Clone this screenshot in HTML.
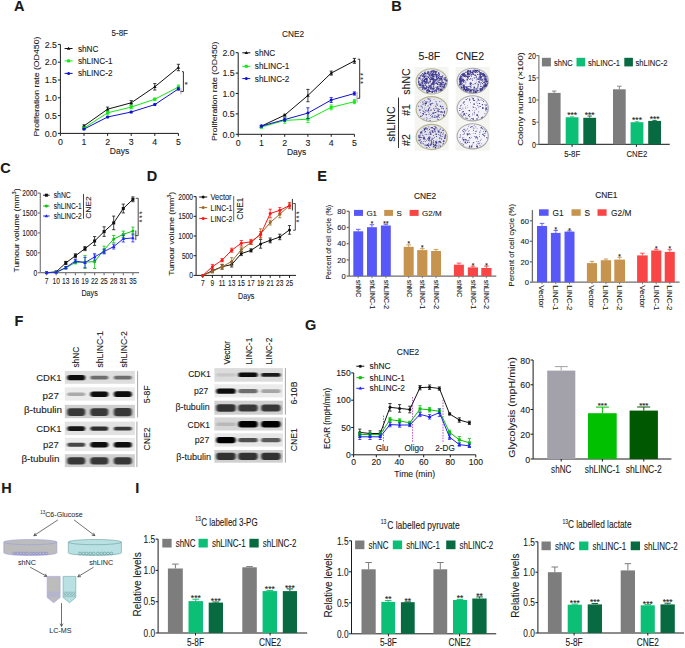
<!DOCTYPE html>
<html><head><meta charset="utf-8"><style>
html,body{margin:0;padding:0;background:#fff;}
svg{display:block;font-family:"Liberation Sans", sans-serif;}
text{fill:#1a1a1a;stroke:#1a1a1a;stroke-width:0.1px;}
text.lt{stroke-width:0;fill:#222;}
</style></head><body>
<svg width="685" height="648" viewBox="0 0 685 648">
<rect width="685" height="648" fill="#fff"/>
<text x="14.0" y="10.5" font-size="14.5" fill="#000" font-weight="bold">A</text>
<text x="0" y="0" font-size="9.5" transform="translate(119.8 36.0) scale(0.84 1)" text-anchor="middle">5-8F</text>
<line x1="60.4" y1="133.4" x2="60.4" y2="44.4" stroke="#1a1a1a" stroke-width="1"/>
<line x1="57.9" y1="133.4" x2="60.4" y2="133.4" stroke="#1a1a1a" stroke-width="1"/>
<text x="56.9" y="136.6" font-size="8.8" text-anchor="end">0.0</text>
<line x1="57.9" y1="115.6" x2="60.4" y2="115.6" stroke="#1a1a1a" stroke-width="1"/>
<text x="56.9" y="118.8" font-size="8.8" text-anchor="end">0.5</text>
<line x1="57.9" y1="97.8" x2="60.4" y2="97.8" stroke="#1a1a1a" stroke-width="1"/>
<text x="56.9" y="101.0" font-size="8.8" text-anchor="end">1.0</text>
<line x1="57.9" y1="80.0" x2="60.4" y2="80.0" stroke="#1a1a1a" stroke-width="1"/>
<text x="56.9" y="83.2" font-size="8.8" text-anchor="end">1.5</text>
<line x1="57.9" y1="62.2" x2="60.4" y2="62.2" stroke="#1a1a1a" stroke-width="1"/>
<text x="56.9" y="65.4" font-size="8.8" text-anchor="end">2.0</text>
<line x1="57.9" y1="44.4" x2="60.4" y2="44.4" stroke="#1a1a1a" stroke-width="1"/>
<text x="56.9" y="47.6" font-size="8.8" text-anchor="end">2.5</text>
<line x1="60.4" y1="133.4" x2="178.4" y2="133.4" stroke="#1a1a1a" stroke-width="1"/>
<line x1="60.4" y1="133.4" x2="60.4" y2="135.9" stroke="#1a1a1a" stroke-width="1"/>
<text x="60.4" y="144.6" font-size="8.8" text-anchor="middle">0</text>
<line x1="84.0" y1="133.4" x2="84.0" y2="135.9" stroke="#1a1a1a" stroke-width="1"/>
<text x="84.0" y="144.6" font-size="8.8" text-anchor="middle">1</text>
<line x1="107.6" y1="133.4" x2="107.6" y2="135.9" stroke="#1a1a1a" stroke-width="1"/>
<text x="107.6" y="144.6" font-size="8.8" text-anchor="middle">2</text>
<line x1="131.2" y1="133.4" x2="131.2" y2="135.9" stroke="#1a1a1a" stroke-width="1"/>
<text x="131.2" y="144.6" font-size="8.8" text-anchor="middle">3</text>
<line x1="154.8" y1="133.4" x2="154.8" y2="135.9" stroke="#1a1a1a" stroke-width="1"/>
<text x="154.8" y="144.6" font-size="8.8" text-anchor="middle">4</text>
<line x1="178.4" y1="133.4" x2="178.4" y2="135.9" stroke="#1a1a1a" stroke-width="1"/>
<text x="178.4" y="144.6" font-size="8.8" text-anchor="middle">5</text>
<text x="119.5" y="153.5" font-size="8.5" text-anchor="middle">Days</text>
<text x="39.1" y="86.6" font-size="8.0" transform="rotate(-90 39.1 86.6)" text-anchor="middle" textLength="100.0" lengthAdjust="spacingAndGlyphs">Proliferation rate (OD450)</text>
<polyline points="84.0,125.9 107.6,109.2 131.2,102.8 154.8,86.8 178.4,67.5" fill="none" stroke="#111" stroke-width="1"/>
<line x1="84.0" y1="124.9" x2="84.0" y2="127.0" stroke="#111" stroke-width="0.8"/>
<line x1="82.4" y1="124.9" x2="85.6" y2="124.9" stroke="#111" stroke-width="0.8"/>
<line x1="82.4" y1="127.0" x2="85.6" y2="127.0" stroke="#111" stroke-width="0.8"/>
<path d="M82.2,127.2 L85.8,127.2 L84.0,124.1Z" fill="#111"/>
<line x1="107.6" y1="107.1" x2="107.6" y2="111.3" stroke="#111" stroke-width="0.8"/>
<line x1="106.0" y1="107.1" x2="109.2" y2="107.1" stroke="#111" stroke-width="0.8"/>
<line x1="106.0" y1="111.3" x2="109.2" y2="111.3" stroke="#111" stroke-width="0.8"/>
<path d="M105.8,110.5 L109.4,110.5 L107.6,107.4Z" fill="#111"/>
<line x1="131.2" y1="100.6" x2="131.2" y2="104.9" stroke="#111" stroke-width="0.8"/>
<line x1="129.6" y1="100.6" x2="132.8" y2="100.6" stroke="#111" stroke-width="0.8"/>
<line x1="129.6" y1="104.9" x2="132.8" y2="104.9" stroke="#111" stroke-width="0.8"/>
<path d="M129.4,104.1 L133.0,104.1 L131.2,101.0Z" fill="#111"/>
<line x1="154.8" y1="83.6" x2="154.8" y2="90.0" stroke="#111" stroke-width="0.8"/>
<line x1="153.2" y1="83.6" x2="156.4" y2="83.6" stroke="#111" stroke-width="0.8"/>
<line x1="153.2" y1="90.0" x2="156.4" y2="90.0" stroke="#111" stroke-width="0.8"/>
<path d="M153.0,88.1 L156.6,88.1 L154.8,85.0Z" fill="#111"/>
<line x1="178.4" y1="64.3" x2="178.4" y2="70.7" stroke="#111" stroke-width="0.8"/>
<line x1="176.8" y1="64.3" x2="180.0" y2="64.3" stroke="#111" stroke-width="0.8"/>
<line x1="176.8" y1="70.7" x2="180.0" y2="70.7" stroke="#111" stroke-width="0.8"/>
<path d="M176.6,68.8 L180.2,68.8 L178.4,65.7Z" fill="#111"/>
<polyline points="84.0,128.1 107.6,112.8 131.2,107.1 154.8,99.2 178.4,87.1" fill="none" stroke="#10ec10" stroke-width="1"/>
<line x1="84.0" y1="127.3" x2="84.0" y2="128.8" stroke="#10ec10" stroke-width="0.8"/>
<line x1="82.4" y1="127.3" x2="85.6" y2="127.3" stroke="#10ec10" stroke-width="0.8"/>
<line x1="82.4" y1="128.8" x2="85.6" y2="128.8" stroke="#10ec10" stroke-width="0.8"/>
<rect x="82.5" y="126.6" width="3.0" height="3.0" fill="#10ec10"/>
<line x1="107.6" y1="111.3" x2="107.6" y2="114.2" stroke="#10ec10" stroke-width="0.8"/>
<line x1="106.0" y1="111.3" x2="109.2" y2="111.3" stroke="#10ec10" stroke-width="0.8"/>
<line x1="106.0" y1="114.2" x2="109.2" y2="114.2" stroke="#10ec10" stroke-width="0.8"/>
<rect x="106.1" y="111.3" width="3.0" height="3.0" fill="#10ec10"/>
<line x1="131.2" y1="105.3" x2="131.2" y2="108.8" stroke="#10ec10" stroke-width="0.8"/>
<line x1="129.6" y1="105.3" x2="132.8" y2="105.3" stroke="#10ec10" stroke-width="0.8"/>
<line x1="129.6" y1="108.8" x2="132.8" y2="108.8" stroke="#10ec10" stroke-width="0.8"/>
<rect x="129.7" y="105.6" width="3.0" height="3.0" fill="#10ec10"/>
<line x1="154.8" y1="98.2" x2="154.8" y2="100.3" stroke="#10ec10" stroke-width="0.8"/>
<line x1="153.2" y1="98.2" x2="156.4" y2="98.2" stroke="#10ec10" stroke-width="0.8"/>
<line x1="153.2" y1="100.3" x2="156.4" y2="100.3" stroke="#10ec10" stroke-width="0.8"/>
<rect x="153.3" y="97.7" width="3.0" height="3.0" fill="#10ec10"/>
<line x1="178.4" y1="85.0" x2="178.4" y2="89.3" stroke="#10ec10" stroke-width="0.8"/>
<line x1="176.8" y1="85.0" x2="180.0" y2="85.0" stroke="#10ec10" stroke-width="0.8"/>
<line x1="176.8" y1="89.3" x2="180.0" y2="89.3" stroke="#10ec10" stroke-width="0.8"/>
<rect x="176.9" y="85.6" width="3.0" height="3.0" fill="#10ec10"/>
<polyline points="84.0,129.1 107.6,117.0 131.2,112.0 154.8,104.6 178.4,88.9" fill="none" stroke="#1010d0" stroke-width="1"/>
<line x1="84.0" y1="128.4" x2="84.0" y2="129.8" stroke="#1010d0" stroke-width="0.8"/>
<line x1="82.4" y1="128.4" x2="85.6" y2="128.4" stroke="#1010d0" stroke-width="0.8"/>
<line x1="82.4" y1="129.8" x2="85.6" y2="129.8" stroke="#1010d0" stroke-width="0.8"/>
<circle cx="84.0" cy="129.1" r="1.5" fill="#1010d0"/>
<line x1="107.6" y1="116.3" x2="107.6" y2="117.7" stroke="#1010d0" stroke-width="0.8"/>
<line x1="106.0" y1="116.3" x2="109.2" y2="116.3" stroke="#1010d0" stroke-width="0.8"/>
<line x1="106.0" y1="117.7" x2="109.2" y2="117.7" stroke="#1010d0" stroke-width="0.8"/>
<circle cx="107.6" cy="117.0" r="1.5" fill="#1010d0"/>
<line x1="131.2" y1="111.3" x2="131.2" y2="112.8" stroke="#1010d0" stroke-width="0.8"/>
<line x1="129.6" y1="111.3" x2="132.8" y2="111.3" stroke="#1010d0" stroke-width="0.8"/>
<line x1="129.6" y1="112.8" x2="132.8" y2="112.8" stroke="#1010d0" stroke-width="0.8"/>
<circle cx="131.2" cy="112.0" r="1.5" fill="#1010d0"/>
<line x1="154.8" y1="103.9" x2="154.8" y2="105.3" stroke="#1010d0" stroke-width="0.8"/>
<line x1="153.2" y1="103.9" x2="156.4" y2="103.9" stroke="#1010d0" stroke-width="0.8"/>
<line x1="153.2" y1="105.3" x2="156.4" y2="105.3" stroke="#1010d0" stroke-width="0.8"/>
<circle cx="154.8" cy="104.6" r="1.5" fill="#1010d0"/>
<line x1="178.4" y1="87.8" x2="178.4" y2="90.0" stroke="#1010d0" stroke-width="0.8"/>
<line x1="176.8" y1="87.8" x2="180.0" y2="87.8" stroke="#1010d0" stroke-width="0.8"/>
<line x1="176.8" y1="90.0" x2="180.0" y2="90.0" stroke="#1010d0" stroke-width="0.8"/>
<circle cx="178.4" cy="88.9" r="1.5" fill="#1010d0"/>
<line x1="64.6" y1="48.5" x2="72.6" y2="48.5" stroke="#111" stroke-width="1"/>
<path d="M66.8,49.8 L70.4,49.8 L68.6,46.7Z" fill="#111"/>
<text x="77.9" y="51.5" font-size="8.2">shNC</text>
<line x1="64.6" y1="60.9" x2="72.6" y2="60.9" stroke="#10ec10" stroke-width="1"/>
<rect x="67.1" y="59.4" width="3.0" height="3.0" fill="#10ec10"/>
<text x="77.9" y="63.9" font-size="8.2">shLINC-1</text>
<line x1="64.6" y1="73.4" x2="72.6" y2="73.4" stroke="#1010d0" stroke-width="1"/>
<circle cx="68.6" cy="73.4" r="1.5" fill="#1010d0"/>
<text x="77.9" y="76.4" font-size="8.2">shLINC-2</text>
<line x1="183.4" y1="71.7" x2="183.4" y2="91.5" stroke="#1a1a1a" stroke-width="0.9"/>
<line x1="182.0" y1="71.7" x2="183.4" y2="71.7" stroke="#1a1a1a" stroke-width="0.9"/>
<line x1="180.4" y1="91.5" x2="183.4" y2="91.5" stroke="#1a1a1a" stroke-width="0.9"/>
<line x1="180.9" y1="88.4" x2="180.9" y2="94.3" stroke="#999" stroke-width="0.9"/>
<text x="186.0" y="87.2" font-size="7" text-anchor="middle">*</text>
<text x="0" y="0" font-size="9.5" transform="translate(293.0 37.0) scale(0.87 1)" text-anchor="middle">CNE2</text>
<line x1="238.2" y1="134.3" x2="238.2" y2="52.7" stroke="#1a1a1a" stroke-width="1"/>
<line x1="235.7" y1="134.3" x2="238.2" y2="134.3" stroke="#1a1a1a" stroke-width="1"/>
<text x="234.7" y="137.5" font-size="8.8" text-anchor="end">0.0</text>
<line x1="235.7" y1="113.9" x2="238.2" y2="113.9" stroke="#1a1a1a" stroke-width="1"/>
<text x="234.7" y="117.1" font-size="8.8" text-anchor="end">0.5</text>
<line x1="235.7" y1="93.5" x2="238.2" y2="93.5" stroke="#1a1a1a" stroke-width="1"/>
<text x="234.7" y="96.7" font-size="8.8" text-anchor="end">1.0</text>
<line x1="235.7" y1="73.1" x2="238.2" y2="73.1" stroke="#1a1a1a" stroke-width="1"/>
<text x="234.7" y="76.3" font-size="8.8" text-anchor="end">1.5</text>
<line x1="235.7" y1="52.7" x2="238.2" y2="52.7" stroke="#1a1a1a" stroke-width="1"/>
<text x="234.7" y="55.9" font-size="8.8" text-anchor="end">2.0</text>
<line x1="238.2" y1="134.3" x2="354.4" y2="134.3" stroke="#1a1a1a" stroke-width="1"/>
<line x1="238.2" y1="134.3" x2="238.2" y2="136.8" stroke="#1a1a1a" stroke-width="1"/>
<text x="238.2" y="145.5" font-size="8.8" text-anchor="middle">0</text>
<line x1="261.4" y1="134.3" x2="261.4" y2="136.8" stroke="#1a1a1a" stroke-width="1"/>
<text x="261.4" y="145.5" font-size="8.8" text-anchor="middle">1</text>
<line x1="284.7" y1="134.3" x2="284.7" y2="136.8" stroke="#1a1a1a" stroke-width="1"/>
<text x="284.7" y="145.5" font-size="8.8" text-anchor="middle">2</text>
<line x1="307.9" y1="134.3" x2="307.9" y2="136.8" stroke="#1a1a1a" stroke-width="1"/>
<text x="307.9" y="145.5" font-size="8.8" text-anchor="middle">3</text>
<line x1="331.2" y1="134.3" x2="331.2" y2="136.8" stroke="#1a1a1a" stroke-width="1"/>
<text x="331.2" y="145.5" font-size="8.8" text-anchor="middle">4</text>
<line x1="354.4" y1="134.3" x2="354.4" y2="136.8" stroke="#1a1a1a" stroke-width="1"/>
<text x="354.4" y="145.5" font-size="8.8" text-anchor="middle">5</text>
<text x="296.6" y="155.0" font-size="8.5" text-anchor="middle">Days</text>
<text x="217.0" y="91.3" font-size="8.0" transform="rotate(-90 217.0 91.3)" text-anchor="middle" textLength="99.5" lengthAdjust="spacingAndGlyphs">Proliferation rate (OD450)</text>
<polyline points="261.4,126.1 284.7,115.1 307.9,95.5 331.2,73.1 354.4,60.9" fill="none" stroke="#111" stroke-width="1"/>
<line x1="261.4" y1="125.3" x2="261.4" y2="127.0" stroke="#111" stroke-width="0.8"/>
<line x1="259.8" y1="125.3" x2="263.0" y2="125.3" stroke="#111" stroke-width="0.8"/>
<line x1="259.8" y1="127.0" x2="263.0" y2="127.0" stroke="#111" stroke-width="0.8"/>
<path d="M259.6,127.4 L263.2,127.4 L261.4,124.3Z" fill="#111"/>
<line x1="284.7" y1="114.3" x2="284.7" y2="115.9" stroke="#111" stroke-width="0.8"/>
<line x1="283.1" y1="114.3" x2="286.3" y2="114.3" stroke="#111" stroke-width="0.8"/>
<line x1="283.1" y1="115.9" x2="286.3" y2="115.9" stroke="#111" stroke-width="0.8"/>
<path d="M282.9,116.4 L286.5,116.4 L284.7,113.3Z" fill="#111"/>
<line x1="307.9" y1="89.4" x2="307.9" y2="101.7" stroke="#111" stroke-width="0.8"/>
<line x1="306.3" y1="89.4" x2="309.5" y2="89.4" stroke="#111" stroke-width="0.8"/>
<line x1="306.3" y1="101.7" x2="309.5" y2="101.7" stroke="#111" stroke-width="0.8"/>
<path d="M306.1,96.8 L309.7,96.8 L307.9,93.7Z" fill="#111"/>
<line x1="331.2" y1="71.1" x2="331.2" y2="75.1" stroke="#111" stroke-width="0.8"/>
<line x1="329.6" y1="71.1" x2="332.8" y2="71.1" stroke="#111" stroke-width="0.8"/>
<line x1="329.6" y1="75.1" x2="332.8" y2="75.1" stroke="#111" stroke-width="0.8"/>
<path d="M329.4,74.4 L333.0,74.4 L331.2,71.3Z" fill="#111"/>
<line x1="354.4" y1="58.4" x2="354.4" y2="63.3" stroke="#111" stroke-width="0.8"/>
<line x1="352.8" y1="58.4" x2="356.0" y2="58.4" stroke="#111" stroke-width="0.8"/>
<line x1="352.8" y1="63.3" x2="356.0" y2="63.3" stroke="#111" stroke-width="0.8"/>
<path d="M352.6,62.2 L356.2,62.2 L354.4,59.1Z" fill="#111"/>
<polyline points="261.4,127.0 284.7,120.4 307.9,119.2 331.2,107.4 354.4,101.7" fill="none" stroke="#10ec10" stroke-width="1"/>
<line x1="261.4" y1="125.7" x2="261.4" y2="128.2" stroke="#10ec10" stroke-width="0.8"/>
<line x1="259.8" y1="125.7" x2="263.0" y2="125.7" stroke="#10ec10" stroke-width="0.8"/>
<line x1="259.8" y1="128.2" x2="263.0" y2="128.2" stroke="#10ec10" stroke-width="0.8"/>
<rect x="259.9" y="125.5" width="3.0" height="3.0" fill="#10ec10"/>
<line x1="284.7" y1="117.6" x2="284.7" y2="123.3" stroke="#10ec10" stroke-width="0.8"/>
<line x1="283.1" y1="117.6" x2="286.3" y2="117.6" stroke="#10ec10" stroke-width="0.8"/>
<line x1="283.1" y1="123.3" x2="286.3" y2="123.3" stroke="#10ec10" stroke-width="0.8"/>
<rect x="283.2" y="118.9" width="3.0" height="3.0" fill="#10ec10"/>
<line x1="307.9" y1="115.9" x2="307.9" y2="122.5" stroke="#10ec10" stroke-width="0.8"/>
<line x1="306.3" y1="115.9" x2="309.5" y2="115.9" stroke="#10ec10" stroke-width="0.8"/>
<line x1="306.3" y1="122.5" x2="309.5" y2="122.5" stroke="#10ec10" stroke-width="0.8"/>
<rect x="306.4" y="117.7" width="3.0" height="3.0" fill="#10ec10"/>
<line x1="331.2" y1="104.9" x2="331.2" y2="109.8" stroke="#10ec10" stroke-width="0.8"/>
<line x1="329.6" y1="104.9" x2="332.8" y2="104.9" stroke="#10ec10" stroke-width="0.8"/>
<line x1="329.6" y1="109.8" x2="332.8" y2="109.8" stroke="#10ec10" stroke-width="0.8"/>
<rect x="329.7" y="105.9" width="3.0" height="3.0" fill="#10ec10"/>
<line x1="354.4" y1="99.6" x2="354.4" y2="103.7" stroke="#10ec10" stroke-width="0.8"/>
<line x1="352.8" y1="99.6" x2="356.0" y2="99.6" stroke="#10ec10" stroke-width="0.8"/>
<line x1="352.8" y1="103.7" x2="356.0" y2="103.7" stroke="#10ec10" stroke-width="0.8"/>
<rect x="352.9" y="100.2" width="3.0" height="3.0" fill="#10ec10"/>
<polyline points="261.4,126.1 284.7,119.6 307.9,113.1 331.2,100.0 354.4,93.5" fill="none" stroke="#1010d0" stroke-width="1"/>
<line x1="261.4" y1="125.3" x2="261.4" y2="127.0" stroke="#1010d0" stroke-width="0.8"/>
<line x1="259.8" y1="125.3" x2="263.0" y2="125.3" stroke="#1010d0" stroke-width="0.8"/>
<line x1="259.8" y1="127.0" x2="263.0" y2="127.0" stroke="#1010d0" stroke-width="0.8"/>
<circle cx="261.4" cy="126.1" r="1.5" fill="#1010d0"/>
<line x1="284.7" y1="118.0" x2="284.7" y2="121.2" stroke="#1010d0" stroke-width="0.8"/>
<line x1="283.1" y1="118.0" x2="286.3" y2="118.0" stroke="#1010d0" stroke-width="0.8"/>
<line x1="283.1" y1="121.2" x2="286.3" y2="121.2" stroke="#1010d0" stroke-width="0.8"/>
<circle cx="284.7" cy="119.6" r="1.5" fill="#1010d0"/>
<line x1="307.9" y1="107.8" x2="307.9" y2="118.4" stroke="#1010d0" stroke-width="0.8"/>
<line x1="306.3" y1="107.8" x2="309.5" y2="107.8" stroke="#1010d0" stroke-width="0.8"/>
<line x1="306.3" y1="118.4" x2="309.5" y2="118.4" stroke="#1010d0" stroke-width="0.8"/>
<circle cx="307.9" cy="113.1" r="1.5" fill="#1010d0"/>
<line x1="331.2" y1="97.6" x2="331.2" y2="102.5" stroke="#1010d0" stroke-width="0.8"/>
<line x1="329.6" y1="97.6" x2="332.8" y2="97.6" stroke="#1010d0" stroke-width="0.8"/>
<line x1="329.6" y1="102.5" x2="332.8" y2="102.5" stroke="#1010d0" stroke-width="0.8"/>
<circle cx="331.2" cy="100.0" r="1.5" fill="#1010d0"/>
<line x1="354.4" y1="91.9" x2="354.4" y2="95.1" stroke="#1010d0" stroke-width="0.8"/>
<line x1="352.8" y1="91.9" x2="356.0" y2="91.9" stroke="#1010d0" stroke-width="0.8"/>
<line x1="352.8" y1="95.1" x2="356.0" y2="95.1" stroke="#1010d0" stroke-width="0.8"/>
<circle cx="354.4" cy="93.5" r="1.5" fill="#1010d0"/>
<line x1="242.3" y1="52.8" x2="250.3" y2="52.8" stroke="#111" stroke-width="1"/>
<path d="M244.5,54.1 L248.1,54.1 L246.3,51.0Z" fill="#111"/>
<text x="254.8" y="55.8" font-size="8.2">shNC</text>
<line x1="242.3" y1="66.3" x2="250.3" y2="66.3" stroke="#10ec10" stroke-width="1"/>
<rect x="244.8" y="64.8" width="3.0" height="3.0" fill="#10ec10"/>
<text x="254.8" y="69.3" font-size="8.2">shLINC-1</text>
<line x1="242.3" y1="78.6" x2="250.3" y2="78.6" stroke="#1010d0" stroke-width="1"/>
<circle cx="246.3" cy="78.6" r="1.5" fill="#1010d0"/>
<text x="254.8" y="81.6" font-size="8.2">shLINC-2</text>
<line x1="359.7" y1="59.2" x2="359.7" y2="98.3" stroke="#1a1a1a" stroke-width="0.9"/>
<line x1="357.8" y1="59.2" x2="359.7" y2="59.2" stroke="#1a1a1a" stroke-width="0.9"/>
<line x1="357.4" y1="98.3" x2="359.7" y2="98.3" stroke="#1a1a1a" stroke-width="0.9"/>
<line x1="357.0" y1="92.0" x2="357.0" y2="102.7" stroke="#999" stroke-width="0.9"/>
<text x="358.2" y="79.3" font-size="6.5" transform="rotate(90 358.2 79.3)" text-anchor="middle" letter-spacing="1.6">***</text>
<text x="391.3" y="11.3" font-size="14.5" fill="#000" font-weight="bold">B</text>
<text x="429.4" y="60.2" font-size="10.6" text-anchor="middle">5-8F</text>
<text x="469.9" y="60.2" font-size="10.6" text-anchor="middle">CNE2</text>
<text x="409.6" y="81.5" font-size="10.6" transform="rotate(-90 409.6 81.5)" text-anchor="middle">shNC</text>
<text x="409.6" y="109.9" font-size="10.6" transform="rotate(-90 409.6 109.9)" text-anchor="middle">#1</text>
<text x="409.6" y="140.1" font-size="10.6" transform="rotate(-90 409.6 140.1)" text-anchor="middle">#2</text>
<text x="394.9" y="124.1" font-size="10.6" transform="rotate(-90 394.9 124.1)" text-anchor="middle">shLINC</text>
<line x1="398.5" y1="97.5" x2="398.5" y2="148.1" stroke="#1a1a1a" stroke-width="0.9"/>
<rect x="414.6" y="67.0" width="34.0" height="28.5" fill="#f4f4f0"/>
<rect x="414.6" y="95.5" width="34.0" height="27.7" fill="#f4f4f0"/>
<rect x="414.6" y="123.2" width="34.0" height="27.4" fill="#f4f4f0"/>
<rect x="455.6" y="67.0" width="34.0" height="28.5" fill="#f4f4f0"/>
<rect x="455.6" y="95.5" width="34.0" height="27.7" fill="#f4f4f0"/>
<rect x="455.6" y="123.2" width="34.0" height="27.4" fill="#f4f4f0"/>
<ellipse cx="431.7" cy="81.4" rx="15.6" ry="12.6" fill="#e8e6f0" stroke="#b4b48e" stroke-width="1.1"/>
<path d="M439.2 75.9h0.9v0.9h-0.9zM425.0 88.2h0.6v0.6h-0.6zM418.1 82.3h0.9v0.9h-0.9zM438.2 82.0h0.9v0.9h-0.9zM433.2 77.9h0.9v0.9h-0.9zM429.3 90.8h0.6v0.6h-0.6zM426.9 86.4h0.9v0.9h-0.9zM434.2 90.0h0.9v0.9h-0.9zM429.2 74.0h0.8v0.8h-0.8zM432.3 79.0h0.6v0.6h-0.6zM430.8 77.1h0.9v0.9h-0.9zM439.4 82.3h0.7v0.7h-0.7zM429.0 77.9h0.8v0.8h-0.8zM430.5 76.2h0.6v0.6h-0.6zM428.4 89.5h0.7v0.7h-0.7zM432.2 82.8h0.6v0.6h-0.6zM431.2 78.3h0.9v0.9h-0.9zM422.5 83.3h0.8v0.8h-0.8zM422.2 75.9h0.8v0.8h-0.8zM435.9 76.8h0.9v0.9h-0.9zM430.9 70.6h0.9v0.9h-0.9zM432.0 74.8h0.6v0.6h-0.6zM430.1 81.5h0.7v0.7h-0.7zM445.3 84.4h0.9v0.9h-0.9zM423.8 84.8h0.8v0.8h-0.8zM436.3 79.7h0.7v0.7h-0.7zM433.4 89.3h0.7v0.7h-0.7zM423.3 85.3h0.7v0.7h-0.7zM431.5 91.3h0.9v0.9h-0.9zM417.9 83.9h0.8v0.8h-0.8zM420.2 78.7h0.9v0.9h-0.9zM439.1 83.7h0.8v0.8h-0.8zM439.7 86.3h0.6v0.6h-0.6zM426.6 79.3h0.7v0.7h-0.7zM441.1 77.8h0.9v0.9h-0.9zM419.6 82.5h0.8v0.8h-0.8zM427.8 76.8h0.6v0.6h-0.6zM430.5 76.4h0.8v0.8h-0.8zM421.9 89.2h0.9v0.9h-0.9zM440.5 82.4h0.8v0.8h-0.8zM419.2 77.3h0.9v0.9h-0.9zM420.6 75.0h0.9v0.9h-0.9zM436.3 76.0h0.8v0.8h-0.8zM423.1 78.2h0.6v0.6h-0.6zM445.5 80.2h0.8v0.8h-0.8zM422.7 88.0h0.8v0.8h-0.8zM424.4 72.4h0.6v0.6h-0.6zM424.4 71.7h0.6v0.6h-0.6zM427.7 80.7h0.6v0.6h-0.6zM422.4 87.6h0.8v0.8h-0.8zM426.1 86.1h0.8v0.8h-0.8zM421.0 74.8h0.6v0.6h-0.6zM439.7 88.7h0.7v0.7h-0.7zM442.1 75.7h0.9v0.9h-0.9zM440.5 82.5h0.9v0.9h-0.9zM422.3 81.1h0.9v0.9h-0.9zM437.2 83.2h0.7v0.7h-0.7zM424.8 88.8h0.9v0.9h-0.9zM431.1 75.2h0.8v0.8h-0.8zM443.8 87.3h0.8v0.8h-0.8zM422.0 87.4h0.8v0.8h-0.8zM425.9 76.9h0.7v0.7h-0.7zM437.5 86.7h0.6v0.6h-0.6zM444.3 86.4h0.9v0.9h-0.9zM441.6 82.4h0.6v0.6h-0.6zM439.6 89.1h0.6v0.6h-0.6zM430.1 91.0h0.9v0.9h-0.9zM428.8 90.7h0.9v0.9h-0.9zM425.3 78.7h0.7v0.7h-0.7zM432.9 76.3h0.8v0.8h-0.8zM441.2 80.2h0.7v0.7h-0.7zM433.0 81.2h0.7v0.7h-0.7zM421.3 81.4h0.8v0.8h-0.8zM429.9 85.4h0.8v0.8h-0.8zM430.3 77.0h0.9v0.9h-0.9zM428.3 82.7h0.7v0.7h-0.7zM445.6 80.5h0.9v0.9h-0.9zM444.2 86.2h0.7v0.7h-0.7zM429.6 79.3h0.6v0.6h-0.6zM431.5 87.0h0.8v0.8h-0.8zM435.4 79.3h0.9v0.9h-0.9zM439.8 89.2h0.6v0.6h-0.6zM427.4 76.1h0.8v0.8h-0.8zM421.7 88.9h0.9v0.9h-0.9zM429.5 78.1h0.6v0.6h-0.6zM428.9 85.7h0.7v0.7h-0.7zM432.4 78.4h0.6v0.6h-0.6zM422.2 84.9h0.8v0.8h-0.8zM427.6 86.8h0.9v0.9h-0.9zM422.3 87.9h0.8v0.8h-0.8zM437.9 75.9h0.7v0.7h-0.7zM425.1 71.7h0.9v0.9h-0.9zM430.5 73.8h0.9v0.9h-0.9zM436.9 81.3h0.9v0.9h-0.9zM436.4 71.4h0.7v0.7h-0.7zM436.4 78.9h0.8v0.8h-0.8zM422.4 79.8h0.6v0.6h-0.6zM443.3 82.5h0.9v0.9h-0.9zM425.0 83.9h0.6v0.6h-0.6zM443.5 81.7h0.6v0.6h-0.6zM439.2 90.4h0.8v0.8h-0.8zM432.0 78.9h0.9v0.9h-0.9zM420.4 84.8h0.6v0.6h-0.6zM425.7 73.6h0.8v0.8h-0.8zM420.2 77.9h0.6v0.6h-0.6zM426.0 88.2h0.9v0.9h-0.9zM430.3 76.4h0.8v0.8h-0.8zM421.2 81.9h0.8v0.8h-0.8zM439.8 86.0h0.8v0.8h-0.8zM428.0 77.0h0.8v0.8h-0.8zM444.3 84.1h0.8v0.8h-0.8zM435.8 74.0h0.6v0.6h-0.6zM434.3 90.4h0.8v0.8h-0.8zM423.7 74.6h0.7v0.7h-0.7zM429.6 85.4h0.7v0.7h-0.7zM440.2 86.5h0.8v0.8h-0.8zM432.6 78.7h0.6v0.6h-0.6zM428.9 90.0h0.9v0.9h-0.9zM435.8 82.3h0.8v0.8h-0.8zM445.2 82.4h0.8v0.8h-0.8zM432.4 82.4h0.9v0.9h-0.9zM434.6 83.2h0.7v0.7h-0.7zM431.9 83.3h0.7v0.7h-0.7zM428.9 91.3h0.6v0.6h-0.6zM441.6 78.8h0.8v0.8h-0.8zM435.6 89.4h0.9v0.9h-0.9zM430.4 72.7h0.9v0.9h-0.9zM444.6 79.4h0.8v0.8h-0.8zM438.6 85.7h0.9v0.9h-0.9zM423.6 88.8h0.9v0.9h-0.9zM424.6 80.9h0.9v0.9h-0.9zM433.2 79.6h0.6v0.6h-0.6zM422.5 88.3h0.6v0.6h-0.6zM420.9 80.2h0.9v0.9h-0.9zM424.8 86.9h0.8v0.8h-0.8zM442.3 84.4h0.7v0.7h-0.7zM440.0 84.2h0.6v0.6h-0.6zM436.2 91.0h0.8v0.8h-0.8zM423.9 76.3h0.9v0.9h-0.9zM421.6 75.9h0.6v0.6h-0.6zM423.5 78.4h0.8v0.8h-0.8zM422.4 87.3h0.9v0.9h-0.9zM421.3 87.3h0.7v0.7h-0.7zM432.8 86.0h0.6v0.6h-0.6zM423.9 74.6h0.8v0.8h-0.8zM428.0 86.4h0.6v0.6h-0.6zM436.8 76.3h0.8v0.8h-0.8zM438.1 72.9h0.8v0.8h-0.8zM429.0 85.4h0.9v0.9h-0.9zM433.5 82.2h0.7v0.7h-0.7zM420.5 75.5h0.8v0.8h-0.8zM424.9 72.9h0.8v0.8h-0.8zM427.8 82.7h0.6v0.6h-0.6zM442.5 75.0h0.8v0.8h-0.8zM441.2 79.3h0.7v0.7h-0.7zM425.1 85.2h0.6v0.6h-0.6zM432.8 70.3h0.7v0.7h-0.7zM428.3 82.8h0.9v0.9h-0.9zM418.3 79.9h0.8v0.8h-0.8zM444.1 79.3h0.6v0.6h-0.6zM420.2 87.7h0.6v0.6h-0.6zM440.6 88.9h0.8v0.8h-0.8zM433.2 87.8h0.8v0.8h-0.8zM424.3 82.8h0.7v0.7h-0.7zM437.5 79.6h0.8v0.8h-0.8zM430.0 85.9h0.7v0.7h-0.7zM419.0 85.3h0.7v0.7h-0.7zM432.9 84.2h0.6v0.6h-0.6zM443.1 78.8h0.7v0.7h-0.7zM436.2 87.8h0.9v0.9h-0.9zM428.0 84.8h0.7v0.7h-0.7zM436.1 91.4h0.9v0.9h-0.9zM417.9 79.1h0.7v0.7h-0.7zM422.4 83.3h0.9v0.9h-0.9zM432.1 74.4h0.6v0.6h-0.6zM418.7 81.8h0.6v0.6h-0.6zM422.2 73.1h0.8v0.8h-0.8zM439.4 84.5h0.9v0.9h-0.9zM433.2 85.9h0.7v0.7h-0.7zM431.6 76.4h0.8v0.8h-0.8zM433.6 89.2h0.6v0.6h-0.6zM424.6 78.8h0.6v0.6h-0.6zM424.6 74.5h0.7v0.7h-0.7zM436.5 70.8h0.9v0.9h-0.9zM433.0 91.1h0.7v0.7h-0.7zM425.6 85.1h0.8v0.8h-0.8zM434.3 84.0h0.8v0.8h-0.8zM435.1 71.3h0.7v0.7h-0.7zM435.4 72.4h0.7v0.7h-0.7zM438.7 81.5h0.7v0.7h-0.7zM440.8 78.8h0.7v0.7h-0.7zM440.7 83.2h0.6v0.6h-0.6zM433.5 85.1h0.7v0.7h-0.7zM425.1 84.5h0.7v0.7h-0.7zM432.8 91.0h0.6v0.6h-0.6zM419.6 87.0h0.9v0.9h-0.9zM422.8 74.0h0.9v0.9h-0.9zM432.3 74.6h0.6v0.6h-0.6zM422.5 73.4h0.8v0.8h-0.8zM440.2 89.1h0.9v0.9h-0.9zM425.1 78.1h0.6v0.6h-0.6zM433.2 90.7h0.9v0.9h-0.9zM426.1 87.0h0.8v0.8h-0.8zM419.3 83.8h0.8v0.8h-0.8zM428.0 71.8h0.6v0.6h-0.6zM441.6 80.2h0.6v0.6h-0.6zM427.7 73.4h0.6v0.6h-0.6zM429.0 89.7h0.8v0.8h-0.8zM424.5 88.0h0.9v0.9h-0.9zM433.1 83.1h0.6v0.6h-0.6zM437.7 90.5h0.9v0.9h-0.9zM419.8 76.5h0.8v0.8h-0.8zM424.1 72.3h0.6v0.6h-0.6zM438.5 76.9h0.7v0.7h-0.7zM426.4 91.0h0.7v0.7h-0.7zM418.6 83.4h0.9v0.9h-0.9zM424.1 83.4h0.6v0.6h-0.6zM438.0 80.5h0.8v0.8h-0.8zM444.9 77.7h0.8v0.8h-0.8zM433.2 70.3h0.6v0.6h-0.6zM432.4 74.0h0.7v0.7h-0.7zM423.4 76.6h0.8v0.8h-0.8zM444.0 85.0h0.9v0.9h-0.9zM429.4 86.0h0.9v0.9h-0.9zM434.6 86.8h0.9v0.9h-0.9zM426.0 87.4h0.8v0.8h-0.8zM439.1 87.8h0.8v0.8h-0.8zM424.0 80.1h0.8v0.8h-0.8zM437.3 84.2h0.9v0.9h-0.9zM434.3 87.9h0.7v0.7h-0.7zM437.9 77.5h0.6v0.6h-0.6zM421.1 85.7h0.8v0.8h-0.8zM437.4 74.2h0.8v0.8h-0.8zM426.1 78.6h0.9v0.9h-0.9zM440.6 89.5h0.9v0.9h-0.9zM444.2 83.8h0.7v0.7h-0.7zM438.0 76.9h0.8v0.8h-0.8zM426.2 81.4h0.6v0.6h-0.6zM441.5 87.1h0.6v0.6h-0.6zM431.7 89.8h0.8v0.8h-0.8zM418.4 77.8h0.6v0.6h-0.6zM428.6 71.5h0.9v0.9h-0.9zM422.7 84.6h0.7v0.7h-0.7zM423.8 77.0h0.6v0.6h-0.6zM425.6 77.9h0.9v0.9h-0.9zM442.3 86.4h0.7v0.7h-0.7zM426.7 78.2h0.9v0.9h-0.9zM442.1 78.8h0.7v0.7h-0.7zM442.7 82.1h0.8v0.8h-0.8zM439.0 78.5h0.8v0.8h-0.8zM426.4 91.8h0.8v0.8h-0.8zM421.0 73.9h0.7v0.7h-0.7zM426.4 76.4h0.6v0.6h-0.6zM429.7 82.5h0.6v0.6h-0.6zM436.0 86.7h0.8v0.8h-0.8zM441.9 87.8h0.8v0.8h-0.8zM427.2 72.8h0.6v0.6h-0.6zM426.8 79.2h0.6v0.6h-0.6zM424.0 76.7h0.7v0.7h-0.7zM419.6 83.1h0.9v0.9h-0.9zM442.1 80.0h0.7v0.7h-0.7zM432.1 78.1h0.6v0.6h-0.6zM419.8 75.5h0.7v0.7h-0.7zM422.1 85.7h0.6v0.6h-0.6zM423.6 90.2h0.6v0.6h-0.6zM419.4 77.3h0.8v0.8h-0.8zM434.7 90.2h0.9v0.9h-0.9zM435.9 77.4h0.8v0.8h-0.8z" fill="#28237e" opacity="0.9"/>
<path d="M430.9 78.7h1.4v1.4h-1.4zM429.8 87.3h1.4v1.4h-1.4zM431.9 90.7h1.4v1.4h-1.4zM434.2 70.9h1.4v1.4h-1.4zM419.9 85.1h1.2v1.2h-1.2zM435.9 73.9h1.2v1.2h-1.2zM431.3 78.2h1.6v1.6h-1.6zM432.8 87.9h1.6v1.6h-1.6zM430.4 87.1h1.4v1.4h-1.4zM420.5 84.2h1.2v1.2h-1.2zM440.2 75.9h1.6v1.6h-1.6zM423.8 79.1h1.2v1.2h-1.2zM426.2 89.5h1.4v1.4h-1.4zM438.7 79.5h1.2v1.2h-1.2zM444.9 83.0h1.6v1.6h-1.6zM435.2 70.9h1.2v1.2h-1.2zM439.8 77.8h1.6v1.6h-1.6zM439.4 82.1h1.2v1.2h-1.2zM427.1 72.7h1.6v1.6h-1.6zM429.4 72.7h1.2v1.2h-1.2zM437.8 77.2h1.4v1.4h-1.4zM434.5 80.3h1.2v1.2h-1.2zM444.3 78.9h1.4v1.4h-1.4zM431.7 88.1h1.6v1.6h-1.6zM422.5 79.9h1.6v1.6h-1.6zM431.3 74.1h1.6v1.6h-1.6zM435.7 75.2h1.6v1.6h-1.6zM433.7 74.1h1.2v1.2h-1.2zM436.9 86.3h1.6v1.6h-1.6zM440.5 84.3h1.2v1.2h-1.2zM434.6 79.3h1.4v1.4h-1.4zM432.5 83.2h1.6v1.6h-1.6zM424.3 76.0h1.2v1.2h-1.2zM433.7 78.8h1.2v1.2h-1.2zM433.7 70.4h1.6v1.6h-1.6zM430.3 85.2h1.6v1.6h-1.6zM432.0 76.2h1.6v1.6h-1.6zM422.1 86.2h1.2v1.2h-1.2zM432.5 75.5h1.2v1.2h-1.2zM443.1 84.2h1.4v1.4h-1.4zM434.0 91.2h1.4v1.4h-1.4zM427.7 87.1h1.6v1.6h-1.6zM423.3 85.5h1.2v1.2h-1.2zM428.8 81.2h1.2v1.2h-1.2zM427.2 89.0h1.6v1.6h-1.6zM422.3 75.1h1.4v1.4h-1.4zM428.2 73.9h1.4v1.4h-1.4zM430.6 83.2h1.6v1.6h-1.6zM424.8 81.3h1.2v1.2h-1.2zM440.2 89.5h1.4v1.4h-1.4zM441.7 76.6h1.2v1.2h-1.2zM442.6 87.2h1.2v1.2h-1.2zM419.7 84.8h1.2v1.2h-1.2zM425.2 72.8h1.2v1.2h-1.2zM431.7 73.0h1.2v1.2h-1.2zM435.7 75.6h1.6v1.6h-1.6zM441.8 89.4h1.2v1.2h-1.2zM432.6 80.1h1.4v1.4h-1.4zM428.4 86.7h1.2v1.2h-1.2zM424.8 78.7h1.6v1.6h-1.6zM426.1 79.7h1.6v1.6h-1.6zM425.9 78.1h1.6v1.6h-1.6zM432.3 70.3h1.4v1.4h-1.4zM443.6 77.5h1.2v1.2h-1.2zM432.6 73.9h1.6v1.6h-1.6zM423.7 73.1h1.4v1.4h-1.4zM437.8 74.7h1.6v1.6h-1.6zM432.5 71.9h1.2v1.2h-1.2zM430.5 74.4h1.6v1.6h-1.6zM429.5 85.1h1.4v1.4h-1.4zM440.7 78.4h1.4v1.4h-1.4zM437.9 72.2h1.2v1.2h-1.2zM436.0 74.3h1.4v1.4h-1.4zM433.1 82.2h1.6v1.6h-1.6zM439.9 85.4h1.4v1.4h-1.4zM428.5 90.6h1.6v1.6h-1.6zM419.0 84.2h1.2v1.2h-1.2zM432.6 83.9h1.4v1.4h-1.4zM425.1 81.0h1.4v1.4h-1.4zM432.7 71.4h1.6v1.6h-1.6zM426.4 81.3h1.2v1.2h-1.2zM442.8 85.9h1.6v1.6h-1.6zM435.0 72.0h1.6v1.6h-1.6zM435.3 89.6h1.6v1.6h-1.6zM432.2 70.6h1.2v1.2h-1.2zM421.5 83.1h1.2v1.2h-1.2zM438.1 72.4h1.4v1.4h-1.4zM432.5 78.3h1.4v1.4h-1.4zM435.5 82.5h1.6v1.6h-1.6zM433.0 75.8h1.6v1.6h-1.6zM435.1 80.2h1.2v1.2h-1.2zM427.8 76.7h1.4v1.4h-1.4zM440.3 88.6h1.6v1.6h-1.6zM429.8 78.6h1.4v1.4h-1.4zM428.8 75.2h1.4v1.4h-1.4zM429.8 79.1h1.4v1.4h-1.4zM421.7 78.6h1.2v1.2h-1.2zM436.5 88.1h1.2v1.2h-1.2zM421.8 82.0h1.4v1.4h-1.4zM432.8 78.9h1.2v1.2h-1.2zM436.3 77.8h1.6v1.6h-1.6zM424.5 87.7h1.6v1.6h-1.6zM444.7 77.2h1.4v1.4h-1.4zM438.3 77.7h1.4v1.4h-1.4zM432.9 86.3h1.2v1.2h-1.2zM433.2 78.9h1.6v1.6h-1.6zM436.9 83.5h1.6v1.6h-1.6zM438.8 74.1h1.2v1.2h-1.2zM427.3 82.2h1.4v1.4h-1.4zM423.4 80.6h1.6v1.6h-1.6zM439.4 79.6h1.2v1.2h-1.2zM436.5 88.9h1.2v1.2h-1.2zM430.4 71.1h1.6v1.6h-1.6zM427.2 71.3h1.6v1.6h-1.6zM430.8 83.3h1.6v1.6h-1.6zM440.0 83.1h1.6v1.6h-1.6zM432.5 72.4h1.4v1.4h-1.4zM434.8 70.9h1.6v1.6h-1.6zM445.7 79.5h1.6v1.6h-1.6zM426.7 91.4h1.6v1.6h-1.6zM422.6 85.6h1.6v1.6h-1.6zM429.6 80.8h1.2v1.2h-1.2zM441.1 83.3h1.6v1.6h-1.6zM434.7 73.8h1.6v1.6h-1.6zM424.7 82.3h1.4v1.4h-1.4zM424.4 79.0h1.2v1.2h-1.2zM445.8 80.0h1.6v1.6h-1.6zM431.4 91.3h1.6v1.6h-1.6zM425.8 82.5h1.2v1.2h-1.2zM429.9 87.8h1.6v1.6h-1.6zM432.1 81.7h1.2v1.2h-1.2zM438.3 89.4h1.2v1.2h-1.2zM433.4 80.7h1.6v1.6h-1.6zM433.1 75.8h1.2v1.2h-1.2zM418.4 77.5h1.6v1.6h-1.6zM440.1 89.9h1.4v1.4h-1.4zM423.1 75.2h1.2v1.2h-1.2zM423.2 87.0h1.6v1.6h-1.6zM423.7 76.6h1.4v1.4h-1.4zM441.2 81.2h1.2v1.2h-1.2zM434.7 72.7h1.4v1.4h-1.4zM422.2 84.7h1.2v1.2h-1.2zM419.7 83.9h1.6v1.6h-1.6zM441.6 85.6h1.2v1.2h-1.2zM431.1 70.9h1.2v1.2h-1.2zM437.8 88.1h1.4v1.4h-1.4zM428.0 90.2h1.2v1.2h-1.2zM425.3 75.3h1.2v1.2h-1.2zM418.0 81.1h1.4v1.4h-1.4zM419.9 84.7h1.4v1.4h-1.4zM441.8 81.4h1.4v1.4h-1.4zM427.1 89.3h1.6v1.6h-1.6z" fill="#28237e" opacity="0.8"/>
<ellipse cx="431.7" cy="109.2" rx="15.6" ry="12.6" fill="#e6e5ee" stroke="#b4b48e" stroke-width="1.1"/>
<path d="M441.3 114.5h0.8v0.8h-0.8zM421.9 107.6h0.8v0.8h-0.8zM433.0 108.0h0.6v0.6h-0.6zM442.3 106.1h0.9v0.9h-0.9zM429.5 117.9h0.7v0.7h-0.7zM426.7 101.0h0.7v0.7h-0.7zM445.9 108.0h0.8v0.8h-0.8zM440.0 105.9h0.9v0.9h-0.9zM422.0 114.9h0.9v0.9h-0.9zM436.1 103.5h0.9v0.9h-0.9zM431.7 116.7h0.9v0.9h-0.9zM443.1 108.3h0.9v0.9h-0.9zM431.3 102.9h0.7v0.7h-0.7zM442.5 111.8h0.9v0.9h-0.9zM426.3 119.5h0.9v0.9h-0.9zM426.3 102.6h0.6v0.6h-0.6zM433.8 99.0h0.6v0.6h-0.6zM439.0 101.0h0.7v0.7h-0.7zM440.7 101.5h0.6v0.6h-0.6zM428.4 98.9h0.7v0.7h-0.7zM444.2 112.1h0.8v0.8h-0.8zM427.0 98.6h0.6v0.6h-0.6zM443.2 115.0h0.7v0.7h-0.7zM430.9 103.0h0.8v0.8h-0.8zM432.2 115.6h0.8v0.8h-0.8zM424.8 111.6h0.6v0.6h-0.6zM436.6 103.6h0.7v0.7h-0.7zM420.1 112.3h0.6v0.6h-0.6zM430.1 103.6h0.8v0.8h-0.8zM424.7 107.5h0.6v0.6h-0.6zM421.7 106.6h0.6v0.6h-0.6zM424.3 100.2h0.7v0.7h-0.7zM436.5 108.2h0.9v0.9h-0.9zM423.5 118.4h0.9v0.9h-0.9zM429.6 98.4h0.9v0.9h-0.9zM444.0 111.0h0.9v0.9h-0.9zM427.9 109.6h0.8v0.8h-0.8zM428.0 98.3h0.6v0.6h-0.6zM420.4 102.4h0.6v0.6h-0.6zM435.6 108.4h0.6v0.6h-0.6zM426.1 114.3h0.9v0.9h-0.9zM422.9 110.8h0.9v0.9h-0.9zM421.4 105.7h0.8v0.8h-0.8zM441.7 112.4h0.6v0.6h-0.6zM439.6 114.3h0.8v0.8h-0.8zM428.1 108.8h0.9v0.9h-0.9zM425.9 103.1h0.8v0.8h-0.8zM433.1 113.6h0.6v0.6h-0.6zM422.4 110.2h0.6v0.6h-0.6zM428.6 113.9h0.8v0.8h-0.8zM430.0 109.7h0.9v0.9h-0.9zM420.2 109.6h0.8v0.8h-0.8zM422.2 101.5h0.7v0.7h-0.7zM439.8 110.9h0.9v0.9h-0.9zM438.0 116.2h0.7v0.7h-0.7zM428.6 99.1h0.8v0.8h-0.8zM437.7 119.1h0.9v0.9h-0.9zM427.7 110.3h0.6v0.6h-0.6zM439.2 117.2h0.7v0.7h-0.7zM428.9 113.0h0.6v0.6h-0.6zM426.3 109.7h0.9v0.9h-0.9zM438.3 111.6h0.6v0.6h-0.6zM428.6 110.5h0.8v0.8h-0.8zM438.7 111.1h0.7v0.7h-0.7zM431.2 109.5h0.7v0.7h-0.7zM427.4 118.4h0.6v0.6h-0.6zM439.0 108.9h0.8v0.8h-0.8zM430.5 117.7h0.6v0.6h-0.6zM434.9 105.8h0.9v0.9h-0.9zM424.7 112.0h0.7v0.7h-0.7zM418.9 109.2h0.8v0.8h-0.8zM421.9 104.3h0.6v0.6h-0.6zM427.9 110.1h0.9v0.9h-0.9zM423.2 113.2h0.7v0.7h-0.7zM431.2 110.1h0.6v0.6h-0.6zM424.8 105.0h0.8v0.8h-0.8zM436.1 106.8h0.6v0.6h-0.6zM431.9 102.7h0.7v0.7h-0.7zM440.2 112.1h0.7v0.7h-0.7zM444.6 110.6h0.6v0.6h-0.6zM440.8 106.5h0.8v0.8h-0.8zM427.6 105.5h0.9v0.9h-0.9zM430.0 104.5h0.9v0.9h-0.9zM425.2 101.5h0.9v0.9h-0.9zM422.8 113.2h0.8v0.8h-0.8zM425.1 110.3h0.8v0.8h-0.8zM425.4 114.2h0.8v0.8h-0.8zM438.6 114.9h0.8v0.8h-0.8zM428.7 101.8h0.8v0.8h-0.8zM430.0 99.9h0.8v0.8h-0.8zM418.2 105.8h0.9v0.9h-0.9zM441.0 111.3h0.9v0.9h-0.9zM435.6 101.3h0.9v0.9h-0.9zM423.2 103.6h0.8v0.8h-0.8zM435.9 111.7h0.7v0.7h-0.7zM441.7 107.6h0.7v0.7h-0.7zM426.6 110.9h0.9v0.9h-0.9zM439.3 109.0h0.6v0.6h-0.6zM434.2 110.1h0.9v0.9h-0.9zM441.4 108.2h0.9v0.9h-0.9zM444.2 113.3h0.6v0.6h-0.6zM428.6 108.2h0.8v0.8h-0.8zM420.4 105.8h0.7v0.7h-0.7zM429.6 120.1h0.9v0.9h-0.9zM424.3 108.8h0.7v0.7h-0.7zM432.4 113.3h0.7v0.7h-0.7zM432.8 103.5h0.6v0.6h-0.6zM435.0 112.1h0.9v0.9h-0.9zM443.3 114.1h0.7v0.7h-0.7zM432.0 116.7h0.7v0.7h-0.7zM422.4 102.5h0.7v0.7h-0.7zM429.6 106.9h0.6v0.6h-0.6zM433.5 108.6h0.9v0.9h-0.9zM437.5 113.7h0.6v0.6h-0.6zM434.6 114.9h0.9v0.9h-0.9zM434.0 112.5h0.8v0.8h-0.8zM437.2 118.6h0.6v0.6h-0.6zM430.7 104.5h0.8v0.8h-0.8zM437.4 104.2h0.6v0.6h-0.6zM429.2 107.3h0.9v0.9h-0.9zM425.9 117.4h0.8v0.8h-0.8zM429.4 103.8h0.7v0.7h-0.7zM429.7 100.8h0.9v0.9h-0.9zM428.3 111.7h0.9v0.9h-0.9zM430.1 115.0h0.8v0.8h-0.8zM426.3 101.8h0.9v0.9h-0.9zM423.8 111.8h0.7v0.7h-0.7zM436.9 104.9h0.8v0.8h-0.8zM419.1 110.0h0.8v0.8h-0.8zM430.9 114.0h0.7v0.7h-0.7zM423.5 101.6h0.6v0.6h-0.6zM435.5 108.0h0.6v0.6h-0.6zM431.6 116.0h0.7v0.7h-0.7zM433.6 117.1h0.7v0.7h-0.7zM423.2 113.8h0.9v0.9h-0.9zM432.4 103.2h0.6v0.6h-0.6zM424.9 103.5h0.9v0.9h-0.9z" fill="#28237e" opacity="0.9"/>
<path d="M424.6 102.7h1.6v1.6h-1.6zM439.8 105.6h1.2v1.2h-1.2zM443.1 115.1h1.4v1.4h-1.4zM422.3 113.1h1.2v1.2h-1.2zM434.2 116.4h1.4v1.4h-1.4zM436.9 116.2h1.4v1.4h-1.4zM436.0 116.3h1.2v1.2h-1.2zM432.6 112.3h1.4v1.4h-1.4zM437.6 114.4h1.4v1.4h-1.4zM437.3 110.2h1.6v1.6h-1.6zM437.5 108.6h1.2v1.2h-1.2zM441.3 111.4h1.2v1.2h-1.2zM420.2 115.7h1.4v1.4h-1.4z" fill="#28237e" opacity="0.8"/>
<ellipse cx="431.7" cy="137.0" rx="15.6" ry="12.6" fill="#e4e3ec" stroke="#b4b48e" stroke-width="1.1"/>
<path d="M424.2 138.0h0.9v0.9h-0.9zM424.8 131.0h0.9v0.9h-0.9zM432.9 138.1h0.7v0.7h-0.7zM424.0 129.1h0.9v0.9h-0.9zM441.0 131.8h0.9v0.9h-0.9zM437.8 146.5h0.9v0.9h-0.9zM427.9 126.5h0.8v0.8h-0.8zM445.0 135.6h0.8v0.8h-0.8zM429.4 144.5h0.9v0.9h-0.9zM434.1 146.1h0.6v0.6h-0.6zM436.6 129.4h0.6v0.6h-0.6zM437.8 130.5h0.8v0.8h-0.8zM425.5 127.1h0.9v0.9h-0.9zM429.1 129.1h0.9v0.9h-0.9zM435.0 126.7h0.8v0.8h-0.8zM433.2 146.5h0.7v0.7h-0.7zM424.9 141.3h0.8v0.8h-0.8zM426.4 147.4h0.9v0.9h-0.9zM428.2 145.4h0.6v0.6h-0.6zM435.1 147.0h0.9v0.9h-0.9zM435.5 141.9h0.9v0.9h-0.9zM445.4 137.5h0.6v0.6h-0.6zM426.4 134.2h0.7v0.7h-0.7zM419.1 139.9h0.8v0.8h-0.8zM434.8 132.0h0.6v0.6h-0.6zM428.0 139.9h0.8v0.8h-0.8zM422.5 129.9h0.8v0.8h-0.8zM426.0 134.2h0.6v0.6h-0.6zM421.2 137.0h0.8v0.8h-0.8zM424.2 129.9h0.6v0.6h-0.6zM420.3 133.0h0.7v0.7h-0.7zM429.9 145.0h0.8v0.8h-0.8zM438.6 130.6h0.8v0.8h-0.8zM423.8 128.4h0.7v0.7h-0.7zM426.4 144.6h0.8v0.8h-0.8zM427.3 128.6h0.8v0.8h-0.8zM430.7 140.0h0.9v0.9h-0.9zM418.4 135.0h0.9v0.9h-0.9zM445.6 135.5h0.7v0.7h-0.7zM418.3 136.0h0.8v0.8h-0.8zM433.0 145.8h0.8v0.8h-0.8zM432.1 130.2h0.9v0.9h-0.9zM433.9 126.0h0.7v0.7h-0.7zM429.2 146.9h0.8v0.8h-0.8zM423.0 137.8h0.7v0.7h-0.7zM424.2 131.9h0.7v0.7h-0.7zM424.5 139.7h0.6v0.6h-0.6zM419.9 137.0h0.8v0.8h-0.8zM419.5 134.4h0.8v0.8h-0.8zM427.7 130.0h0.6v0.6h-0.6zM438.1 143.7h0.6v0.6h-0.6zM428.1 139.4h0.9v0.9h-0.9zM435.6 126.7h0.6v0.6h-0.6zM428.1 136.9h0.9v0.9h-0.9zM428.1 146.0h0.8v0.8h-0.8zM420.9 141.3h0.9v0.9h-0.9zM436.5 142.3h0.6v0.6h-0.6zM440.6 141.9h0.7v0.7h-0.7zM431.2 141.4h0.8v0.8h-0.8zM439.3 137.3h0.6v0.6h-0.6zM433.3 128.0h0.8v0.8h-0.8zM435.9 136.0h0.9v0.9h-0.9zM424.6 139.2h0.9v0.9h-0.9zM445.0 134.2h0.9v0.9h-0.9zM429.3 138.5h0.9v0.9h-0.9zM421.9 134.8h0.7v0.7h-0.7zM420.1 142.6h0.9v0.9h-0.9zM421.6 137.4h0.8v0.8h-0.8zM436.6 145.0h0.8v0.8h-0.8zM442.8 132.6h0.9v0.9h-0.9zM423.1 138.6h0.9v0.9h-0.9zM439.5 128.9h0.9v0.9h-0.9zM437.5 130.4h0.6v0.6h-0.6zM431.2 142.0h0.9v0.9h-0.9zM442.9 140.4h0.6v0.6h-0.6zM424.3 130.0h0.7v0.7h-0.7zM440.2 128.4h0.8v0.8h-0.8zM418.4 135.9h0.8v0.8h-0.8zM429.9 136.7h0.9v0.9h-0.9zM419.6 135.5h0.8v0.8h-0.8zM428.1 143.2h0.8v0.8h-0.8zM436.4 140.8h0.8v0.8h-0.8zM427.1 138.5h0.9v0.9h-0.9zM431.9 127.0h0.7v0.7h-0.7zM421.4 133.2h0.9v0.9h-0.9zM433.3 140.3h0.8v0.8h-0.8zM439.0 138.0h0.8v0.8h-0.8zM418.6 137.1h0.8v0.8h-0.8zM420.6 141.5h0.9v0.9h-0.9zM440.7 142.6h0.7v0.7h-0.7zM442.0 143.7h0.7v0.7h-0.7zM433.7 130.3h0.8v0.8h-0.8zM428.4 138.2h0.9v0.9h-0.9zM426.0 145.1h0.7v0.7h-0.7zM439.4 140.7h0.9v0.9h-0.9zM423.1 143.4h0.9v0.9h-0.9zM420.6 132.1h0.7v0.7h-0.7zM421.3 143.6h0.6v0.6h-0.6zM418.1 139.7h0.9v0.9h-0.9zM432.8 146.7h0.8v0.8h-0.8zM437.3 128.7h0.6v0.6h-0.6zM437.9 142.4h0.7v0.7h-0.7zM429.9 142.8h0.6v0.6h-0.6zM439.9 134.9h0.7v0.7h-0.7zM439.1 134.8h0.6v0.6h-0.6zM438.0 134.0h0.8v0.8h-0.8zM424.8 134.1h0.7v0.7h-0.7zM434.1 137.1h0.7v0.7h-0.7zM423.7 127.8h0.7v0.7h-0.7zM426.9 128.3h0.6v0.6h-0.6zM440.5 132.3h0.9v0.9h-0.9zM429.9 127.7h0.6v0.6h-0.6zM418.9 140.5h0.7v0.7h-0.7zM443.1 142.8h0.9v0.9h-0.9zM422.7 135.0h0.8v0.8h-0.8zM432.7 143.3h0.9v0.9h-0.9zM441.3 138.2h0.8v0.8h-0.8zM440.3 135.6h0.9v0.9h-0.9zM427.3 144.3h0.9v0.9h-0.9zM422.3 142.7h0.6v0.6h-0.6zM442.3 135.9h0.8v0.8h-0.8zM423.0 143.5h0.8v0.8h-0.8zM423.4 141.3h0.7v0.7h-0.7zM434.1 126.0h0.7v0.7h-0.7zM423.7 138.4h0.8v0.8h-0.8zM440.0 137.8h0.7v0.7h-0.7zM435.2 126.6h0.6v0.6h-0.6zM420.5 134.7h0.6v0.6h-0.6zM435.8 142.9h0.8v0.8h-0.8zM428.9 140.6h0.8v0.8h-0.8zM441.3 139.1h0.7v0.7h-0.7zM426.0 140.2h0.7v0.7h-0.7zM431.3 127.3h0.8v0.8h-0.8zM429.5 140.4h0.7v0.7h-0.7zM429.7 127.6h0.7v0.7h-0.7zM438.8 130.4h0.9v0.9h-0.9zM444.0 137.8h0.7v0.7h-0.7zM431.2 143.2h0.6v0.6h-0.6zM425.8 146.8h0.6v0.6h-0.6zM431.8 127.1h0.7v0.7h-0.7zM438.7 131.9h0.8v0.8h-0.8zM430.8 130.1h0.7v0.7h-0.7zM420.4 132.5h0.6v0.6h-0.6zM423.3 136.7h0.8v0.8h-0.8zM442.5 134.1h0.8v0.8h-0.8zM444.3 136.4h0.7v0.7h-0.7zM427.7 145.0h0.9v0.9h-0.9zM428.1 133.8h0.7v0.7h-0.7zM432.6 137.8h0.6v0.6h-0.6zM440.1 133.7h0.8v0.8h-0.8zM440.6 135.9h0.9v0.9h-0.9zM422.1 142.9h0.7v0.7h-0.7zM438.7 144.7h0.8v0.8h-0.8zM433.2 132.0h0.6v0.6h-0.6zM431.3 127.1h0.9v0.9h-0.9zM430.8 140.7h0.9v0.9h-0.9zM428.0 140.0h0.6v0.6h-0.6zM433.0 134.9h0.9v0.9h-0.9zM425.4 131.5h0.7v0.7h-0.7z" fill="#28237e" opacity="0.9"/>
<path d="M435.3 127.2h1.4v1.4h-1.4zM438.6 140.9h1.6v1.6h-1.6zM419.6 139.3h1.2v1.2h-1.2zM427.1 144.4h1.6v1.6h-1.6zM420.8 131.2h1.6v1.6h-1.6zM431.8 131.1h1.6v1.6h-1.6zM432.9 144.0h1.2v1.2h-1.2zM435.4 145.2h1.4v1.4h-1.4zM430.9 143.2h1.2v1.2h-1.2zM418.8 136.6h1.6v1.6h-1.6zM444.6 135.2h1.2v1.2h-1.2zM432.7 141.4h1.4v1.4h-1.4zM423.8 128.6h1.4v1.4h-1.4zM442.6 129.7h1.2v1.2h-1.2zM442.3 129.8h1.2v1.2h-1.2zM434.2 145.1h1.2v1.2h-1.2zM439.8 145.6h1.2v1.2h-1.2zM435.2 141.0h1.4v1.4h-1.4zM428.6 138.0h1.4v1.4h-1.4zM435.9 142.2h1.4v1.4h-1.4zM442.9 140.5h1.6v1.6h-1.6zM439.8 141.6h1.2v1.2h-1.2zM420.3 131.8h1.2v1.2h-1.2zM430.2 144.0h1.4v1.4h-1.4zM425.1 128.0h1.6v1.6h-1.6zM428.6 136.4h1.4v1.4h-1.4zM423.4 136.8h1.4v1.4h-1.4zM434.5 130.8h1.2v1.2h-1.2zM431.4 127.0h1.4v1.4h-1.4zM437.8 131.1h1.4v1.4h-1.4zM431.4 138.4h1.4v1.4h-1.4zM435.4 133.5h1.6v1.6h-1.6zM434.8 147.1h1.4v1.4h-1.4zM439.1 141.0h1.2v1.2h-1.2zM434.6 143.8h1.6v1.6h-1.6zM433.7 128.2h1.6v1.6h-1.6zM424.5 144.6h1.2v1.2h-1.2zM444.0 137.4h1.6v1.6h-1.6zM429.8 133.3h1.6v1.6h-1.6zM429.4 131.6h1.4v1.4h-1.4zM433.9 128.9h1.4v1.4h-1.4z" fill="#28237e" opacity="0.8"/>
<ellipse cx="472.7" cy="80.8" rx="15.6" ry="12.6" fill="#f0eef8" stroke="#a8a8a8" stroke-width="1.1"/>
<path d="M459.0 81.9h0.6v0.6h-0.6zM483.2 81.9h0.8v0.8h-0.8zM486.9 81.2h0.7v0.7h-0.7zM465.2 77.0h0.6v0.6h-0.6zM467.6 76.8h0.6v0.6h-0.6zM475.4 91.4h0.7v0.7h-0.7zM477.0 74.0h0.9v0.9h-0.9zM459.5 79.0h0.7v0.7h-0.7zM461.1 74.3h0.7v0.7h-0.7zM485.9 84.6h0.7v0.7h-0.7zM483.3 85.0h0.9v0.9h-0.9zM461.7 87.8h0.6v0.6h-0.6zM475.8 72.6h0.6v0.6h-0.6zM466.9 77.3h0.9v0.9h-0.9zM470.5 87.5h0.7v0.7h-0.7zM476.9 72.2h0.9v0.9h-0.9zM466.8 74.7h0.6v0.6h-0.6zM475.9 79.5h0.8v0.8h-0.8zM476.1 88.3h0.9v0.9h-0.9zM470.0 78.3h0.9v0.9h-0.9zM459.7 78.5h0.8v0.8h-0.8zM469.9 73.3h0.8v0.8h-0.8zM473.6 89.5h0.9v0.9h-0.9zM465.5 74.0h0.7v0.7h-0.7zM482.0 81.0h0.8v0.8h-0.8zM478.4 74.3h0.8v0.8h-0.8zM481.7 76.2h0.6v0.6h-0.6zM463.3 80.7h0.8v0.8h-0.8zM478.5 76.8h0.9v0.9h-0.9zM485.1 75.7h0.9v0.9h-0.9zM462.2 86.6h0.7v0.7h-0.7zM480.3 84.1h0.7v0.7h-0.7zM461.4 74.0h0.9v0.9h-0.9zM485.3 84.8h0.6v0.6h-0.6zM476.1 77.4h0.9v0.9h-0.9zM463.0 84.8h0.7v0.7h-0.7zM462.2 83.2h0.8v0.8h-0.8zM464.0 80.1h0.7v0.7h-0.7zM478.7 83.0h0.6v0.6h-0.6zM472.0 89.1h0.8v0.8h-0.8zM459.7 77.3h0.8v0.8h-0.8zM460.5 79.3h0.6v0.6h-0.6zM486.0 81.2h0.7v0.7h-0.7zM462.9 86.8h0.8v0.8h-0.8zM465.5 83.6h0.6v0.6h-0.6zM485.8 85.0h0.9v0.9h-0.9zM479.3 76.1h0.6v0.6h-0.6zM462.0 79.4h0.9v0.9h-0.9zM469.7 90.1h0.9v0.9h-0.9zM484.8 79.4h0.9v0.9h-0.9zM485.0 86.3h0.6v0.6h-0.6zM467.1 70.5h0.7v0.7h-0.7zM476.0 75.5h0.6v0.6h-0.6zM462.5 73.3h0.9v0.9h-0.9zM474.5 89.4h0.6v0.6h-0.6zM473.8 90.8h0.8v0.8h-0.8zM484.7 80.9h0.6v0.6h-0.6zM465.3 81.5h0.9v0.9h-0.9zM463.9 88.1h0.8v0.8h-0.8zM460.0 78.0h0.8v0.8h-0.8zM484.9 79.5h0.6v0.6h-0.6zM481.1 73.6h0.7v0.7h-0.7zM459.5 84.9h0.6v0.6h-0.6zM470.7 75.6h0.6v0.6h-0.6zM461.3 82.5h0.8v0.8h-0.8zM474.9 90.8h0.7v0.7h-0.7zM484.4 78.2h0.8v0.8h-0.8zM485.4 79.0h0.7v0.7h-0.7zM483.9 87.4h0.8v0.8h-0.8zM476.9 82.9h0.6v0.6h-0.6zM462.6 78.5h0.6v0.6h-0.6zM475.4 70.9h0.8v0.8h-0.8zM460.9 81.0h0.9v0.9h-0.9zM482.1 73.3h0.9v0.9h-0.9zM474.3 87.3h0.9v0.9h-0.9zM466.2 88.0h0.9v0.9h-0.9zM460.0 83.7h0.6v0.6h-0.6zM481.2 76.1h0.7v0.7h-0.7zM466.2 87.4h0.9v0.9h-0.9zM469.6 91.6h0.9v0.9h-0.9zM477.4 87.1h0.8v0.8h-0.8zM465.4 75.5h0.9v0.9h-0.9zM470.8 85.1h0.7v0.7h-0.7zM485.9 81.6h0.9v0.9h-0.9zM484.2 84.8h0.9v0.9h-0.9zM470.6 86.8h0.9v0.9h-0.9zM475.2 77.0h0.6v0.6h-0.6zM464.9 89.3h0.8v0.8h-0.8zM467.9 75.9h0.8v0.8h-0.8zM473.0 88.7h0.7v0.7h-0.7zM481.6 85.9h0.8v0.8h-0.8zM463.8 73.9h0.6v0.6h-0.6zM484.7 80.7h0.9v0.9h-0.9zM477.7 88.6h0.7v0.7h-0.7zM469.0 90.8h0.8v0.8h-0.8zM475.1 70.0h0.7v0.7h-0.7zM462.8 87.2h0.9v0.9h-0.9zM459.4 79.1h0.7v0.7h-0.7zM474.6 90.6h0.6v0.6h-0.6zM485.4 85.5h0.7v0.7h-0.7zM485.5 81.7h0.7v0.7h-0.7zM463.6 86.3h0.9v0.9h-0.9zM482.3 75.6h0.8v0.8h-0.8zM460.5 86.3h0.9v0.9h-0.9zM461.3 76.2h0.9v0.9h-0.9zM486.3 80.6h0.9v0.9h-0.9zM463.5 81.9h0.9v0.9h-0.9zM469.8 86.4h0.6v0.6h-0.6zM475.8 76.7h0.7v0.7h-0.7zM476.5 88.7h0.7v0.7h-0.7zM459.6 83.5h0.8v0.8h-0.8zM476.7 70.1h0.7v0.7h-0.7zM467.1 90.6h0.9v0.9h-0.9zM473.8 92.0h0.7v0.7h-0.7zM476.3 76.3h0.6v0.6h-0.6zM461.6 81.8h0.6v0.6h-0.6zM480.9 89.5h0.9v0.9h-0.9zM461.9 77.4h0.7v0.7h-0.7zM474.2 74.8h0.6v0.6h-0.6zM474.9 72.1h0.9v0.9h-0.9zM461.8 84.6h0.6v0.6h-0.6zM469.0 79.3h0.8v0.8h-0.8zM484.6 83.8h0.7v0.7h-0.7zM476.7 70.4h0.8v0.8h-0.8zM480.4 89.1h0.7v0.7h-0.7zM478.3 81.3h0.7v0.7h-0.7zM462.3 80.9h0.8v0.8h-0.8zM470.2 70.5h0.9v0.9h-0.9zM476.7 89.5h0.7v0.7h-0.7zM461.2 86.0h0.6v0.6h-0.6zM483.4 84.5h0.9v0.9h-0.9zM462.5 74.7h0.7v0.7h-0.7zM461.5 84.9h0.6v0.6h-0.6zM475.4 69.9h0.9v0.9h-0.9zM468.1 78.0h0.8v0.8h-0.8zM483.7 74.1h0.6v0.6h-0.6zM483.5 73.8h0.6v0.6h-0.6zM464.5 89.7h0.8v0.8h-0.8zM467.4 90.0h0.6v0.6h-0.6zM475.4 70.1h0.8v0.8h-0.8zM480.7 74.1h0.7v0.7h-0.7zM479.7 87.8h0.6v0.6h-0.6zM484.0 75.8h0.6v0.6h-0.6zM485.9 81.1h0.7v0.7h-0.7zM459.7 81.7h0.7v0.7h-0.7zM468.9 76.0h0.9v0.9h-0.9zM470.7 91.8h0.9v0.9h-0.9zM472.4 80.0h0.7v0.7h-0.7zM473.6 88.1h0.7v0.7h-0.7zM461.2 84.1h0.7v0.7h-0.7zM471.9 72.4h0.6v0.6h-0.6zM466.1 89.0h0.9v0.9h-0.9zM475.6 91.8h0.9v0.9h-0.9zM483.7 85.8h0.9v0.9h-0.9zM471.9 69.9h0.7v0.7h-0.7zM474.8 88.6h0.9v0.9h-0.9zM478.3 82.4h0.7v0.7h-0.7zM469.2 70.9h0.6v0.6h-0.6zM485.0 75.5h0.7v0.7h-0.7zM480.9 82.2h0.8v0.8h-0.8zM468.2 73.4h0.7v0.7h-0.7zM466.0 76.1h0.9v0.9h-0.9zM465.2 89.2h0.9v0.9h-0.9zM477.2 88.4h0.6v0.6h-0.6zM470.3 70.1h0.8v0.8h-0.8zM468.1 70.4h0.8v0.8h-0.8zM459.0 81.6h0.6v0.6h-0.6zM459.6 85.3h0.6v0.6h-0.6zM460.0 78.0h0.9v0.9h-0.9zM471.2 83.2h0.9v0.9h-0.9zM480.3 82.7h0.7v0.7h-0.7zM471.6 78.5h0.9v0.9h-0.9zM471.3 76.2h0.7v0.7h-0.7zM464.5 88.5h0.9v0.9h-0.9zM462.9 73.5h0.6v0.6h-0.6zM469.9 71.9h0.8v0.8h-0.8zM465.6 75.3h0.8v0.8h-0.8zM479.1 70.7h0.6v0.6h-0.6zM459.2 80.7h0.6v0.6h-0.6zM481.2 76.7h0.6v0.6h-0.6zM475.9 81.7h0.7v0.7h-0.7zM477.6 78.0h0.8v0.8h-0.8zM470.6 88.7h0.8v0.8h-0.8zM460.5 75.1h0.8v0.8h-0.8zM481.8 88.5h0.6v0.6h-0.6zM482.9 73.1h0.9v0.9h-0.9zM481.9 83.1h0.7v0.7h-0.7zM481.2 82.2h0.6v0.6h-0.6zM471.0 90.8h0.7v0.7h-0.7zM460.2 83.4h0.6v0.6h-0.6zM472.2 80.1h0.6v0.6h-0.6zM463.3 88.8h0.8v0.8h-0.8zM462.4 75.4h0.8v0.8h-0.8zM461.8 87.8h0.8v0.8h-0.8zM473.4 91.5h0.6v0.6h-0.6zM459.4 84.0h0.6v0.6h-0.6zM484.7 75.2h0.7v0.7h-0.7zM470.7 89.7h0.7v0.7h-0.7zM481.8 83.0h0.9v0.9h-0.9zM472.3 71.0h0.7v0.7h-0.7zM467.1 90.9h0.7v0.7h-0.7zM466.6 74.8h0.8v0.8h-0.8zM463.9 75.8h0.9v0.9h-0.9zM471.8 78.7h0.9v0.9h-0.9zM482.6 83.5h0.7v0.7h-0.7zM481.5 71.9h0.6v0.6h-0.6zM482.0 88.9h0.7v0.7h-0.7zM463.7 72.6h0.6v0.6h-0.6zM482.4 74.5h0.8v0.8h-0.8zM477.6 90.3h0.9v0.9h-0.9zM462.3 75.1h0.9v0.9h-0.9zM479.6 74.0h0.8v0.8h-0.8zM467.6 86.3h0.9v0.9h-0.9zM468.8 89.4h0.6v0.6h-0.6zM479.8 88.6h0.6v0.6h-0.6zM464.9 89.3h0.9v0.9h-0.9zM478.6 90.5h0.6v0.6h-0.6zM464.0 73.4h0.8v0.8h-0.8zM464.6 79.8h0.7v0.7h-0.7zM461.2 81.3h0.7v0.7h-0.7zM462.8 86.9h0.9v0.9h-0.9zM466.8 71.0h0.8v0.8h-0.8zM485.0 77.8h0.8v0.8h-0.8zM479.5 82.3h0.7v0.7h-0.7zM472.7 92.1h0.9v0.9h-0.9zM459.8 77.3h0.9v0.9h-0.9zM467.5 75.6h0.8v0.8h-0.8zM468.6 86.0h0.7v0.7h-0.7zM467.3 73.6h0.9v0.9h-0.9zM460.8 82.8h0.6v0.6h-0.6zM461.3 87.2h0.8v0.8h-0.8zM480.7 76.3h0.9v0.9h-0.9zM467.4 72.7h0.9v0.9h-0.9zM464.1 84.6h0.8v0.8h-0.8zM469.0 91.7h0.8v0.8h-0.8zM461.6 74.5h0.7v0.7h-0.7zM485.8 76.8h0.6v0.6h-0.6zM472.3 72.1h0.8v0.8h-0.8zM484.3 74.6h0.6v0.6h-0.6zM459.7 80.4h0.9v0.9h-0.9zM483.3 80.0h0.6v0.6h-0.6zM459.2 83.9h0.7v0.7h-0.7zM483.8 76.9h0.9v0.9h-0.9zM486.8 78.8h0.7v0.7h-0.7zM476.3 88.9h0.6v0.6h-0.6zM460.7 80.3h0.7v0.7h-0.7zM465.0 90.1h0.7v0.7h-0.7zM460.8 79.6h0.7v0.7h-0.7zM460.6 76.8h0.6v0.6h-0.6zM467.6 77.3h0.6v0.6h-0.6zM479.7 77.6h0.9v0.9h-0.9zM470.2 90.8h0.7v0.7h-0.7zM472.7 70.8h0.9v0.9h-0.9zM469.6 70.7h0.9v0.9h-0.9zM472.7 84.3h0.8v0.8h-0.8zM463.6 74.3h0.8v0.8h-0.8zM469.9 72.9h0.6v0.6h-0.6zM477.4 70.1h0.9v0.9h-0.9z" fill="#28237e" opacity="0.9"/>
<path d="M465.2 71.8h1.2v1.2h-1.2zM467.1 87.9h1.6v1.6h-1.6zM470.5 74.2h1.2v1.2h-1.2zM467.6 70.3h1.4v1.4h-1.4zM472.7 70.2h1.2v1.2h-1.2zM467.7 89.6h1.6v1.6h-1.6zM483.5 74.1h1.6v1.6h-1.6zM476.9 89.9h1.2v1.2h-1.2zM483.6 74.9h1.4v1.4h-1.4zM466.5 78.8h1.6v1.6h-1.6zM484.7 83.1h1.4v1.4h-1.4zM463.3 72.9h1.6v1.6h-1.6zM462.8 88.6h1.2v1.2h-1.2zM462.9 88.7h1.6v1.6h-1.6zM482.2 87.7h1.4v1.4h-1.4zM476.2 69.9h1.4v1.4h-1.4zM473.0 70.2h1.6v1.6h-1.6zM482.6 73.6h1.2v1.2h-1.2zM463.0 86.6h1.2v1.2h-1.2zM482.4 86.6h1.2v1.2h-1.2zM485.2 80.7h1.6v1.6h-1.6zM479.3 79.0h1.6v1.6h-1.6zM459.1 79.4h1.2v1.2h-1.2zM478.7 70.6h1.2v1.2h-1.2zM473.5 86.5h1.4v1.4h-1.4zM478.1 71.0h1.2v1.2h-1.2zM475.4 91.3h1.4v1.4h-1.4zM465.1 89.8h1.4v1.4h-1.4zM463.1 85.0h1.4v1.4h-1.4zM469.6 71.5h1.2v1.2h-1.2zM484.8 75.9h1.6v1.6h-1.6zM479.6 75.8h1.4v1.4h-1.4zM486.3 80.4h1.4v1.4h-1.4zM464.0 88.8h1.2v1.2h-1.2zM483.5 78.2h1.4v1.4h-1.4zM480.1 85.7h1.4v1.4h-1.4zM473.9 71.1h1.4v1.4h-1.4zM477.7 84.1h1.2v1.2h-1.2zM480.3 77.0h1.6v1.6h-1.6zM460.6 79.9h1.6v1.6h-1.6zM466.1 86.4h1.2v1.2h-1.2zM462.9 81.0h1.2v1.2h-1.2zM462.4 78.7h1.6v1.6h-1.6zM483.4 75.2h1.6v1.6h-1.6zM462.5 74.8h1.4v1.4h-1.4zM479.5 88.4h1.4v1.4h-1.4zM479.6 72.0h1.4v1.4h-1.4zM485.8 84.3h1.4v1.4h-1.4zM483.5 86.0h1.6v1.6h-1.6zM474.6 91.9h1.2v1.2h-1.2zM466.0 86.6h1.6v1.6h-1.6zM467.6 72.7h1.4v1.4h-1.4zM465.1 89.7h1.6v1.6h-1.6zM460.2 79.1h1.4v1.4h-1.4zM467.0 89.1h1.4v1.4h-1.4zM469.6 85.8h1.2v1.2h-1.2zM464.4 74.7h1.6v1.6h-1.6zM463.8 88.0h1.2v1.2h-1.2zM472.4 73.4h1.6v1.6h-1.6zM483.5 81.5h1.6v1.6h-1.6zM462.2 73.7h1.6v1.6h-1.6zM460.0 79.4h1.4v1.4h-1.4zM481.0 73.4h1.4v1.4h-1.4zM463.0 73.4h1.6v1.6h-1.6zM481.1 89.1h1.2v1.2h-1.2zM467.1 76.1h1.6v1.6h-1.6zM474.5 74.5h1.4v1.4h-1.4zM481.8 87.0h1.2v1.2h-1.2zM460.0 76.0h1.6v1.6h-1.6zM462.5 73.5h1.2v1.2h-1.2zM459.8 82.6h1.2v1.2h-1.2zM471.0 73.7h1.2v1.2h-1.2zM474.6 90.5h1.6v1.6h-1.6zM461.3 79.7h1.4v1.4h-1.4zM486.0 84.4h1.4v1.4h-1.4zM483.5 81.6h1.4v1.4h-1.4zM485.5 76.4h1.2v1.2h-1.2zM476.4 89.9h1.6v1.6h-1.6zM479.7 72.4h1.6v1.6h-1.6zM475.0 69.8h1.4v1.4h-1.4zM468.5 88.4h1.4v1.4h-1.4zM467.1 70.9h1.2v1.2h-1.2zM459.4 80.8h1.6v1.6h-1.6zM484.6 83.6h1.4v1.4h-1.4zM470.8 71.7h1.2v1.2h-1.2zM467.1 72.4h1.4v1.4h-1.4zM459.7 76.2h1.4v1.4h-1.4zM485.1 78.4h1.6v1.6h-1.6zM476.0 71.0h1.2v1.2h-1.2zM480.0 72.3h1.6v1.6h-1.6zM484.2 78.9h1.6v1.6h-1.6zM468.1 88.5h1.4v1.4h-1.4zM479.5 74.3h1.6v1.6h-1.6zM463.7 86.3h1.6v1.6h-1.6zM467.5 76.0h1.2v1.2h-1.2zM460.1 82.4h1.4v1.4h-1.4zM458.8 78.8h1.4v1.4h-1.4zM469.9 89.3h1.6v1.6h-1.6zM479.4 72.5h1.2v1.2h-1.2zM486.4 80.8h1.4v1.4h-1.4zM463.2 80.2h1.2v1.2h-1.2zM467.3 71.9h1.2v1.2h-1.2zM465.5 90.4h1.4v1.4h-1.4zM463.5 75.3h1.6v1.6h-1.6zM459.0 83.8h1.2v1.2h-1.2zM468.4 74.2h1.4v1.4h-1.4zM477.4 78.4h1.6v1.6h-1.6zM479.3 78.1h1.2v1.2h-1.2zM472.0 72.1h1.4v1.4h-1.4zM466.8 71.5h1.6v1.6h-1.6zM483.2 74.0h1.2v1.2h-1.2zM460.9 87.1h1.4v1.4h-1.4zM464.4 88.8h1.2v1.2h-1.2zM479.3 71.9h1.2v1.2h-1.2zM468.3 70.1h1.2v1.2h-1.2zM481.0 79.4h1.4v1.4h-1.4zM465.4 86.3h1.2v1.2h-1.2zM465.5 89.8h1.6v1.6h-1.6zM459.2 77.7h1.2v1.2h-1.2zM473.7 69.5h1.2v1.2h-1.2zM460.0 82.2h1.2v1.2h-1.2zM486.8 82.7h1.4v1.4h-1.4zM462.6 84.6h1.2v1.2h-1.2zM465.7 86.3h1.2v1.2h-1.2zM485.9 80.6h1.4v1.4h-1.4zM485.4 78.7h1.4v1.4h-1.4zM474.6 83.0h1.2v1.2h-1.2zM479.6 76.4h1.6v1.6h-1.6zM480.3 88.0h1.4v1.4h-1.4zM482.4 73.3h1.2v1.2h-1.2zM467.0 72.4h1.6v1.6h-1.6zM470.0 82.2h1.4v1.4h-1.4zM459.8 83.6h1.6v1.6h-1.6zM468.5 73.3h1.6v1.6h-1.6zM479.6 75.4h1.2v1.2h-1.2zM482.7 74.8h1.6v1.6h-1.6zM485.2 84.0h1.4v1.4h-1.4zM467.0 70.8h1.2v1.2h-1.2zM481.4 88.4h1.6v1.6h-1.6zM470.5 89.8h1.4v1.4h-1.4zM479.3 73.2h1.4v1.4h-1.4zM480.1 72.4h1.2v1.2h-1.2zM468.0 74.0h1.2v1.2h-1.2zM479.6 89.8h1.6v1.6h-1.6zM461.0 77.8h1.2v1.2h-1.2zM473.7 77.4h1.2v1.2h-1.2zM468.8 73.8h1.2v1.2h-1.2zM472.6 90.1h1.4v1.4h-1.4zM478.6 81.2h1.4v1.4h-1.4zM480.1 90.0h1.2v1.2h-1.2zM469.7 83.3h1.6v1.6h-1.6zM461.9 79.4h1.6v1.6h-1.6zM485.4 78.1h1.2v1.2h-1.2zM477.4 85.6h1.2v1.2h-1.2zM484.9 85.5h1.6v1.6h-1.6zM469.5 71.1h1.6v1.6h-1.6zM467.0 73.9h1.2v1.2h-1.2zM469.6 82.6h1.2v1.2h-1.2zM464.1 75.3h1.6v1.6h-1.6zM481.4 78.8h1.6v1.6h-1.6zM485.3 80.3h1.6v1.6h-1.6zM460.1 82.2h1.2v1.2h-1.2z" fill="#28237e" opacity="0.8"/>
<ellipse cx="472.7" cy="108.3" rx="15.6" ry="12.6" fill="#f3f2f8" stroke="#a8a8a8" stroke-width="1.1"/>
<path d="M471.7 118.3h0.6v0.6h-0.6zM469.0 116.6h0.7v0.7h-0.7zM466.4 117.7h0.6v0.6h-0.6zM473.8 112.3h0.7v0.7h-0.7zM466.9 105.2h0.6v0.6h-0.6zM467.9 115.5h0.8v0.8h-0.8zM460.3 105.0h0.7v0.7h-0.7zM472.2 112.9h0.6v0.6h-0.6zM485.5 105.1h0.9v0.9h-0.9zM476.2 118.6h0.9v0.9h-0.9zM480.6 99.4h0.8v0.8h-0.8zM461.0 104.7h0.8v0.8h-0.8zM466.3 112.9h0.8v0.8h-0.8zM486.6 109.1h0.8v0.8h-0.8zM459.3 108.2h0.7v0.7h-0.7zM476.4 114.8h0.7v0.7h-0.7zM460.1 106.5h0.7v0.7h-0.7zM486.3 107.3h0.9v0.9h-0.9zM483.2 101.1h0.8v0.8h-0.8zM468.6 110.3h0.8v0.8h-0.8zM472.0 114.5h0.8v0.8h-0.8zM485.8 108.7h0.8v0.8h-0.8zM485.2 107.8h0.9v0.9h-0.9zM463.3 114.6h0.9v0.9h-0.9zM463.6 114.2h0.9v0.9h-0.9zM486.1 107.9h0.8v0.8h-0.8zM465.2 117.4h0.8v0.8h-0.8zM474.1 103.8h0.8v0.8h-0.8zM469.0 100.2h0.7v0.7h-0.7zM486.1 110.8h0.6v0.6h-0.6zM469.4 116.3h0.8v0.8h-0.8zM472.6 106.4h0.9v0.9h-0.9zM465.4 107.7h0.7v0.7h-0.7zM479.0 103.5h0.6v0.6h-0.6zM474.2 112.5h0.7v0.7h-0.7zM478.3 106.8h0.8v0.8h-0.8zM462.5 107.8h0.8v0.8h-0.8zM466.0 98.9h0.8v0.8h-0.8zM478.8 100.0h0.7v0.7h-0.7zM469.2 98.6h0.9v0.9h-0.9zM466.7 118.3h0.6v0.6h-0.6zM473.2 100.0h0.9v0.9h-0.9zM472.9 107.2h0.8v0.8h-0.8zM461.5 109.0h0.7v0.7h-0.7zM485.4 106.7h0.6v0.6h-0.6zM481.9 100.2h0.7v0.7h-0.7zM466.7 118.0h0.9v0.9h-0.9zM462.3 115.8h0.9v0.9h-0.9zM485.9 105.2h0.7v0.7h-0.7zM477.3 104.9h0.9v0.9h-0.9zM467.6 107.4h0.6v0.6h-0.6zM462.8 102.7h0.8v0.8h-0.8zM477.6 97.7h0.8v0.8h-0.8zM467.4 98.3h0.7v0.7h-0.7zM461.8 112.1h0.7v0.7h-0.7zM484.5 113.0h0.8v0.8h-0.8zM463.1 102.4h0.9v0.9h-0.9zM479.2 103.1h0.9v0.9h-0.9zM482.3 115.9h0.6v0.6h-0.6zM465.2 115.2h0.7v0.7h-0.7zM478.3 111.5h0.8v0.8h-0.8zM460.6 113.5h0.8v0.8h-0.8zM472.3 109.9h0.6v0.6h-0.6zM484.5 104.0h0.7v0.7h-0.7zM474.3 100.1h0.8v0.8h-0.8zM477.5 103.2h0.7v0.7h-0.7zM469.3 114.4h0.7v0.7h-0.7zM477.1 118.6h0.8v0.8h-0.8zM461.4 115.2h0.8v0.8h-0.8zM463.2 102.9h0.6v0.6h-0.6zM473.9 113.7h0.7v0.7h-0.7zM482.0 106.9h0.6v0.6h-0.6zM465.0 106.7h0.6v0.6h-0.6zM463.1 111.0h0.8v0.8h-0.8zM471.2 118.2h0.8v0.8h-0.8zM477.5 100.6h0.6v0.6h-0.6zM459.3 110.0h0.9v0.9h-0.9zM460.2 108.2h0.7v0.7h-0.7zM466.4 117.8h0.9v0.9h-0.9zM477.9 116.5h0.9v0.9h-0.9zM478.1 99.3h0.9v0.9h-0.9zM475.9 108.6h0.9v0.9h-0.9zM485.1 109.6h0.9v0.9h-0.9zM470.2 118.9h0.7v0.7h-0.7zM460.5 114.0h0.8v0.8h-0.8zM475.9 101.7h0.7v0.7h-0.7zM468.2 114.8h0.9v0.9h-0.9zM469.2 114.0h0.8v0.8h-0.8zM469.5 99.5h0.8v0.8h-0.8zM465.5 99.3h0.6v0.6h-0.6zM470.0 102.2h0.7v0.7h-0.7zM474.5 110.6h0.6v0.6h-0.6zM485.8 104.2h0.7v0.7h-0.7zM477.6 99.5h0.6v0.6h-0.6zM474.8 107.0h0.7v0.7h-0.7zM476.3 118.8h0.6v0.6h-0.6zM464.0 104.3h0.6v0.6h-0.6zM471.7 97.1h0.7v0.7h-0.7z" fill="#28237e" opacity="0.9"/>
<path d="M462.4 111.0h1.2v1.2h-1.2zM468.9 110.1h1.2v1.2h-1.2zM482.0 107.3h1.6v1.6h-1.6zM463.6 101.2h1.2v1.2h-1.2zM472.4 118.2h1.6v1.6h-1.6zM463.5 113.1h1.6v1.6h-1.6zM479.6 105.9h1.2v1.2h-1.2zM481.8 104.1h1.2v1.2h-1.2zM481.2 116.9h1.4v1.4h-1.4zM472.4 97.9h1.6v1.6h-1.6zM473.3 103.4h1.4v1.4h-1.4zM476.5 114.3h1.6v1.6h-1.6z" fill="#28237e" opacity="0.8"/>
<ellipse cx="472.7" cy="136.3" rx="15.6" ry="12.6" fill="#f3f2f8" stroke="#a8a8a8" stroke-width="1.1"/>
<path d="M481.1 143.6h0.6v0.6h-0.6zM479.4 132.2h0.7v0.7h-0.7zM479.3 134.4h0.7v0.7h-0.7zM477.4 138.8h0.6v0.6h-0.6zM468.8 134.3h0.7v0.7h-0.7zM472.3 143.8h0.6v0.6h-0.6zM476.5 130.5h0.6v0.6h-0.6zM473.4 127.6h0.7v0.7h-0.7zM469.3 130.0h0.6v0.6h-0.6zM463.8 128.8h0.8v0.8h-0.8zM469.1 136.9h0.9v0.9h-0.9zM459.9 134.6h0.9v0.9h-0.9zM470.1 126.9h0.9v0.9h-0.9zM458.9 137.2h0.7v0.7h-0.7zM475.9 131.1h0.7v0.7h-0.7zM479.0 136.2h0.8v0.8h-0.8zM477.3 146.9h0.8v0.8h-0.8zM467.6 134.0h0.8v0.8h-0.8zM463.6 138.8h0.8v0.8h-0.8zM462.8 131.1h0.9v0.9h-0.9zM469.0 146.7h0.8v0.8h-0.8zM462.5 139.2h0.9v0.9h-0.9zM471.6 145.3h0.7v0.7h-0.7zM476.0 145.9h0.8v0.8h-0.8zM484.4 135.0h0.8v0.8h-0.8zM476.7 137.1h0.8v0.8h-0.8zM479.6 142.0h0.6v0.6h-0.6zM462.9 140.3h0.9v0.9h-0.9zM476.7 127.9h0.7v0.7h-0.7zM473.4 128.4h0.9v0.9h-0.9zM478.3 141.2h0.8v0.8h-0.8zM486.8 137.7h0.9v0.9h-0.9zM463.8 132.4h0.9v0.9h-0.9zM462.3 130.3h0.8v0.8h-0.8zM471.9 126.3h0.8v0.8h-0.8zM475.4 126.4h0.8v0.8h-0.8zM470.9 146.7h0.6v0.6h-0.6zM479.9 140.3h0.8v0.8h-0.8zM477.1 137.1h0.6v0.6h-0.6zM465.7 142.9h0.8v0.8h-0.8zM468.7 140.6h0.6v0.6h-0.6zM468.2 125.7h0.9v0.9h-0.9zM475.3 131.2h0.7v0.7h-0.7zM462.7 133.9h0.9v0.9h-0.9zM464.6 139.6h0.9v0.9h-0.9zM468.1 130.7h0.8v0.8h-0.8zM464.8 142.6h0.7v0.7h-0.7zM473.3 142.5h0.8v0.8h-0.8zM477.0 143.0h0.6v0.6h-0.6zM480.0 129.9h0.7v0.7h-0.7zM463.4 129.2h0.9v0.9h-0.9zM476.2 141.4h0.7v0.7h-0.7zM471.4 126.4h0.9v0.9h-0.9zM485.1 132.6h0.7v0.7h-0.7zM482.2 128.3h0.9v0.9h-0.9zM462.0 137.5h0.9v0.9h-0.9zM483.0 134.9h0.8v0.8h-0.8zM466.8 140.6h0.6v0.6h-0.6zM486.2 136.9h0.8v0.8h-0.8zM467.1 128.5h0.8v0.8h-0.8zM474.9 132.9h0.9v0.9h-0.9zM469.4 137.4h0.6v0.6h-0.6zM483.9 129.6h0.6v0.6h-0.6zM467.0 134.6h0.9v0.9h-0.9zM466.3 139.7h0.6v0.6h-0.6zM470.9 137.1h0.6v0.6h-0.6zM460.2 141.2h0.6v0.6h-0.6zM479.6 131.4h0.8v0.8h-0.8zM459.9 136.6h0.8v0.8h-0.8zM461.5 142.9h0.9v0.9h-0.9zM465.8 129.8h0.7v0.7h-0.7zM462.8 144.3h0.9v0.9h-0.9zM484.1 135.7h0.9v0.9h-0.9zM463.9 129.0h0.7v0.7h-0.7zM469.6 138.3h0.8v0.8h-0.8zM475.3 138.5h0.6v0.6h-0.6zM470.0 134.0h0.6v0.6h-0.6zM484.2 133.2h0.9v0.9h-0.9zM469.1 145.5h0.8v0.8h-0.8zM466.7 140.0h0.7v0.7h-0.7zM470.8 126.3h0.8v0.8h-0.8zM463.5 137.0h0.6v0.6h-0.6zM468.3 139.7h0.8v0.8h-0.8zM476.8 137.7h0.9v0.9h-0.9zM464.2 133.5h0.7v0.7h-0.7zM483.2 131.1h0.7v0.7h-0.7zM469.0 142.1h0.7v0.7h-0.7zM479.6 145.4h0.9v0.9h-0.9zM486.3 136.9h0.6v0.6h-0.6zM476.7 141.5h0.7v0.7h-0.7zM472.9 142.1h0.8v0.8h-0.8zM483.7 129.2h0.6v0.6h-0.6zM464.7 129.8h0.6v0.6h-0.6zM473.0 129.9h0.9v0.9h-0.9zM475.4 137.2h0.7v0.7h-0.7zM476.4 144.2h0.6v0.6h-0.6zM468.8 133.1h0.8v0.8h-0.8zM480.8 138.7h0.7v0.7h-0.7zM464.8 130.8h0.8v0.8h-0.8zM474.5 136.1h0.8v0.8h-0.8zM473.8 125.1h0.7v0.7h-0.7zM473.5 132.9h0.6v0.6h-0.6z" fill="#28237e" opacity="0.9"/>
<path d="M478.4 143.0h1.2v1.2h-1.2zM468.8 146.2h1.2v1.2h-1.2zM466.7 133.2h1.6v1.6h-1.6zM470.7 145.8h1.6v1.6h-1.6zM463.1 139.1h1.2v1.2h-1.2zM480.6 127.1h1.4v1.4h-1.4zM485.0 130.7h1.4v1.4h-1.4zM476.3 145.6h1.6v1.6h-1.6zM464.6 141.5h1.4v1.4h-1.4zM482.2 133.7h1.4v1.4h-1.4zM466.9 141.7h1.4v1.4h-1.4zM475.8 136.3h1.2v1.2h-1.2zM465.3 139.1h1.2v1.2h-1.2z" fill="#28237e" opacity="0.8"/>
<line x1="538.9" y1="144.4" x2="538.9" y2="55.6" stroke="#707070" stroke-width="1.1"/>
<line x1="536.4" y1="144.4" x2="538.9" y2="144.4" stroke="#707070" stroke-width="1.1"/>
<text x="0" y="0" font-size="9" transform="translate(535.9 147.6) scale(0.8 1)" text-anchor="end">0</text>
<line x1="536.4" y1="122.2" x2="538.9" y2="122.2" stroke="#707070" stroke-width="1.1"/>
<text x="0" y="0" font-size="9" transform="translate(535.9 125.4) scale(0.8 1)" text-anchor="end">5</text>
<line x1="536.4" y1="100.0" x2="538.9" y2="100.0" stroke="#707070" stroke-width="1.1"/>
<text x="0" y="0" font-size="9" transform="translate(535.9 103.2) scale(0.8 1)" text-anchor="end">10</text>
<line x1="536.4" y1="77.8" x2="538.9" y2="77.8" stroke="#707070" stroke-width="1.1"/>
<text x="0" y="0" font-size="9" transform="translate(535.9 81.0) scale(0.8 1)" text-anchor="end">15</text>
<line x1="536.4" y1="55.6" x2="538.9" y2="55.6" stroke="#707070" stroke-width="1.1"/>
<text x="0" y="0" font-size="9" transform="translate(535.9 58.8) scale(0.8 1)" text-anchor="end">20</text>
<line x1="538.9" y1="144.4" x2="669.7" y2="144.4" stroke="#404040" stroke-width="1.2"/>
<line x1="572.1" y1="144.4" x2="572.1" y2="146.9" stroke="#1a1a1a" stroke-width="1"/>
<line x1="636.4" y1="144.4" x2="636.4" y2="146.9" stroke="#1a1a1a" stroke-width="1"/>
<text x="0" y="0" font-size="9.8" transform="translate(572.2 156.6) scale(0.8 1)" text-anchor="middle">5-8F</text>
<text x="0" y="0" font-size="9.8" transform="translate(636.9 156.6) scale(0.8 1)" text-anchor="middle">CNE2</text>
<rect x="547.8" y="92.9" width="12.8" height="51.5" fill="#7d7d7d"/>
<line x1="554.2" y1="92.9" x2="554.2" y2="91.1" stroke="#7d7d7d" stroke-width="0.9"/>
<line x1="552.0" y1="91.1" x2="556.4" y2="91.1" stroke="#7d7d7d" stroke-width="0.9"/>
<rect x="565.7" y="117.3" width="12.8" height="27.1" fill="#0cbf76"/>
<line x1="572.1" y1="117.3" x2="572.1" y2="116.9" stroke="#0cbf76" stroke-width="0.9"/>
<line x1="569.9" y1="116.9" x2="574.3" y2="116.9" stroke="#0cbf76" stroke-width="0.9"/>
<text x="572.1" y="118.4" font-size="8.5" text-anchor="middle">***</text>
<rect x="583.3" y="117.8" width="12.8" height="26.6" fill="#076a40"/>
<line x1="589.7" y1="117.8" x2="589.7" y2="116.0" stroke="#076a40" stroke-width="0.9"/>
<line x1="587.5" y1="116.0" x2="591.9" y2="116.0" stroke="#076a40" stroke-width="0.9"/>
<text x="589.7" y="117.5" font-size="8.5" text-anchor="middle">***</text>
<rect x="613.0" y="89.3" width="12.7" height="55.1" fill="#7d7d7d"/>
<line x1="619.4" y1="89.3" x2="619.4" y2="86.2" stroke="#7d7d7d" stroke-width="0.9"/>
<line x1="617.1" y1="86.2" x2="621.6" y2="86.2" stroke="#7d7d7d" stroke-width="0.9"/>
<rect x="630.6" y="122.2" width="12.8" height="22.2" fill="#0cbf76"/>
<line x1="637.0" y1="122.2" x2="637.0" y2="121.8" stroke="#0cbf76" stroke-width="0.9"/>
<line x1="634.8" y1="121.8" x2="639.2" y2="121.8" stroke="#0cbf76" stroke-width="0.9"/>
<text x="637.0" y="123.3" font-size="8.5" text-anchor="middle">***</text>
<rect x="648.2" y="120.9" width="12.8" height="23.5" fill="#076a40"/>
<line x1="654.6" y1="120.9" x2="654.6" y2="120.4" stroke="#076a40" stroke-width="0.9"/>
<line x1="652.4" y1="120.4" x2="656.8" y2="120.4" stroke="#076a40" stroke-width="0.9"/>
<text x="654.6" y="121.9" font-size="8.5" text-anchor="middle">***</text>
<rect x="541.9" y="57.8" width="9.0" height="8.6" fill="#7d7d7d"/>
<text x="0" y="0" font-size="9.5" transform="translate(554.0 65.6) scale(0.79 1)">shNC</text>
<rect x="576.5" y="57.8" width="8.6" height="8.6" fill="#0cbf76"/>
<text x="0" y="0" font-size="9.5" transform="translate(588.0 65.6) scale(0.8 1)">shLINC-1</text>
<rect x="624.3" y="57.8" width="8.6" height="8.6" fill="#076a40"/>
<text x="0" y="0" font-size="9.5" transform="translate(635.5 65.6) scale(0.8 1)">shLINC-2</text>
<text x="522.9" y="99.0" font-size="7.3" transform="rotate(-90 522.9 99.0)" text-anchor="middle" textLength="93.5" lengthAdjust="spacingAndGlyphs">Colony number (×100)</text>
<text x="0.2" y="172.6" font-size="14.5" fill="#000" font-weight="bold">C</text>
<line x1="40.3" y1="272.7" x2="40.3" y2="193.1" stroke="#7a7a7a" stroke-width="1.2"/>
<line x1="37.8" y1="272.7" x2="40.3" y2="272.7" stroke="#7a7a7a" stroke-width="1.2"/>
<text x="0" y="0" font-size="8.2" transform="translate(37.3 275.7) scale(0.82 1)" text-anchor="end">0</text>
<line x1="37.8" y1="252.8" x2="40.3" y2="252.8" stroke="#7a7a7a" stroke-width="1.2"/>
<text x="0" y="0" font-size="8.2" transform="translate(37.3 255.8) scale(0.82 1)" text-anchor="end">500</text>
<line x1="37.8" y1="232.9" x2="40.3" y2="232.9" stroke="#7a7a7a" stroke-width="1.2"/>
<text x="0" y="0" font-size="8.2" transform="translate(37.3 235.9) scale(0.82 1)" text-anchor="end">1000</text>
<line x1="37.8" y1="213.0" x2="40.3" y2="213.0" stroke="#7a7a7a" stroke-width="1.2"/>
<text x="0" y="0" font-size="8.2" transform="translate(37.3 216.0) scale(0.82 1)" text-anchor="end">1500</text>
<line x1="37.8" y1="193.1" x2="40.3" y2="193.1" stroke="#7a7a7a" stroke-width="1.2"/>
<text x="0" y="0" font-size="8.2" transform="translate(37.3 196.1) scale(0.82 1)" text-anchor="end">2000</text>
<line x1="40.3" y1="272.7" x2="139.1" y2="272.7" stroke="#7a7a7a" stroke-width="1.2"/>
<line x1="46.6" y1="272.7" x2="46.6" y2="275.2" stroke="#7a7a7a" stroke-width="1.2"/>
<text x="0" y="0" font-size="9.2" transform="translate(46.6 283.7) scale(0.72 1)" text-anchor="middle">7</text>
<line x1="56.2" y1="272.7" x2="56.2" y2="275.2" stroke="#7a7a7a" stroke-width="1.2"/>
<text x="0" y="0" font-size="9.2" transform="translate(56.2 283.7) scale(0.72 1)" text-anchor="middle">10</text>
<line x1="65.8" y1="272.7" x2="65.8" y2="275.2" stroke="#7a7a7a" stroke-width="1.2"/>
<text x="0" y="0" font-size="9.2" transform="translate(65.8 283.7) scale(0.72 1)" text-anchor="middle">13</text>
<line x1="75.4" y1="272.7" x2="75.4" y2="275.2" stroke="#7a7a7a" stroke-width="1.2"/>
<text x="0" y="0" font-size="9.2" transform="translate(75.4 283.7) scale(0.72 1)" text-anchor="middle">16</text>
<line x1="85.0" y1="272.7" x2="85.0" y2="275.2" stroke="#7a7a7a" stroke-width="1.2"/>
<text x="0" y="0" font-size="9.2" transform="translate(85.0 283.7) scale(0.72 1)" text-anchor="middle">19</text>
<line x1="94.6" y1="272.7" x2="94.6" y2="275.2" stroke="#7a7a7a" stroke-width="1.2"/>
<text x="0" y="0" font-size="9.2" transform="translate(94.6 283.7) scale(0.72 1)" text-anchor="middle">22</text>
<line x1="104.1" y1="272.7" x2="104.1" y2="275.2" stroke="#7a7a7a" stroke-width="1.2"/>
<text x="0" y="0" font-size="9.2" transform="translate(104.1 283.7) scale(0.72 1)" text-anchor="middle">25</text>
<line x1="113.7" y1="272.7" x2="113.7" y2="275.2" stroke="#7a7a7a" stroke-width="1.2"/>
<text x="0" y="0" font-size="9.2" transform="translate(113.7 283.7) scale(0.72 1)" text-anchor="middle">28</text>
<line x1="123.3" y1="272.7" x2="123.3" y2="275.2" stroke="#7a7a7a" stroke-width="1.2"/>
<text x="0" y="0" font-size="9.2" transform="translate(123.3 283.7) scale(0.72 1)" text-anchor="middle">31</text>
<line x1="132.9" y1="272.7" x2="132.9" y2="275.2" stroke="#7a7a7a" stroke-width="1.2"/>
<text x="0" y="0" font-size="9.2" transform="translate(132.9 283.7) scale(0.72 1)" text-anchor="middle">35</text>
<text x="0" y="0" font-size="9.2" transform="translate(89.6 296.3) scale(0.78 1)" text-anchor="middle">Days</text>
<text x="19.1" y="230.5" font-size="7.7" transform="rotate(-90 19.1 230.5)" text-anchor="middle" textLength="84.0" lengthAdjust="spacingAndGlyphs">Tumour volume (mm<tspan font-size="5" dy="-3">3</tspan><tspan dy="3">)</tspan></text>
<polyline points="46.6,272.7 56.2,271.9 65.8,262.9 75.4,255.8 85.0,248.6 94.6,241.0 104.1,231.6 113.7,222.9 123.3,208.5 132.9,199.3" fill="none" stroke="#111" stroke-width="1"/>
<rect x="45.1" y="271.2" width="3.0" height="3.0" fill="#111"/>
<rect x="54.7" y="270.4" width="3.0" height="3.0" fill="#111"/>
<line x1="65.8" y1="261.4" x2="65.8" y2="264.5" stroke="#111" stroke-width="0.8"/>
<line x1="64.2" y1="261.4" x2="67.4" y2="261.4" stroke="#111" stroke-width="0.8"/>
<line x1="64.2" y1="264.5" x2="67.4" y2="264.5" stroke="#111" stroke-width="0.8"/>
<rect x="64.3" y="261.4" width="3.0" height="3.0" fill="#111"/>
<line x1="75.4" y1="253.8" x2="75.4" y2="257.8" stroke="#111" stroke-width="0.8"/>
<line x1="73.8" y1="253.8" x2="77.0" y2="253.8" stroke="#111" stroke-width="0.8"/>
<line x1="73.8" y1="257.8" x2="77.0" y2="257.8" stroke="#111" stroke-width="0.8"/>
<rect x="73.9" y="254.3" width="3.0" height="3.0" fill="#111"/>
<line x1="85.0" y1="246.6" x2="85.0" y2="250.6" stroke="#111" stroke-width="0.8"/>
<line x1="83.4" y1="246.6" x2="86.6" y2="246.6" stroke="#111" stroke-width="0.8"/>
<line x1="83.4" y1="250.6" x2="86.6" y2="250.6" stroke="#111" stroke-width="0.8"/>
<rect x="83.5" y="247.1" width="3.0" height="3.0" fill="#111"/>
<line x1="94.6" y1="236.6" x2="94.6" y2="245.4" stroke="#111" stroke-width="0.8"/>
<line x1="93.0" y1="236.6" x2="96.2" y2="236.6" stroke="#111" stroke-width="0.8"/>
<line x1="93.0" y1="245.4" x2="96.2" y2="245.4" stroke="#111" stroke-width="0.8"/>
<rect x="93.1" y="239.5" width="3.0" height="3.0" fill="#111"/>
<line x1="104.1" y1="226.8" x2="104.1" y2="236.4" stroke="#111" stroke-width="0.8"/>
<line x1="102.5" y1="226.8" x2="105.7" y2="226.8" stroke="#111" stroke-width="0.8"/>
<line x1="102.5" y1="236.4" x2="105.7" y2="236.4" stroke="#111" stroke-width="0.8"/>
<rect x="102.6" y="230.1" width="3.0" height="3.0" fill="#111"/>
<line x1="113.7" y1="216.1" x2="113.7" y2="229.7" stroke="#111" stroke-width="0.8"/>
<line x1="112.1" y1="216.1" x2="115.3" y2="216.1" stroke="#111" stroke-width="0.8"/>
<line x1="112.1" y1="229.7" x2="115.3" y2="229.7" stroke="#111" stroke-width="0.8"/>
<rect x="112.2" y="221.4" width="3.0" height="3.0" fill="#111"/>
<line x1="123.3" y1="204.1" x2="123.3" y2="212.9" stroke="#111" stroke-width="0.8"/>
<line x1="121.7" y1="204.1" x2="124.9" y2="204.1" stroke="#111" stroke-width="0.8"/>
<line x1="121.7" y1="212.9" x2="124.9" y2="212.9" stroke="#111" stroke-width="0.8"/>
<rect x="121.8" y="207.0" width="3.0" height="3.0" fill="#111"/>
<line x1="132.9" y1="196.9" x2="132.9" y2="201.7" stroke="#111" stroke-width="0.8"/>
<line x1="131.3" y1="196.9" x2="134.5" y2="196.9" stroke="#111" stroke-width="0.8"/>
<line x1="131.3" y1="201.7" x2="134.5" y2="201.7" stroke="#111" stroke-width="0.8"/>
<rect x="131.4" y="197.8" width="3.0" height="3.0" fill="#111"/>
<polyline points="46.6,272.7 56.2,272.3 65.8,267.9 75.4,262.4 85.0,262.0 94.6,261.7 104.1,249.8 113.7,239.1 123.3,234.3 132.9,231.1" fill="none" stroke="#08c408" stroke-width="1"/>
<circle cx="46.6" cy="272.7" r="1.5" fill="#08c408"/>
<circle cx="56.2" cy="272.3" r="1.5" fill="#08c408"/>
<line x1="65.8" y1="266.7" x2="65.8" y2="269.1" stroke="#08c408" stroke-width="0.8"/>
<line x1="64.2" y1="266.7" x2="67.4" y2="266.7" stroke="#08c408" stroke-width="0.8"/>
<line x1="64.2" y1="269.1" x2="67.4" y2="269.1" stroke="#08c408" stroke-width="0.8"/>
<circle cx="65.8" cy="267.9" r="1.5" fill="#08c408"/>
<line x1="75.4" y1="260.8" x2="75.4" y2="263.9" stroke="#08c408" stroke-width="0.8"/>
<line x1="73.8" y1="260.8" x2="77.0" y2="260.8" stroke="#08c408" stroke-width="0.8"/>
<line x1="73.8" y1="263.9" x2="77.0" y2="263.9" stroke="#08c408" stroke-width="0.8"/>
<circle cx="75.4" cy="262.4" r="1.5" fill="#08c408"/>
<line x1="85.0" y1="255.6" x2="85.0" y2="268.3" stroke="#08c408" stroke-width="0.8"/>
<line x1="83.4" y1="255.6" x2="86.6" y2="255.6" stroke="#08c408" stroke-width="0.8"/>
<line x1="83.4" y1="268.3" x2="86.6" y2="268.3" stroke="#08c408" stroke-width="0.8"/>
<circle cx="85.0" cy="262.0" r="1.5" fill="#08c408"/>
<line x1="94.6" y1="254.9" x2="94.6" y2="268.5" stroke="#08c408" stroke-width="0.8"/>
<line x1="93.0" y1="254.9" x2="96.2" y2="254.9" stroke="#08c408" stroke-width="0.8"/>
<line x1="93.0" y1="268.5" x2="96.2" y2="268.5" stroke="#08c408" stroke-width="0.8"/>
<circle cx="94.6" cy="261.7" r="1.5" fill="#08c408"/>
<line x1="104.1" y1="246.2" x2="104.1" y2="253.4" stroke="#08c408" stroke-width="0.8"/>
<line x1="102.5" y1="246.2" x2="105.7" y2="246.2" stroke="#08c408" stroke-width="0.8"/>
<line x1="102.5" y1="253.4" x2="105.7" y2="253.4" stroke="#08c408" stroke-width="0.8"/>
<circle cx="104.1" cy="249.8" r="1.5" fill="#08c408"/>
<line x1="113.7" y1="235.5" x2="113.7" y2="242.7" stroke="#08c408" stroke-width="0.8"/>
<line x1="112.1" y1="235.5" x2="115.3" y2="235.5" stroke="#08c408" stroke-width="0.8"/>
<line x1="112.1" y1="242.7" x2="115.3" y2="242.7" stroke="#08c408" stroke-width="0.8"/>
<circle cx="113.7" cy="239.1" r="1.5" fill="#08c408"/>
<line x1="123.3" y1="231.1" x2="123.3" y2="237.5" stroke="#08c408" stroke-width="0.8"/>
<line x1="121.7" y1="231.1" x2="124.9" y2="231.1" stroke="#08c408" stroke-width="0.8"/>
<line x1="121.7" y1="237.5" x2="124.9" y2="237.5" stroke="#08c408" stroke-width="0.8"/>
<circle cx="123.3" cy="234.3" r="1.5" fill="#08c408"/>
<line x1="132.9" y1="227.1" x2="132.9" y2="235.1" stroke="#08c408" stroke-width="0.8"/>
<line x1="131.3" y1="227.1" x2="134.5" y2="227.1" stroke="#08c408" stroke-width="0.8"/>
<line x1="131.3" y1="235.1" x2="134.5" y2="235.1" stroke="#08c408" stroke-width="0.8"/>
<circle cx="132.9" cy="231.1" r="1.5" fill="#08c408"/>
<polyline points="46.6,272.7 56.2,272.3 65.8,267.6 75.4,261.0 85.0,262.6 94.6,256.9 104.1,251.5 113.7,246.6 123.3,238.8 132.9,237.9" fill="none" stroke="#2424f4" stroke-width="1"/>
<path d="M44.8,274.0 L48.4,274.0 L46.6,270.9Z" fill="#2424f4"/>
<path d="M54.4,273.6 L58.0,273.6 L56.2,270.5Z" fill="#2424f4"/>
<line x1="65.8" y1="266.4" x2="65.8" y2="268.8" stroke="#2424f4" stroke-width="0.8"/>
<line x1="64.2" y1="266.4" x2="67.4" y2="266.4" stroke="#2424f4" stroke-width="0.8"/>
<line x1="64.2" y1="268.8" x2="67.4" y2="268.8" stroke="#2424f4" stroke-width="0.8"/>
<path d="M64.0,268.9 L67.6,268.9 L65.8,265.8Z" fill="#2424f4"/>
<line x1="75.4" y1="259.4" x2="75.4" y2="262.6" stroke="#2424f4" stroke-width="0.8"/>
<line x1="73.8" y1="259.4" x2="77.0" y2="259.4" stroke="#2424f4" stroke-width="0.8"/>
<line x1="73.8" y1="262.6" x2="77.0" y2="262.6" stroke="#2424f4" stroke-width="0.8"/>
<path d="M73.6,262.3 L77.2,262.3 L75.4,259.2Z" fill="#2424f4"/>
<line x1="85.0" y1="257.4" x2="85.0" y2="267.8" stroke="#2424f4" stroke-width="0.8"/>
<line x1="83.4" y1="257.4" x2="86.6" y2="257.4" stroke="#2424f4" stroke-width="0.8"/>
<line x1="83.4" y1="267.8" x2="86.6" y2="267.8" stroke="#2424f4" stroke-width="0.8"/>
<path d="M83.2,263.9 L86.8,263.9 L85.0,260.8Z" fill="#2424f4"/>
<line x1="94.6" y1="253.7" x2="94.6" y2="260.1" stroke="#2424f4" stroke-width="0.8"/>
<line x1="93.0" y1="253.7" x2="96.2" y2="253.7" stroke="#2424f4" stroke-width="0.8"/>
<line x1="93.0" y1="260.1" x2="96.2" y2="260.1" stroke="#2424f4" stroke-width="0.8"/>
<path d="M92.8,258.2 L96.4,258.2 L94.6,255.1Z" fill="#2424f4"/>
<line x1="104.1" y1="249.1" x2="104.1" y2="253.9" stroke="#2424f4" stroke-width="0.8"/>
<line x1="102.5" y1="249.1" x2="105.7" y2="249.1" stroke="#2424f4" stroke-width="0.8"/>
<line x1="102.5" y1="253.9" x2="105.7" y2="253.9" stroke="#2424f4" stroke-width="0.8"/>
<path d="M102.3,252.8 L105.9,252.8 L104.1,249.7Z" fill="#2424f4"/>
<line x1="113.7" y1="244.2" x2="113.7" y2="249.0" stroke="#2424f4" stroke-width="0.8"/>
<line x1="112.1" y1="244.2" x2="115.3" y2="244.2" stroke="#2424f4" stroke-width="0.8"/>
<line x1="112.1" y1="249.0" x2="115.3" y2="249.0" stroke="#2424f4" stroke-width="0.8"/>
<path d="M111.9,247.9 L115.5,247.9 L113.7,244.8Z" fill="#2424f4"/>
<line x1="123.3" y1="235.6" x2="123.3" y2="242.0" stroke="#2424f4" stroke-width="0.8"/>
<line x1="121.7" y1="235.6" x2="124.9" y2="235.6" stroke="#2424f4" stroke-width="0.8"/>
<line x1="121.7" y1="242.0" x2="124.9" y2="242.0" stroke="#2424f4" stroke-width="0.8"/>
<path d="M121.5,240.1 L125.1,240.1 L123.3,237.0Z" fill="#2424f4"/>
<line x1="132.9" y1="233.9" x2="132.9" y2="241.9" stroke="#2424f4" stroke-width="0.8"/>
<line x1="131.3" y1="233.9" x2="134.5" y2="233.9" stroke="#2424f4" stroke-width="0.8"/>
<line x1="131.3" y1="241.9" x2="134.5" y2="241.9" stroke="#2424f4" stroke-width="0.8"/>
<path d="M131.1,239.2 L134.7,239.2 L132.9,236.1Z" fill="#2424f4"/>
<line x1="43.1" y1="195.2" x2="49.6" y2="195.2" stroke="#111" stroke-width="1"/>
<rect x="44.9" y="193.7" width="3.0" height="3.0" fill="#111"/>
<text x="53.7" y="198.3" font-size="8.5" textLength="17.1" lengthAdjust="spacingAndGlyphs">shNC</text>
<line x1="43.1" y1="206.0" x2="49.6" y2="206.0" stroke="#08c408" stroke-width="1"/>
<circle cx="46.4" cy="206.0" r="1.5" fill="#08c408"/>
<text x="53.7" y="209.1" font-size="8.5" textLength="28.1" lengthAdjust="spacingAndGlyphs">shLINC-1</text>
<line x1="43.1" y1="216.0" x2="49.6" y2="216.0" stroke="#2424f4" stroke-width="1"/>
<path d="M44.6,217.3 L48.1,217.3 L46.4,214.2Z" fill="#2424f4"/>
<text x="53.7" y="219.1" font-size="8.5" textLength="28.1" lengthAdjust="spacingAndGlyphs">shLINC-2</text>
<line x1="83.5" y1="193.9" x2="83.5" y2="218.7" stroke="#1a1a1a" stroke-width="0.8"/>
<text x="91.3" y="207.6" font-size="7.8" transform="rotate(-90 91.3 207.6)" text-anchor="middle" textLength="22.5" lengthAdjust="spacingAndGlyphs">CNE2</text>
<line x1="138.2" y1="198.3" x2="138.2" y2="235.6" stroke="#1a1a1a" stroke-width="0.8"/>
<line x1="135.6" y1="198.3" x2="138.2" y2="198.3" stroke="#1a1a1a" stroke-width="0.8"/>
<line x1="135.6" y1="235.6" x2="138.2" y2="235.6" stroke="#1a1a1a" stroke-width="0.8"/>
<line x1="135.8" y1="230.5" x2="135.8" y2="240.2" stroke="#1a1a1a" stroke-width="0.8"/>
<text x="137.0" y="217.6" font-size="6.5" transform="rotate(90 137.0 217.6)" text-anchor="middle" letter-spacing="1.6">***</text>
<text x="146.7" y="180.6" font-size="14.5" fill="#000" font-weight="bold">D</text>
<line x1="196.1" y1="275.4" x2="196.1" y2="196.6" stroke="#1a1a1a" stroke-width="1"/>
<line x1="193.6" y1="275.4" x2="196.1" y2="275.4" stroke="#1a1a1a" stroke-width="1"/>
<text x="0" y="0" font-size="8.2" transform="translate(193.1 278.4) scale(0.82 1)" text-anchor="end">0</text>
<line x1="193.6" y1="255.7" x2="196.1" y2="255.7" stroke="#1a1a1a" stroke-width="1"/>
<text x="0" y="0" font-size="8.2" transform="translate(193.1 258.7) scale(0.82 1)" text-anchor="end">500</text>
<line x1="193.6" y1="236.0" x2="196.1" y2="236.0" stroke="#1a1a1a" stroke-width="1"/>
<text x="0" y="0" font-size="8.2" transform="translate(193.1 239.0) scale(0.82 1)" text-anchor="end">1000</text>
<line x1="193.6" y1="216.3" x2="196.1" y2="216.3" stroke="#1a1a1a" stroke-width="1"/>
<text x="0" y="0" font-size="8.2" transform="translate(193.1 219.3) scale(0.82 1)" text-anchor="end">1500</text>
<line x1="193.6" y1="196.6" x2="196.1" y2="196.6" stroke="#1a1a1a" stroke-width="1"/>
<text x="0" y="0" font-size="8.2" transform="translate(193.1 199.6) scale(0.82 1)" text-anchor="end">2000</text>
<line x1="196.1" y1="275.4" x2="296.0" y2="275.4" stroke="#1a1a1a" stroke-width="1"/>
<line x1="202.8" y1="275.4" x2="202.8" y2="277.9" stroke="#1a1a1a" stroke-width="1"/>
<text x="0" y="0" font-size="9.2" transform="translate(202.8 286.4) scale(0.72 1)" text-anchor="middle">7</text>
<line x1="212.4" y1="275.4" x2="212.4" y2="277.9" stroke="#1a1a1a" stroke-width="1"/>
<text x="0" y="0" font-size="9.2" transform="translate(212.4 286.4) scale(0.72 1)" text-anchor="middle">9</text>
<line x1="222.1" y1="275.4" x2="222.1" y2="277.9" stroke="#1a1a1a" stroke-width="1"/>
<text x="0" y="0" font-size="9.2" transform="translate(222.1 286.4) scale(0.72 1)" text-anchor="middle">11</text>
<line x1="231.7" y1="275.4" x2="231.7" y2="277.9" stroke="#1a1a1a" stroke-width="1"/>
<text x="0" y="0" font-size="9.2" transform="translate(231.7 286.4) scale(0.72 1)" text-anchor="middle">13</text>
<line x1="241.3" y1="275.4" x2="241.3" y2="277.9" stroke="#1a1a1a" stroke-width="1"/>
<text x="0" y="0" font-size="9.2" transform="translate(241.3 286.4) scale(0.72 1)" text-anchor="middle">15</text>
<line x1="251.0" y1="275.4" x2="251.0" y2="277.9" stroke="#1a1a1a" stroke-width="1"/>
<text x="0" y="0" font-size="9.2" transform="translate(251.0 286.4) scale(0.72 1)" text-anchor="middle">17</text>
<line x1="260.6" y1="275.4" x2="260.6" y2="277.9" stroke="#1a1a1a" stroke-width="1"/>
<text x="0" y="0" font-size="9.2" transform="translate(260.6 286.4) scale(0.72 1)" text-anchor="middle">19</text>
<line x1="270.2" y1="275.4" x2="270.2" y2="277.9" stroke="#1a1a1a" stroke-width="1"/>
<text x="0" y="0" font-size="9.2" transform="translate(270.2 286.4) scale(0.72 1)" text-anchor="middle">21</text>
<line x1="279.8" y1="275.4" x2="279.8" y2="277.9" stroke="#1a1a1a" stroke-width="1"/>
<text x="0" y="0" font-size="9.2" transform="translate(279.8 286.4) scale(0.72 1)" text-anchor="middle">23</text>
<line x1="289.5" y1="275.4" x2="289.5" y2="277.9" stroke="#1a1a1a" stroke-width="1"/>
<text x="0" y="0" font-size="9.2" transform="translate(289.5 286.4) scale(0.72 1)" text-anchor="middle">25</text>
<text x="0" y="0" font-size="9.2" transform="translate(246.2 299.0) scale(0.78 1)" text-anchor="middle">Days</text>
<text x="174.0" y="233.8" font-size="7.7" transform="rotate(-90 174.0 233.8)" text-anchor="middle" textLength="84.0" lengthAdjust="spacingAndGlyphs">Tumour volume (mm<tspan font-size="5" dy="-3">3</tspan><tspan dy="3">)</tspan></text>
<polyline points="202.8,275.4 212.4,270.7 222.1,266.7 231.7,264.6 241.3,253.6 251.0,250.4 260.6,243.9 270.2,240.4 279.8,237.0 289.5,229.9" fill="none" stroke="#111" stroke-width="1"/>
<circle cx="202.8" cy="275.4" r="1.5" fill="#111"/>
<line x1="212.4" y1="269.1" x2="212.4" y2="272.2" stroke="#111" stroke-width="0.8"/>
<line x1="210.8" y1="269.1" x2="214.0" y2="269.1" stroke="#111" stroke-width="0.8"/>
<line x1="210.8" y1="272.2" x2="214.0" y2="272.2" stroke="#111" stroke-width="0.8"/>
<circle cx="212.4" cy="270.7" r="1.5" fill="#111"/>
<line x1="222.1" y1="264.4" x2="222.1" y2="269.1" stroke="#111" stroke-width="0.8"/>
<line x1="220.5" y1="264.4" x2="223.7" y2="264.4" stroke="#111" stroke-width="0.8"/>
<line x1="220.5" y1="269.1" x2="223.7" y2="269.1" stroke="#111" stroke-width="0.8"/>
<circle cx="222.1" cy="266.7" r="1.5" fill="#111"/>
<line x1="231.7" y1="262.2" x2="231.7" y2="267.0" stroke="#111" stroke-width="0.8"/>
<line x1="230.1" y1="262.2" x2="233.3" y2="262.2" stroke="#111" stroke-width="0.8"/>
<line x1="230.1" y1="267.0" x2="233.3" y2="267.0" stroke="#111" stroke-width="0.8"/>
<circle cx="231.7" cy="264.6" r="1.5" fill="#111"/>
<line x1="241.3" y1="251.6" x2="241.3" y2="255.6" stroke="#111" stroke-width="0.8"/>
<line x1="239.7" y1="251.6" x2="242.9" y2="251.6" stroke="#111" stroke-width="0.8"/>
<line x1="239.7" y1="255.6" x2="242.9" y2="255.6" stroke="#111" stroke-width="0.8"/>
<circle cx="241.3" cy="253.6" r="1.5" fill="#111"/>
<line x1="251.0" y1="248.8" x2="251.0" y2="252.0" stroke="#111" stroke-width="0.8"/>
<line x1="249.4" y1="248.8" x2="252.6" y2="248.8" stroke="#111" stroke-width="0.8"/>
<line x1="249.4" y1="252.0" x2="252.6" y2="252.0" stroke="#111" stroke-width="0.8"/>
<circle cx="251.0" cy="250.4" r="1.5" fill="#111"/>
<line x1="260.6" y1="239.5" x2="260.6" y2="248.2" stroke="#111" stroke-width="0.8"/>
<line x1="259.0" y1="239.5" x2="262.2" y2="239.5" stroke="#111" stroke-width="0.8"/>
<line x1="259.0" y1="248.2" x2="262.2" y2="248.2" stroke="#111" stroke-width="0.8"/>
<circle cx="260.6" cy="243.9" r="1.5" fill="#111"/>
<line x1="270.2" y1="238.0" x2="270.2" y2="242.8" stroke="#111" stroke-width="0.8"/>
<line x1="268.6" y1="238.0" x2="271.8" y2="238.0" stroke="#111" stroke-width="0.8"/>
<line x1="268.6" y1="242.8" x2="271.8" y2="242.8" stroke="#111" stroke-width="0.8"/>
<circle cx="270.2" cy="240.4" r="1.5" fill="#111"/>
<line x1="279.8" y1="234.2" x2="279.8" y2="239.7" stroke="#111" stroke-width="0.8"/>
<line x1="278.2" y1="234.2" x2="281.4" y2="234.2" stroke="#111" stroke-width="0.8"/>
<line x1="278.2" y1="239.7" x2="281.4" y2="239.7" stroke="#111" stroke-width="0.8"/>
<circle cx="279.8" cy="237.0" r="1.5" fill="#111"/>
<line x1="289.5" y1="225.6" x2="289.5" y2="234.2" stroke="#111" stroke-width="0.8"/>
<line x1="287.9" y1="225.6" x2="291.1" y2="225.6" stroke="#111" stroke-width="0.8"/>
<line x1="287.9" y1="234.2" x2="291.1" y2="234.2" stroke="#111" stroke-width="0.8"/>
<circle cx="289.5" cy="229.9" r="1.5" fill="#111"/>
<polyline points="202.8,275.4 212.4,271.5 222.1,266.7 231.7,261.5 241.3,249.6 251.0,242.5 260.6,233.9 270.2,222.6 279.8,214.2 289.5,205.5" fill="none" stroke="#9c6a2a" stroke-width="1"/>
<circle cx="202.8" cy="275.4" r="1.5" fill="#9c6a2a"/>
<line x1="212.4" y1="269.9" x2="212.4" y2="273.0" stroke="#9c6a2a" stroke-width="0.8"/>
<line x1="210.8" y1="269.9" x2="214.0" y2="269.9" stroke="#9c6a2a" stroke-width="0.8"/>
<line x1="210.8" y1="273.0" x2="214.0" y2="273.0" stroke="#9c6a2a" stroke-width="0.8"/>
<circle cx="212.4" cy="271.5" r="1.5" fill="#9c6a2a"/>
<line x1="222.1" y1="264.4" x2="222.1" y2="269.1" stroke="#9c6a2a" stroke-width="0.8"/>
<line x1="220.5" y1="264.4" x2="223.7" y2="264.4" stroke="#9c6a2a" stroke-width="0.8"/>
<line x1="220.5" y1="269.1" x2="223.7" y2="269.1" stroke="#9c6a2a" stroke-width="0.8"/>
<circle cx="222.1" cy="266.7" r="1.5" fill="#9c6a2a"/>
<line x1="231.7" y1="257.6" x2="231.7" y2="265.4" stroke="#9c6a2a" stroke-width="0.8"/>
<line x1="230.1" y1="257.6" x2="233.3" y2="257.6" stroke="#9c6a2a" stroke-width="0.8"/>
<line x1="230.1" y1="265.4" x2="233.3" y2="265.4" stroke="#9c6a2a" stroke-width="0.8"/>
<circle cx="231.7" cy="261.5" r="1.5" fill="#9c6a2a"/>
<line x1="241.3" y1="247.2" x2="241.3" y2="252.0" stroke="#9c6a2a" stroke-width="0.8"/>
<line x1="239.7" y1="247.2" x2="242.9" y2="247.2" stroke="#9c6a2a" stroke-width="0.8"/>
<line x1="239.7" y1="252.0" x2="242.9" y2="252.0" stroke="#9c6a2a" stroke-width="0.8"/>
<circle cx="241.3" cy="249.6" r="1.5" fill="#9c6a2a"/>
<line x1="251.0" y1="240.5" x2="251.0" y2="244.5" stroke="#9c6a2a" stroke-width="0.8"/>
<line x1="249.4" y1="240.5" x2="252.6" y2="240.5" stroke="#9c6a2a" stroke-width="0.8"/>
<line x1="249.4" y1="244.5" x2="252.6" y2="244.5" stroke="#9c6a2a" stroke-width="0.8"/>
<circle cx="251.0" cy="242.5" r="1.5" fill="#9c6a2a"/>
<line x1="260.6" y1="228.8" x2="260.6" y2="239.0" stroke="#9c6a2a" stroke-width="0.8"/>
<line x1="259.0" y1="228.8" x2="262.2" y2="228.8" stroke="#9c6a2a" stroke-width="0.8"/>
<line x1="259.0" y1="239.0" x2="262.2" y2="239.0" stroke="#9c6a2a" stroke-width="0.8"/>
<circle cx="260.6" cy="233.9" r="1.5" fill="#9c6a2a"/>
<line x1="270.2" y1="220.2" x2="270.2" y2="225.0" stroke="#9c6a2a" stroke-width="0.8"/>
<line x1="268.6" y1="220.2" x2="271.8" y2="220.2" stroke="#9c6a2a" stroke-width="0.8"/>
<line x1="268.6" y1="225.0" x2="271.8" y2="225.0" stroke="#9c6a2a" stroke-width="0.8"/>
<circle cx="270.2" cy="222.6" r="1.5" fill="#9c6a2a"/>
<line x1="279.8" y1="210.7" x2="279.8" y2="217.8" stroke="#9c6a2a" stroke-width="0.8"/>
<line x1="278.2" y1="210.7" x2="281.4" y2="210.7" stroke="#9c6a2a" stroke-width="0.8"/>
<line x1="278.2" y1="217.8" x2="281.4" y2="217.8" stroke="#9c6a2a" stroke-width="0.8"/>
<circle cx="279.8" cy="214.2" r="1.5" fill="#9c6a2a"/>
<line x1="289.5" y1="202.4" x2="289.5" y2="208.7" stroke="#9c6a2a" stroke-width="0.8"/>
<line x1="287.9" y1="202.4" x2="291.1" y2="202.4" stroke="#9c6a2a" stroke-width="0.8"/>
<line x1="287.9" y1="208.7" x2="291.1" y2="208.7" stroke="#9c6a2a" stroke-width="0.8"/>
<circle cx="289.5" cy="205.5" r="1.5" fill="#9c6a2a"/>
<polyline points="202.8,275.4 212.4,266.7 222.1,260.2 231.7,250.2 241.3,243.2 251.0,241.8 260.6,234.5 270.2,213.5 279.8,210.3 289.5,205.5" fill="none" stroke="#ff1414" stroke-width="1"/>
<circle cx="202.8" cy="275.4" r="1.5" fill="#ff1414"/>
<line x1="212.4" y1="264.4" x2="212.4" y2="269.1" stroke="#ff1414" stroke-width="0.8"/>
<line x1="210.8" y1="264.4" x2="214.0" y2="264.4" stroke="#ff1414" stroke-width="0.8"/>
<line x1="210.8" y1="269.1" x2="214.0" y2="269.1" stroke="#ff1414" stroke-width="0.8"/>
<circle cx="212.4" cy="266.7" r="1.5" fill="#ff1414"/>
<line x1="222.1" y1="258.6" x2="222.1" y2="261.8" stroke="#ff1414" stroke-width="0.8"/>
<line x1="220.5" y1="258.6" x2="223.7" y2="258.6" stroke="#ff1414" stroke-width="0.8"/>
<line x1="220.5" y1="261.8" x2="223.7" y2="261.8" stroke="#ff1414" stroke-width="0.8"/>
<circle cx="222.1" cy="260.2" r="1.5" fill="#ff1414"/>
<line x1="231.7" y1="248.2" x2="231.7" y2="252.2" stroke="#ff1414" stroke-width="0.8"/>
<line x1="230.1" y1="248.2" x2="233.3" y2="248.2" stroke="#ff1414" stroke-width="0.8"/>
<line x1="230.1" y1="252.2" x2="233.3" y2="252.2" stroke="#ff1414" stroke-width="0.8"/>
<circle cx="231.7" cy="250.2" r="1.5" fill="#ff1414"/>
<line x1="241.3" y1="240.5" x2="241.3" y2="246.0" stroke="#ff1414" stroke-width="0.8"/>
<line x1="239.7" y1="240.5" x2="242.9" y2="240.5" stroke="#ff1414" stroke-width="0.8"/>
<line x1="239.7" y1="246.0" x2="242.9" y2="246.0" stroke="#ff1414" stroke-width="0.8"/>
<circle cx="241.3" cy="243.2" r="1.5" fill="#ff1414"/>
<line x1="251.0" y1="239.4" x2="251.0" y2="244.2" stroke="#ff1414" stroke-width="0.8"/>
<line x1="249.4" y1="239.4" x2="252.6" y2="239.4" stroke="#ff1414" stroke-width="0.8"/>
<line x1="249.4" y1="244.2" x2="252.6" y2="244.2" stroke="#ff1414" stroke-width="0.8"/>
<circle cx="251.0" cy="241.8" r="1.5" fill="#ff1414"/>
<line x1="260.6" y1="231.7" x2="260.6" y2="237.3" stroke="#ff1414" stroke-width="0.8"/>
<line x1="259.0" y1="231.7" x2="262.2" y2="231.7" stroke="#ff1414" stroke-width="0.8"/>
<line x1="259.0" y1="237.3" x2="262.2" y2="237.3" stroke="#ff1414" stroke-width="0.8"/>
<circle cx="260.6" cy="234.5" r="1.5" fill="#ff1414"/>
<line x1="270.2" y1="209.2" x2="270.2" y2="217.8" stroke="#ff1414" stroke-width="0.8"/>
<line x1="268.6" y1="209.2" x2="271.8" y2="209.2" stroke="#ff1414" stroke-width="0.8"/>
<line x1="268.6" y1="217.8" x2="271.8" y2="217.8" stroke="#ff1414" stroke-width="0.8"/>
<circle cx="270.2" cy="213.5" r="1.5" fill="#ff1414"/>
<line x1="279.8" y1="207.6" x2="279.8" y2="213.1" stroke="#ff1414" stroke-width="0.8"/>
<line x1="278.2" y1="207.6" x2="281.4" y2="207.6" stroke="#ff1414" stroke-width="0.8"/>
<line x1="278.2" y1="213.1" x2="281.4" y2="213.1" stroke="#ff1414" stroke-width="0.8"/>
<circle cx="279.8" cy="210.3" r="1.5" fill="#ff1414"/>
<line x1="289.5" y1="203.1" x2="289.5" y2="207.9" stroke="#ff1414" stroke-width="0.8"/>
<line x1="287.9" y1="203.1" x2="291.1" y2="203.1" stroke="#ff1414" stroke-width="0.8"/>
<line x1="287.9" y1="207.9" x2="291.1" y2="207.9" stroke="#ff1414" stroke-width="0.8"/>
<circle cx="289.5" cy="205.5" r="1.5" fill="#ff1414"/>
<line x1="199.2" y1="197.0" x2="207.2" y2="197.0" stroke="#111" stroke-width="1"/>
<circle cx="203.2" cy="197.0" r="1.5" fill="#111"/>
<text x="210.6" y="200.2" font-size="8.8" textLength="21.0" lengthAdjust="spacingAndGlyphs">Vector</text>
<line x1="199.2" y1="207.6" x2="207.2" y2="207.6" stroke="#9c6a2a" stroke-width="1"/>
<circle cx="203.2" cy="207.6" r="1.5" fill="#9c6a2a"/>
<text x="210.6" y="210.8" font-size="8.8" textLength="21.7" lengthAdjust="spacingAndGlyphs">LINC-1</text>
<line x1="199.2" y1="218.4" x2="207.2" y2="218.4" stroke="#ff1414" stroke-width="1"/>
<circle cx="203.2" cy="218.4" r="1.5" fill="#ff1414"/>
<text x="210.6" y="221.6" font-size="8.8" textLength="21.7" lengthAdjust="spacingAndGlyphs">LINC-2</text>
<line x1="233.7" y1="196.0" x2="233.7" y2="221.3" stroke="#555" stroke-width="0.9"/>
<text x="243.0" y="208.6" font-size="8.2" transform="rotate(-90 243.0 208.6)" text-anchor="middle" textLength="22.1" lengthAdjust="spacingAndGlyphs">CNE1</text>
<line x1="292.4" y1="198.9" x2="292.4" y2="210.5" stroke="#1a1a1a" stroke-width="0.9"/>
<line x1="295.3" y1="203.5" x2="295.3" y2="230.2" stroke="#1a1a1a" stroke-width="0.8"/>
<line x1="293.2" y1="203.5" x2="295.3" y2="203.5" stroke="#1a1a1a" stroke-width="0.8"/>
<line x1="293.2" y1="230.2" x2="295.3" y2="230.2" stroke="#1a1a1a" stroke-width="0.8"/>
<text x="293.6" y="217.8" font-size="6.5" transform="rotate(90 293.6 217.8)" text-anchor="middle" letter-spacing="1.6">***</text>
<text x="317.2" y="181.4" font-size="14.5" fill="#000" font-weight="bold">E</text>
<line x1="349.2" y1="276.1" x2="349.2" y2="211.3" stroke="#6e6e6e" stroke-width="1.3"/>
<line x1="346.7" y1="276.1" x2="349.2" y2="276.1" stroke="#6e6e6e" stroke-width="1.3"/>
<text x="345.7" y="278.8" font-size="7.6" text-anchor="end">0</text>
<line x1="346.7" y1="259.9" x2="349.2" y2="259.9" stroke="#6e6e6e" stroke-width="1.3"/>
<text x="345.7" y="262.6" font-size="7.6" text-anchor="end">20</text>
<line x1="346.7" y1="243.7" x2="349.2" y2="243.7" stroke="#6e6e6e" stroke-width="1.3"/>
<text x="345.7" y="246.4" font-size="7.6" text-anchor="end">40</text>
<line x1="346.7" y1="227.5" x2="349.2" y2="227.5" stroke="#6e6e6e" stroke-width="1.3"/>
<text x="345.7" y="230.2" font-size="7.6" text-anchor="end">60</text>
<line x1="346.7" y1="211.3" x2="349.2" y2="211.3" stroke="#6e6e6e" stroke-width="1.3"/>
<text x="345.7" y="214.0" font-size="7.6" text-anchor="end">80</text>
<line x1="349.2" y1="276.1" x2="496.3" y2="276.1" stroke="#6e6e6e" stroke-width="1.3"/>
<text x="425.1" y="199.2" font-size="8.4" text-anchor="middle">CNE2</text>
<text x="331.0" y="242.3" font-size="7.4" transform="rotate(-90 331.0 242.3)" text-anchor="middle" textLength="74.5" lengthAdjust="spacingAndGlyphs">Percent of cell cycle (%)</text>
<rect x="353.3" y="231.3" width="9.9" height="44.8" fill="#5858f8"/>
<line x1="358.2" y1="231.3" x2="358.2" y2="229.3" stroke="#5858f8" stroke-width="0.9"/>
<line x1="355.9" y1="229.3" x2="360.6" y2="229.3" stroke="#5858f8" stroke-width="0.9"/>
<line x1="358.2" y1="276.1" x2="358.2" y2="278.1" stroke="#6e6e6e" stroke-width="0.9"/>
<text x="356.1" y="279.7" font-size="7" transform="rotate(90 356.1 279.7)">shNC</text>
<rect x="367.0" y="227.2" width="9.9" height="48.9" fill="#5858f8"/>
<line x1="371.9" y1="227.2" x2="371.9" y2="224.7" stroke="#5858f8" stroke-width="0.9"/>
<line x1="369.6" y1="224.7" x2="374.2" y2="224.7" stroke="#5858f8" stroke-width="0.9"/>
<text x="371.9" y="226.3" font-size="6.5" text-anchor="middle">*</text>
<line x1="371.9" y1="276.1" x2="371.9" y2="278.1" stroke="#6e6e6e" stroke-width="0.9"/>
<text x="369.8" y="279.7" font-size="7" transform="rotate(90 369.8 279.7)">shLINC-1</text>
<rect x="380.9" y="225.5" width="9.9" height="50.6" fill="#5858f8"/>
<line x1="385.9" y1="225.5" x2="385.9" y2="224.3" stroke="#5858f8" stroke-width="0.9"/>
<line x1="383.6" y1="224.3" x2="388.2" y2="224.3" stroke="#5858f8" stroke-width="0.9"/>
<text x="385.9" y="225.9" font-size="6.5" text-anchor="middle">**</text>
<line x1="385.9" y1="276.1" x2="385.9" y2="278.1" stroke="#6e6e6e" stroke-width="0.9"/>
<text x="383.7" y="279.7" font-size="7" transform="rotate(90 383.7 279.7)">shLINC-2</text>
<rect x="403.7" y="246.8" width="10.0" height="29.3" fill="#c6944f"/>
<line x1="408.7" y1="246.8" x2="408.7" y2="244.8" stroke="#c6944f" stroke-width="0.9"/>
<line x1="406.4" y1="244.8" x2="411.0" y2="244.8" stroke="#c6944f" stroke-width="0.9"/>
<text x="408.7" y="246.4" font-size="6.5" text-anchor="middle">*</text>
<line x1="408.7" y1="276.1" x2="408.7" y2="278.1" stroke="#6e6e6e" stroke-width="0.9"/>
<text x="406.5" y="279.7" font-size="7" transform="rotate(90 406.5 279.7)">shNC</text>
<rect x="417.2" y="250.1" width="10.2" height="26.0" fill="#c6944f"/>
<line x1="422.3" y1="250.1" x2="422.3" y2="248.7" stroke="#c6944f" stroke-width="0.9"/>
<line x1="420.0" y1="248.7" x2="424.6" y2="248.7" stroke="#c6944f" stroke-width="0.9"/>
<text x="422.3" y="250.3" font-size="6.5" text-anchor="middle">*</text>
<line x1="422.3" y1="276.1" x2="422.3" y2="278.1" stroke="#6e6e6e" stroke-width="0.9"/>
<text x="420.1" y="279.7" font-size="7" transform="rotate(90 420.1 279.7)">shLINC-1</text>
<rect x="431.1" y="251.0" width="9.9" height="25.1" fill="#c6944f"/>
<line x1="436.1" y1="251.0" x2="436.1" y2="249.4" stroke="#c6944f" stroke-width="0.9"/>
<line x1="433.8" y1="249.4" x2="438.4" y2="249.4" stroke="#c6944f" stroke-width="0.9"/>
<line x1="436.1" y1="276.1" x2="436.1" y2="278.1" stroke="#6e6e6e" stroke-width="0.9"/>
<text x="433.9" y="279.7" font-size="7" transform="rotate(90 433.9 279.7)">shLINC-2</text>
<rect x="453.9" y="264.7" width="10.0" height="11.4" fill="#f84545"/>
<line x1="458.9" y1="264.7" x2="458.9" y2="263.1" stroke="#f84545" stroke-width="0.9"/>
<line x1="456.6" y1="263.1" x2="461.2" y2="263.1" stroke="#f84545" stroke-width="0.9"/>
<line x1="458.9" y1="276.1" x2="458.9" y2="278.1" stroke="#6e6e6e" stroke-width="0.9"/>
<text x="456.7" y="279.7" font-size="7" transform="rotate(90 456.7 279.7)">shNC</text>
<rect x="467.8" y="267.4" width="10.2" height="8.7" fill="#f84545"/>
<line x1="472.9" y1="267.4" x2="472.9" y2="266.2" stroke="#f84545" stroke-width="0.9"/>
<line x1="470.6" y1="266.2" x2="475.2" y2="266.2" stroke="#f84545" stroke-width="0.9"/>
<text x="472.9" y="267.8" font-size="6.5" text-anchor="middle">*</text>
<line x1="472.9" y1="276.1" x2="472.9" y2="278.1" stroke="#6e6e6e" stroke-width="0.9"/>
<text x="470.7" y="279.7" font-size="7" transform="rotate(90 470.7 279.7)">shLINC-1</text>
<rect x="481.3" y="268.0" width="10.2" height="8.1" fill="#f84545"/>
<line x1="486.4" y1="268.0" x2="486.4" y2="266.1" stroke="#f84545" stroke-width="0.9"/>
<line x1="484.1" y1="266.1" x2="488.7" y2="266.1" stroke="#f84545" stroke-width="0.9"/>
<text x="486.4" y="267.7" font-size="6.5" text-anchor="middle">*</text>
<line x1="486.4" y1="276.1" x2="486.4" y2="278.1" stroke="#6e6e6e" stroke-width="0.9"/>
<text x="484.2" y="279.7" font-size="7" transform="rotate(90 484.2 279.7)">shLINC-2</text>
<rect x="354.0" y="209.9" width="9.0" height="6.0" fill="#5858f8"/>
<text x="366.4" y="215.6" font-size="8">G1</text>
<rect x="384.2" y="209.9" width="8.8" height="6.0" fill="#c6944f"/>
<text x="396.6" y="215.6" font-size="8">S</text>
<rect x="409.6" y="209.9" width="9.0" height="6.0" fill="#f84545"/>
<text x="422.0" y="215.6" font-size="8">G2/M</text>
<line x1="532.4" y1="282.2" x2="532.4" y2="210.1" stroke="#6e6e6e" stroke-width="1.3"/>
<line x1="529.9" y1="282.2" x2="532.4" y2="282.2" stroke="#6e6e6e" stroke-width="1.3"/>
<text x="528.9" y="284.9" font-size="7.6" text-anchor="end">0</text>
<line x1="529.9" y1="261.8" x2="532.4" y2="261.8" stroke="#6e6e6e" stroke-width="1.3"/>
<text x="528.9" y="264.5" font-size="7.6" text-anchor="end">20</text>
<line x1="529.9" y1="241.3" x2="532.4" y2="241.3" stroke="#6e6e6e" stroke-width="1.3"/>
<text x="528.9" y="244.0" font-size="7.6" text-anchor="end">40</text>
<line x1="529.9" y1="220.8" x2="532.4" y2="220.8" stroke="#6e6e6e" stroke-width="1.3"/>
<text x="528.9" y="223.6" font-size="7.6" text-anchor="end">60</text>
<line x1="532.4" y1="282.2" x2="679.6" y2="282.2" stroke="#6e6e6e" stroke-width="1.3"/>
<text x="606.3" y="198.2" font-size="8.4" text-anchor="middle">CNE1</text>
<text x="514.5" y="245.2" font-size="7.7" transform="rotate(-90 514.5 245.2)" text-anchor="middle">Percent of cell cycle (%)</text>
<rect x="537.0" y="226.0" width="10.1" height="56.2" fill="#5858f8"/>
<line x1="542.0" y1="226.0" x2="542.0" y2="223.4" stroke="#5858f8" stroke-width="0.9"/>
<line x1="539.8" y1="223.4" x2="544.3" y2="223.4" stroke="#5858f8" stroke-width="0.9"/>
<line x1="542.0" y1="282.2" x2="542.0" y2="284.2" stroke="#6e6e6e" stroke-width="0.9"/>
<text x="539.4" y="285.2" font-size="8" transform="rotate(90 539.4 285.2)">Vector</text>
<rect x="550.9" y="232.9" width="9.7" height="49.3" fill="#5858f8"/>
<line x1="555.8" y1="232.9" x2="555.8" y2="230.4" stroke="#5858f8" stroke-width="0.9"/>
<line x1="553.5" y1="230.4" x2="558.0" y2="230.4" stroke="#5858f8" stroke-width="0.9"/>
<text x="555.8" y="232.0" font-size="6.5" text-anchor="middle">*</text>
<line x1="555.8" y1="282.2" x2="555.8" y2="284.2" stroke="#6e6e6e" stroke-width="0.9"/>
<text x="553.1" y="285.2" font-size="8" transform="rotate(90 553.1 285.2)">LINC-1</text>
<rect x="564.5" y="231.6" width="10.0" height="50.6" fill="#5858f8"/>
<line x1="569.5" y1="231.6" x2="569.5" y2="230.9" stroke="#5858f8" stroke-width="0.9"/>
<line x1="567.2" y1="230.9" x2="571.8" y2="230.9" stroke="#5858f8" stroke-width="0.9"/>
<text x="569.5" y="232.5" font-size="6.5" text-anchor="middle">*</text>
<line x1="569.5" y1="282.2" x2="569.5" y2="284.2" stroke="#6e6e6e" stroke-width="0.9"/>
<text x="566.9" y="285.2" font-size="8" transform="rotate(90 566.9 285.2)">LINC-2</text>
<rect x="586.9" y="263.1" width="10.1" height="19.1" fill="#c6944f"/>
<line x1="592.0" y1="263.1" x2="592.0" y2="261.4" stroke="#c6944f" stroke-width="0.9"/>
<line x1="589.7" y1="261.4" x2="594.2" y2="261.4" stroke="#c6944f" stroke-width="0.9"/>
<line x1="592.0" y1="282.2" x2="592.0" y2="284.2" stroke="#6e6e6e" stroke-width="0.9"/>
<text x="589.4" y="285.2" font-size="8" transform="rotate(90 589.4 285.2)">Vector</text>
<rect x="600.8" y="260.2" width="10.3" height="22.0" fill="#c6944f"/>
<line x1="606.0" y1="260.2" x2="606.0" y2="259.0" stroke="#c6944f" stroke-width="0.9"/>
<line x1="603.7" y1="259.0" x2="608.2" y2="259.0" stroke="#c6944f" stroke-width="0.9"/>
<line x1="606.0" y1="282.2" x2="606.0" y2="284.2" stroke="#6e6e6e" stroke-width="0.9"/>
<text x="603.4" y="285.2" font-size="8" transform="rotate(90 603.4 285.2)">LINC-1</text>
<rect x="614.3" y="259.6" width="10.7" height="22.6" fill="#c6944f"/>
<line x1="619.6" y1="259.6" x2="619.6" y2="257.3" stroke="#c6944f" stroke-width="0.9"/>
<line x1="617.4" y1="257.3" x2="621.9" y2="257.3" stroke="#c6944f" stroke-width="0.9"/>
<text x="619.6" y="258.9" font-size="6.5" text-anchor="middle">*</text>
<line x1="619.6" y1="282.2" x2="619.6" y2="284.2" stroke="#6e6e6e" stroke-width="0.9"/>
<text x="617.0" y="285.2" font-size="8" transform="rotate(90 617.0 285.2)">LINC-2</text>
<rect x="637.1" y="255.4" width="10.6" height="26.8" fill="#f84545"/>
<line x1="642.4" y1="255.4" x2="642.4" y2="253.2" stroke="#f84545" stroke-width="0.9"/>
<line x1="640.1" y1="253.2" x2="644.7" y2="253.2" stroke="#f84545" stroke-width="0.9"/>
<line x1="642.4" y1="282.2" x2="642.4" y2="284.2" stroke="#6e6e6e" stroke-width="0.9"/>
<text x="639.8" y="285.2" font-size="8" transform="rotate(90 639.8 285.2)">Vector</text>
<rect x="651.2" y="250.5" width="10.1" height="31.7" fill="#f84545"/>
<line x1="656.2" y1="250.5" x2="656.2" y2="249.3" stroke="#f84545" stroke-width="0.9"/>
<line x1="654.0" y1="249.3" x2="658.5" y2="249.3" stroke="#f84545" stroke-width="0.9"/>
<text x="656.2" y="250.9" font-size="6.5" text-anchor="middle">*</text>
<line x1="656.2" y1="282.2" x2="656.2" y2="284.2" stroke="#6e6e6e" stroke-width="0.9"/>
<text x="653.6" y="285.2" font-size="8" transform="rotate(90 653.6 285.2)">LINC-1</text>
<rect x="664.7" y="251.9" width="10.1" height="30.3" fill="#f84545"/>
<line x1="669.8" y1="251.9" x2="669.8" y2="249.7" stroke="#f84545" stroke-width="0.9"/>
<line x1="667.5" y1="249.7" x2="672.0" y2="249.7" stroke="#f84545" stroke-width="0.9"/>
<text x="669.8" y="251.3" font-size="6.5" text-anchor="middle">*</text>
<line x1="669.8" y1="282.2" x2="669.8" y2="284.2" stroke="#6e6e6e" stroke-width="0.9"/>
<text x="667.1" y="285.2" font-size="8" transform="rotate(90 667.1 285.2)">LINC-2</text>
<rect x="539.0" y="209.3" width="9.6" height="6.5" fill="#5858f8"/>
<text x="552.5" y="215.6" font-size="8.3">G1</text>
<rect x="571.5" y="209.3" width="9.2" height="6.5" fill="#c6944f"/>
<text x="584.6" y="215.6" font-size="8.3">S</text>
<rect x="597.5" y="209.3" width="9.1" height="6.5" fill="#f84545"/>
<text x="611.1" y="215.6" font-size="8.3">G2/M</text>
<text x="14.4" y="326.4" font-size="14.5" fill="#000" font-weight="bold">F</text>
<defs><filter id="bl" x="-20%" y="-60%" width="140%" height="220%"><feGaussianBlur stdDeviation="0.8 0.7"/></filter><filter id="bl2" x="-20%" y="-50%" width="140%" height="200%"><feGaussianBlur stdDeviation="0.5"/></filter></defs>
<rect x="64.8" y="370.9" width="70.1" height="12.9" fill="#dedede" filter="url(#bl2)"/>
<rect x="67.2" y="375.1" width="18.0" height="5.1" rx="2.6" fill="rgb(8,8,8)" filter="url(#bl)"/>
<rect x="90.3" y="375.8" width="18.0" height="3.7" rx="1.8" fill="rgb(110,110,110)" filter="url(#bl)"/>
<rect x="113.8" y="375.8" width="18.0" height="3.7" rx="1.8" fill="rgb(110,110,110)" filter="url(#bl)"/>
<rect x="64.8" y="387.3" width="70.1" height="13.4" fill="#ebebeb" filter="url(#bl2)"/>
<rect x="67.2" y="392.4" width="18.0" height="3.5" rx="1.8" fill="rgb(170,170,170)" filter="url(#bl)"/>
<rect x="90.3" y="391.4" width="18.0" height="5.5" rx="2.8" fill="rgb(8,8,8)" filter="url(#bl)"/>
<rect x="113.8" y="391.2" width="18.0" height="5.9" rx="3.0" fill="rgb(8,8,8)" filter="url(#bl)"/>
<rect x="64.8" y="404.8" width="70.1" height="13.4" fill="#cfcfcf" filter="url(#bl2)"/>
<rect x="67.2" y="408.2" width="18.0" height="7.7" rx="3.0" fill="rgb(55,55,55)" filter="url(#bl)"/>
<rect x="90.3" y="408.2" width="18.0" height="7.9" rx="3.0" fill="rgb(55,55,55)" filter="url(#bl)"/>
<rect x="113.8" y="408.1" width="18.0" height="8.1" rx="3.0" fill="rgb(55,55,55)" filter="url(#bl)"/>
<rect x="64.8" y="421.6" width="70.1" height="13.5" fill="#e2e2e2" filter="url(#bl2)"/>
<rect x="67.2" y="426.3" width="18.0" height="4.7" rx="2.4" fill="rgb(20,20,20)" filter="url(#bl)"/>
<rect x="90.3" y="426.6" width="18.0" height="4.1" rx="2.1" fill="rgb(45,45,45)" filter="url(#bl)"/>
<rect x="113.8" y="426.7" width="18.0" height="3.9" rx="1.9" fill="rgb(55,55,55)" filter="url(#bl)"/>
<rect x="64.8" y="437.8" width="70.1" height="13.3" fill="#ebebeb" filter="url(#bl2)"/>
<rect x="67.2" y="442.8" width="18.0" height="3.9" rx="1.9" fill="rgb(70,70,70)" filter="url(#bl)"/>
<rect x="90.3" y="442.0" width="18.0" height="5.5" rx="2.8" fill="rgb(10,10,10)" filter="url(#bl)"/>
<rect x="113.8" y="441.9" width="18.0" height="5.7" rx="2.9" fill="rgb(10,10,10)" filter="url(#bl)"/>
<rect x="64.8" y="454.2" width="70.1" height="12.9" fill="#d0d0d0" filter="url(#bl2)"/>
<rect x="67.2" y="457.2" width="18.0" height="7.4" rx="3.0" fill="rgb(55,55,55)" filter="url(#bl)"/>
<rect x="90.3" y="457.2" width="18.0" height="7.4" rx="3.0" fill="rgb(55,55,55)" filter="url(#bl)"/>
<rect x="113.8" y="457.2" width="18.0" height="7.4" rx="3.0" fill="rgb(55,55,55)" filter="url(#bl)"/>
<text x="61.5" y="380.7" font-size="8.8" text-anchor="end" textLength="25.2" lengthAdjust="spacingAndGlyphs">CDK1</text>
<text x="58.9" y="399.1" font-size="8.8" text-anchor="end" textLength="16.4" lengthAdjust="spacingAndGlyphs">p27</text>
<text x="62.0" y="413.3" font-size="8.8" text-anchor="end" textLength="38.0" lengthAdjust="spacingAndGlyphs">β-tubulin</text>
<text x="61.5" y="431.7" font-size="8.8" text-anchor="end" textLength="25.2" lengthAdjust="spacingAndGlyphs">CDK1</text>
<text x="58.9" y="447.6" font-size="8.8" text-anchor="end" textLength="15.9" lengthAdjust="spacingAndGlyphs">p27</text>
<text x="59.4" y="462.1" font-size="8.8" text-anchor="end" textLength="38.0" lengthAdjust="spacingAndGlyphs">β-tubulin</text>
<text x="79.2" y="367.6" font-size="8.6" transform="rotate(-90 79.2 367.6)" textLength="21.0" lengthAdjust="spacingAndGlyphs">shNC</text>
<text x="103.4" y="367.6" font-size="8.6" transform="rotate(-90 103.4 367.6)" textLength="36.5" lengthAdjust="spacingAndGlyphs">shLINC-1</text>
<text x="126.8" y="367.6" font-size="8.6" transform="rotate(-90 126.8 367.6)" textLength="36.5" lengthAdjust="spacingAndGlyphs">shLINC-2</text>
<line x1="137.6" y1="371.2" x2="137.6" y2="417.5" stroke="#9a9a9a" stroke-width="0.9"/>
<line x1="136.9" y1="421.6" x2="136.9" y2="467.1" stroke="#9a9a9a" stroke-width="0.9"/>
<text x="149.8" y="394.3" font-size="8.6" transform="rotate(-90 149.8 394.3)" text-anchor="middle">5-8F</text>
<text x="149.8" y="439.0" font-size="8.6" transform="rotate(-90 149.8 439.0)" text-anchor="middle">CNE2</text>
<rect x="214.4" y="368.1" width="68.5" height="13.6" fill="#dcdcdc" filter="url(#bl2)"/>
<rect x="216.2" y="373.3" width="19.5" height="3.1" rx="1.6" fill="rgb(200,200,200)" filter="url(#bl)"/>
<rect x="238.2" y="372.6" width="19.5" height="4.5" rx="2.2" fill="rgb(10,10,10)" filter="url(#bl)"/>
<rect x="261.1" y="372.9" width="19.5" height="3.9" rx="1.9" fill="rgb(30,30,30)" filter="url(#bl)"/>
<rect x="214.4" y="384.3" width="68.5" height="13.1" fill="#ebebeb" filter="url(#bl2)"/>
<rect x="216.2" y="388.6" width="19.5" height="5.1" rx="2.6" fill="rgb(10,10,10)" filter="url(#bl)"/>
<rect x="238.2" y="389.1" width="19.5" height="4.1" rx="2.1" fill="rgb(110,110,110)" filter="url(#bl)"/>
<rect x="261.1" y="389.3" width="19.5" height="3.7" rx="1.8" fill="rgb(165,165,165)" filter="url(#bl)"/>
<rect x="214.4" y="400.7" width="68.5" height="14.0" fill="#d0d0d0" filter="url(#bl2)"/>
<rect x="216.2" y="404.2" width="19.5" height="7.5" rx="3.0" fill="rgb(50,50,50)" filter="url(#bl)"/>
<rect x="238.2" y="404.6" width="19.5" height="6.9" rx="3.0" fill="rgb(55,55,55)" filter="url(#bl)"/>
<rect x="261.1" y="404.6" width="19.5" height="6.9" rx="3.0" fill="rgb(55,55,55)" filter="url(#bl)"/>
<rect x="214.4" y="417.4" width="68.5" height="13.1" fill="#d6d6d6" filter="url(#bl2)"/>
<rect x="216.2" y="422.5" width="19.5" height="3.5" rx="1.8" fill="rgb(185,185,185)" filter="url(#bl)"/>
<rect x="238.2" y="421.0" width="19.5" height="6.5" rx="3.0" fill="rgb(5,5,5)" filter="url(#bl)"/>
<rect x="261.1" y="421.0" width="19.5" height="6.5" rx="3.0" fill="rgb(5,5,5)" filter="url(#bl)"/>
<rect x="214.4" y="433.3" width="68.5" height="13.3" fill="#e6e6e6" filter="url(#bl2)"/>
<rect x="216.2" y="437.0" width="19.5" height="6.3" rx="3.0" fill="rgb(5,5,5)" filter="url(#bl)"/>
<rect x="238.2" y="438.0" width="19.5" height="4.3" rx="2.1" fill="rgb(80,80,80)" filter="url(#bl)"/>
<rect x="261.1" y="438.1" width="19.5" height="4.1" rx="2.1" fill="rgb(90,90,90)" filter="url(#bl)"/>
<rect x="214.4" y="450.0" width="68.5" height="12.7" fill="#d0d0d0" filter="url(#bl2)"/>
<rect x="216.2" y="452.7" width="19.5" height="7.3" rx="3.0" fill="rgb(50,50,50)" filter="url(#bl)"/>
<rect x="238.2" y="452.7" width="19.5" height="7.3" rx="3.0" fill="rgb(50,50,50)" filter="url(#bl)"/>
<rect x="261.1" y="452.7" width="19.5" height="7.3" rx="3.0" fill="rgb(50,50,50)" filter="url(#bl)"/>
<text x="210.8" y="377.1" font-size="8.4" text-anchor="end" textLength="22.6" lengthAdjust="spacingAndGlyphs">CDK1</text>
<text x="208.3" y="394.3" font-size="8.4" text-anchor="end" textLength="14.3" lengthAdjust="spacingAndGlyphs">p27</text>
<text x="209.6" y="409.8" font-size="8.4" text-anchor="end" textLength="34.2" lengthAdjust="spacingAndGlyphs">β-tubulin</text>
<text x="210.0" y="427.5" font-size="8.4" text-anchor="end" textLength="22.4" lengthAdjust="spacingAndGlyphs">CDK1</text>
<text x="209.3" y="443.3" font-size="8.4" text-anchor="end" textLength="14.6" lengthAdjust="spacingAndGlyphs">p27</text>
<text x="211.0" y="459.7" font-size="8.4" text-anchor="end" textLength="34.8" lengthAdjust="spacingAndGlyphs">β-tubulin</text>
<text x="230.4" y="364.4" font-size="8.2" transform="rotate(-90 230.4 364.4)" textLength="23.5" lengthAdjust="spacingAndGlyphs">Vector</text>
<text x="252.0" y="364.4" font-size="8.2" transform="rotate(-90 252.0 364.4)" textLength="26.8" lengthAdjust="spacingAndGlyphs">LINC-1</text>
<text x="271.8" y="364.4" font-size="8.2" transform="rotate(-90 271.8 364.4)" textLength="26.8" lengthAdjust="spacingAndGlyphs">LINC-2</text>
<line x1="285.4" y1="368.1" x2="285.4" y2="414.7" stroke="#9a9a9a" stroke-width="0.9"/>
<line x1="285.4" y1="417.7" x2="285.4" y2="462.7" stroke="#9a9a9a" stroke-width="0.9"/>
<text x="297.0" y="393.1" font-size="8.6" transform="rotate(-90 297.0 393.1)" text-anchor="middle">6-10B</text>
<text x="297.0" y="439.8" font-size="8.6" transform="rotate(-90 297.0 439.8)" text-anchor="middle">CNE1</text>
<text x="305.1" y="329.9" font-size="14.5" fill="#000" font-weight="bold">G</text>
<line x1="353.7" y1="454.8" x2="353.7" y2="372.9" stroke="#1a1a1a" stroke-width="1"/>
<line x1="351.2" y1="454.8" x2="353.7" y2="454.8" stroke="#1a1a1a" stroke-width="1"/>
<text x="350.7" y="457.9" font-size="8.6" text-anchor="end">0</text>
<line x1="351.2" y1="427.5" x2="353.7" y2="427.5" stroke="#1a1a1a" stroke-width="1"/>
<text x="350.7" y="430.6" font-size="8.6" text-anchor="end">50</text>
<line x1="351.2" y1="400.2" x2="353.7" y2="400.2" stroke="#1a1a1a" stroke-width="1"/>
<text x="350.7" y="403.3" font-size="8.6" text-anchor="end">100</text>
<line x1="351.2" y1="372.9" x2="353.7" y2="372.9" stroke="#1a1a1a" stroke-width="1"/>
<text x="350.7" y="376.0" font-size="8.6" text-anchor="end">150</text>
<line x1="353.7" y1="454.8" x2="475.8" y2="454.8" stroke="#1a1a1a" stroke-width="1"/>
<line x1="353.6" y1="454.8" x2="353.6" y2="457.3" stroke="#1a1a1a" stroke-width="1"/>
<text x="353.6" y="465.0" font-size="8.6" text-anchor="middle">0</text>
<line x1="376.3" y1="454.8" x2="376.3" y2="457.3" stroke="#1a1a1a" stroke-width="1"/>
<text x="376.3" y="465.0" font-size="8.6" text-anchor="middle">20</text>
<line x1="399.2" y1="454.8" x2="399.2" y2="457.3" stroke="#1a1a1a" stroke-width="1"/>
<text x="399.2" y="465.0" font-size="8.6" text-anchor="middle">40</text>
<line x1="423.7" y1="454.8" x2="423.7" y2="457.3" stroke="#1a1a1a" stroke-width="1"/>
<text x="423.7" y="465.0" font-size="8.6" text-anchor="middle">60</text>
<line x1="450.3" y1="454.8" x2="450.3" y2="457.3" stroke="#1a1a1a" stroke-width="1"/>
<text x="450.3" y="465.0" font-size="8.6" text-anchor="middle">80</text>
<line x1="475.8" y1="454.8" x2="475.8" y2="457.3" stroke="#1a1a1a" stroke-width="1"/>
<text x="475.8" y="465.0" font-size="8.6" text-anchor="middle">100</text>
<text x="414.7" y="477.2" font-size="8.6" text-anchor="middle">Time (min)</text>
<text x="408.0" y="354.8" font-size="8.4" text-anchor="middle">CNE2</text>
<text x="330.4" y="418.4" font-size="8.6" transform="rotate(-90 330.4 418.4)" text-anchor="middle" textLength="61.0" lengthAdjust="spacingAndGlyphs">ECAR (mpH/min)</text>
<line x1="383.5" y1="415.6" x2="383.5" y2="442.4" stroke="#b040c0" stroke-width="0.9" stroke-dasharray="1.5 1.2"/>
<line x1="412.6" y1="397.0" x2="412.6" y2="442.4" stroke="#b040c0" stroke-width="0.9" stroke-dasharray="1.5 1.2"/>
<line x1="443.0" y1="399.8" x2="443.0" y2="442.4" stroke="#b040c0" stroke-width="0.9" stroke-dasharray="1.5 1.2"/>
<text x="382.0" y="451.0" font-size="8.2" text-anchor="middle">Glu</text>
<text x="414.0" y="451.0" font-size="8.2" text-anchor="middle">Oligo</text>
<text x="445.0" y="451.0" font-size="8.2" text-anchor="middle">2-DG</text>
<polyline points="359.8,432.4 370.0,433.5 380.2,433.5 390.0,407.3 399.6,408.4 409.8,409.5 420.0,387.6 429.6,387.2 439.4,388.5 449.6,413.9 459.3,420.0 469.4,422.8" fill="none" stroke="#111" stroke-width="1"/>
<line x1="359.8" y1="429.1" x2="359.8" y2="435.7" stroke="#111" stroke-width="0.8"/>
<line x1="358.2" y1="429.1" x2="361.4" y2="429.1" stroke="#111" stroke-width="0.8"/>
<line x1="358.2" y1="435.7" x2="361.4" y2="435.7" stroke="#111" stroke-width="0.8"/>
<circle cx="359.8" cy="432.4" r="1.5" fill="#111"/>
<line x1="370.0" y1="430.8" x2="370.0" y2="436.2" stroke="#111" stroke-width="0.8"/>
<line x1="368.4" y1="430.8" x2="371.6" y2="430.8" stroke="#111" stroke-width="0.8"/>
<line x1="368.4" y1="436.2" x2="371.6" y2="436.2" stroke="#111" stroke-width="0.8"/>
<circle cx="370.0" cy="433.5" r="1.5" fill="#111"/>
<line x1="380.2" y1="430.8" x2="380.2" y2="436.2" stroke="#111" stroke-width="0.8"/>
<line x1="378.6" y1="430.8" x2="381.8" y2="430.8" stroke="#111" stroke-width="0.8"/>
<line x1="378.6" y1="436.2" x2="381.8" y2="436.2" stroke="#111" stroke-width="0.8"/>
<circle cx="380.2" cy="433.5" r="1.5" fill="#111"/>
<line x1="390.0" y1="403.5" x2="390.0" y2="411.1" stroke="#111" stroke-width="0.8"/>
<line x1="388.4" y1="403.5" x2="391.6" y2="403.5" stroke="#111" stroke-width="0.8"/>
<line x1="388.4" y1="411.1" x2="391.6" y2="411.1" stroke="#111" stroke-width="0.8"/>
<circle cx="390.0" cy="407.3" r="1.5" fill="#111"/>
<line x1="399.6" y1="404.6" x2="399.6" y2="412.2" stroke="#111" stroke-width="0.8"/>
<line x1="398.0" y1="404.6" x2="401.2" y2="404.6" stroke="#111" stroke-width="0.8"/>
<line x1="398.0" y1="412.2" x2="401.2" y2="412.2" stroke="#111" stroke-width="0.8"/>
<circle cx="399.6" cy="408.4" r="1.5" fill="#111"/>
<line x1="409.8" y1="406.2" x2="409.8" y2="412.8" stroke="#111" stroke-width="0.8"/>
<line x1="408.2" y1="406.2" x2="411.4" y2="406.2" stroke="#111" stroke-width="0.8"/>
<line x1="408.2" y1="412.8" x2="411.4" y2="412.8" stroke="#111" stroke-width="0.8"/>
<circle cx="409.8" cy="409.5" r="1.5" fill="#111"/>
<line x1="420.0" y1="385.5" x2="420.0" y2="389.8" stroke="#111" stroke-width="0.8"/>
<line x1="418.4" y1="385.5" x2="421.6" y2="385.5" stroke="#111" stroke-width="0.8"/>
<line x1="418.4" y1="389.8" x2="421.6" y2="389.8" stroke="#111" stroke-width="0.8"/>
<circle cx="420.0" cy="387.6" r="1.5" fill="#111"/>
<line x1="429.6" y1="385.0" x2="429.6" y2="389.4" stroke="#111" stroke-width="0.8"/>
<line x1="428.0" y1="385.0" x2="431.2" y2="385.0" stroke="#111" stroke-width="0.8"/>
<line x1="428.0" y1="389.4" x2="431.2" y2="389.4" stroke="#111" stroke-width="0.8"/>
<circle cx="429.6" cy="387.2" r="1.5" fill="#111"/>
<line x1="439.4" y1="386.9" x2="439.4" y2="390.2" stroke="#111" stroke-width="0.8"/>
<line x1="437.8" y1="386.9" x2="441.0" y2="386.9" stroke="#111" stroke-width="0.8"/>
<line x1="437.8" y1="390.2" x2="441.0" y2="390.2" stroke="#111" stroke-width="0.8"/>
<circle cx="439.4" cy="388.5" r="1.5" fill="#111"/>
<line x1="449.6" y1="412.8" x2="449.6" y2="414.9" stroke="#111" stroke-width="0.8"/>
<line x1="448.0" y1="412.8" x2="451.2" y2="412.8" stroke="#111" stroke-width="0.8"/>
<line x1="448.0" y1="414.9" x2="451.2" y2="414.9" stroke="#111" stroke-width="0.8"/>
<circle cx="449.6" cy="413.9" r="1.5" fill="#111"/>
<line x1="459.3" y1="417.8" x2="459.3" y2="422.2" stroke="#111" stroke-width="0.8"/>
<line x1="457.7" y1="417.8" x2="460.9" y2="417.8" stroke="#111" stroke-width="0.8"/>
<line x1="457.7" y1="422.2" x2="460.9" y2="422.2" stroke="#111" stroke-width="0.8"/>
<circle cx="459.3" cy="420.0" r="1.5" fill="#111"/>
<line x1="469.4" y1="421.2" x2="469.4" y2="424.4" stroke="#111" stroke-width="0.8"/>
<line x1="467.8" y1="421.2" x2="471.0" y2="421.2" stroke="#111" stroke-width="0.8"/>
<line x1="467.8" y1="424.4" x2="471.0" y2="424.4" stroke="#111" stroke-width="0.8"/>
<circle cx="469.4" cy="422.8" r="1.5" fill="#111"/>
<polyline points="359.8,434.4 370.0,434.6 380.2,434.6 390.0,419.6 399.6,420.9 409.8,422.8 420.0,408.9 429.6,409.8 439.4,411.3 449.6,432.4 459.3,439.8 469.4,442.8" fill="none" stroke="#08c008" stroke-width="1"/>
<line x1="359.8" y1="432.2" x2="359.8" y2="436.6" stroke="#08c008" stroke-width="0.8"/>
<line x1="358.2" y1="432.2" x2="361.4" y2="432.2" stroke="#08c008" stroke-width="0.8"/>
<line x1="358.2" y1="436.6" x2="361.4" y2="436.6" stroke="#08c008" stroke-width="0.8"/>
<rect x="358.3" y="432.9" width="3.0" height="3.0" fill="#08c008"/>
<line x1="370.0" y1="432.4" x2="370.0" y2="436.8" stroke="#08c008" stroke-width="0.8"/>
<line x1="368.4" y1="432.4" x2="371.6" y2="432.4" stroke="#08c008" stroke-width="0.8"/>
<line x1="368.4" y1="436.8" x2="371.6" y2="436.8" stroke="#08c008" stroke-width="0.8"/>
<rect x="368.5" y="433.1" width="3.0" height="3.0" fill="#08c008"/>
<line x1="380.2" y1="432.4" x2="380.2" y2="436.8" stroke="#08c008" stroke-width="0.8"/>
<line x1="378.6" y1="432.4" x2="381.8" y2="432.4" stroke="#08c008" stroke-width="0.8"/>
<line x1="378.6" y1="436.8" x2="381.8" y2="436.8" stroke="#08c008" stroke-width="0.8"/>
<rect x="378.7" y="433.1" width="3.0" height="3.0" fill="#08c008"/>
<line x1="390.0" y1="417.4" x2="390.0" y2="421.8" stroke="#08c008" stroke-width="0.8"/>
<line x1="388.4" y1="417.4" x2="391.6" y2="417.4" stroke="#08c008" stroke-width="0.8"/>
<line x1="388.4" y1="421.8" x2="391.6" y2="421.8" stroke="#08c008" stroke-width="0.8"/>
<rect x="388.5" y="418.1" width="3.0" height="3.0" fill="#08c008"/>
<line x1="399.6" y1="418.8" x2="399.6" y2="423.1" stroke="#08c008" stroke-width="0.8"/>
<line x1="398.0" y1="418.8" x2="401.2" y2="418.8" stroke="#08c008" stroke-width="0.8"/>
<line x1="398.0" y1="423.1" x2="401.2" y2="423.1" stroke="#08c008" stroke-width="0.8"/>
<rect x="398.1" y="419.4" width="3.0" height="3.0" fill="#08c008"/>
<line x1="409.8" y1="421.2" x2="409.8" y2="424.4" stroke="#08c008" stroke-width="0.8"/>
<line x1="408.2" y1="421.2" x2="411.4" y2="421.2" stroke="#08c008" stroke-width="0.8"/>
<line x1="408.2" y1="424.4" x2="411.4" y2="424.4" stroke="#08c008" stroke-width="0.8"/>
<rect x="408.3" y="421.3" width="3.0" height="3.0" fill="#08c008"/>
<line x1="420.0" y1="405.7" x2="420.0" y2="412.2" stroke="#08c008" stroke-width="0.8"/>
<line x1="418.4" y1="405.7" x2="421.6" y2="405.7" stroke="#08c008" stroke-width="0.8"/>
<line x1="418.4" y1="412.2" x2="421.6" y2="412.2" stroke="#08c008" stroke-width="0.8"/>
<rect x="418.5" y="407.4" width="3.0" height="3.0" fill="#08c008"/>
<line x1="429.6" y1="407.6" x2="429.6" y2="412.0" stroke="#08c008" stroke-width="0.8"/>
<line x1="428.0" y1="407.6" x2="431.2" y2="407.6" stroke="#08c008" stroke-width="0.8"/>
<line x1="428.0" y1="412.0" x2="431.2" y2="412.0" stroke="#08c008" stroke-width="0.8"/>
<rect x="428.1" y="408.3" width="3.0" height="3.0" fill="#08c008"/>
<line x1="439.4" y1="409.1" x2="439.4" y2="413.5" stroke="#08c008" stroke-width="0.8"/>
<line x1="437.8" y1="409.1" x2="441.0" y2="409.1" stroke="#08c008" stroke-width="0.8"/>
<line x1="437.8" y1="413.5" x2="441.0" y2="413.5" stroke="#08c008" stroke-width="0.8"/>
<rect x="437.9" y="409.8" width="3.0" height="3.0" fill="#08c008"/>
<line x1="449.6" y1="430.2" x2="449.6" y2="434.6" stroke="#08c008" stroke-width="0.8"/>
<line x1="448.0" y1="430.2" x2="451.2" y2="430.2" stroke="#08c008" stroke-width="0.8"/>
<line x1="448.0" y1="434.6" x2="451.2" y2="434.6" stroke="#08c008" stroke-width="0.8"/>
<rect x="448.1" y="430.9" width="3.0" height="3.0" fill="#08c008"/>
<line x1="459.3" y1="436.5" x2="459.3" y2="443.1" stroke="#08c008" stroke-width="0.8"/>
<line x1="457.7" y1="436.5" x2="460.9" y2="436.5" stroke="#08c008" stroke-width="0.8"/>
<line x1="457.7" y1="443.1" x2="460.9" y2="443.1" stroke="#08c008" stroke-width="0.8"/>
<rect x="457.8" y="438.3" width="3.0" height="3.0" fill="#08c008"/>
<line x1="469.4" y1="438.4" x2="469.4" y2="447.2" stroke="#08c008" stroke-width="0.8"/>
<line x1="467.8" y1="438.4" x2="471.0" y2="438.4" stroke="#08c008" stroke-width="0.8"/>
<line x1="467.8" y1="447.2" x2="471.0" y2="447.2" stroke="#08c008" stroke-width="0.8"/>
<rect x="467.9" y="441.3" width="3.0" height="3.0" fill="#08c008"/>
<polyline points="359.8,436.8 370.0,436.8 380.2,436.8 390.0,424.6 399.6,425.0 409.8,425.0 420.0,414.4 429.6,416.8 439.4,412.6 449.6,437.2 459.3,444.6 469.4,445.9" fill="none" stroke="#2020f4" stroke-width="1"/>
<line x1="359.8" y1="434.1" x2="359.8" y2="439.5" stroke="#2020f4" stroke-width="0.8"/>
<line x1="358.2" y1="434.1" x2="361.4" y2="434.1" stroke="#2020f4" stroke-width="0.8"/>
<line x1="358.2" y1="439.5" x2="361.4" y2="439.5" stroke="#2020f4" stroke-width="0.8"/>
<path d="M358.0,438.1 L361.6,438.1 L359.8,435.0Z" fill="#2020f4"/>
<line x1="370.0" y1="434.1" x2="370.0" y2="439.5" stroke="#2020f4" stroke-width="0.8"/>
<line x1="368.4" y1="434.1" x2="371.6" y2="434.1" stroke="#2020f4" stroke-width="0.8"/>
<line x1="368.4" y1="439.5" x2="371.6" y2="439.5" stroke="#2020f4" stroke-width="0.8"/>
<path d="M368.2,438.1 L371.8,438.1 L370.0,435.0Z" fill="#2020f4"/>
<line x1="380.2" y1="434.1" x2="380.2" y2="439.5" stroke="#2020f4" stroke-width="0.8"/>
<line x1="378.6" y1="434.1" x2="381.8" y2="434.1" stroke="#2020f4" stroke-width="0.8"/>
<line x1="378.6" y1="439.5" x2="381.8" y2="439.5" stroke="#2020f4" stroke-width="0.8"/>
<path d="M378.4,438.1 L382.0,438.1 L380.2,435.0Z" fill="#2020f4"/>
<line x1="390.0" y1="422.4" x2="390.0" y2="426.8" stroke="#2020f4" stroke-width="0.8"/>
<line x1="388.4" y1="422.4" x2="391.6" y2="422.4" stroke="#2020f4" stroke-width="0.8"/>
<line x1="388.4" y1="426.8" x2="391.6" y2="426.8" stroke="#2020f4" stroke-width="0.8"/>
<path d="M388.2,425.9 L391.8,425.9 L390.0,422.8Z" fill="#2020f4"/>
<line x1="399.6" y1="422.8" x2="399.6" y2="427.2" stroke="#2020f4" stroke-width="0.8"/>
<line x1="398.0" y1="422.8" x2="401.2" y2="422.8" stroke="#2020f4" stroke-width="0.8"/>
<line x1="398.0" y1="427.2" x2="401.2" y2="427.2" stroke="#2020f4" stroke-width="0.8"/>
<path d="M397.8,426.3 L401.4,426.3 L399.6,423.2Z" fill="#2020f4"/>
<line x1="409.8" y1="423.4" x2="409.8" y2="426.6" stroke="#2020f4" stroke-width="0.8"/>
<line x1="408.2" y1="423.4" x2="411.4" y2="423.4" stroke="#2020f4" stroke-width="0.8"/>
<line x1="408.2" y1="426.6" x2="411.4" y2="426.6" stroke="#2020f4" stroke-width="0.8"/>
<path d="M408.0,426.3 L411.6,426.3 L409.8,423.2Z" fill="#2020f4"/>
<line x1="420.0" y1="412.2" x2="420.0" y2="416.6" stroke="#2020f4" stroke-width="0.8"/>
<line x1="418.4" y1="412.2" x2="421.6" y2="412.2" stroke="#2020f4" stroke-width="0.8"/>
<line x1="418.4" y1="416.6" x2="421.6" y2="416.6" stroke="#2020f4" stroke-width="0.8"/>
<path d="M418.2,415.7 L421.8,415.7 L420.0,412.6Z" fill="#2020f4"/>
<line x1="429.6" y1="414.6" x2="429.6" y2="419.0" stroke="#2020f4" stroke-width="0.8"/>
<line x1="428.0" y1="414.6" x2="431.2" y2="414.6" stroke="#2020f4" stroke-width="0.8"/>
<line x1="428.0" y1="419.0" x2="431.2" y2="419.0" stroke="#2020f4" stroke-width="0.8"/>
<path d="M427.8,418.1 L431.4,418.1 L429.6,415.0Z" fill="#2020f4"/>
<line x1="439.4" y1="408.8" x2="439.4" y2="416.4" stroke="#2020f4" stroke-width="0.8"/>
<line x1="437.8" y1="408.8" x2="441.0" y2="408.8" stroke="#2020f4" stroke-width="0.8"/>
<line x1="437.8" y1="416.4" x2="441.0" y2="416.4" stroke="#2020f4" stroke-width="0.8"/>
<path d="M437.6,413.9 L441.2,413.9 L439.4,410.8Z" fill="#2020f4"/>
<line x1="449.6" y1="435.0" x2="449.6" y2="439.4" stroke="#2020f4" stroke-width="0.8"/>
<line x1="448.0" y1="435.0" x2="451.2" y2="435.0" stroke="#2020f4" stroke-width="0.8"/>
<line x1="448.0" y1="439.4" x2="451.2" y2="439.4" stroke="#2020f4" stroke-width="0.8"/>
<path d="M447.8,438.5 L451.4,438.5 L449.6,435.4Z" fill="#2020f4"/>
<line x1="459.3" y1="443.0" x2="459.3" y2="446.2" stroke="#2020f4" stroke-width="0.8"/>
<line x1="457.7" y1="443.0" x2="460.9" y2="443.0" stroke="#2020f4" stroke-width="0.8"/>
<line x1="457.7" y1="446.2" x2="460.9" y2="446.2" stroke="#2020f4" stroke-width="0.8"/>
<path d="M457.5,445.9 L461.1,445.9 L459.3,442.8Z" fill="#2020f4"/>
<line x1="469.4" y1="444.3" x2="469.4" y2="447.5" stroke="#2020f4" stroke-width="0.8"/>
<line x1="467.8" y1="444.3" x2="471.0" y2="444.3" stroke="#2020f4" stroke-width="0.8"/>
<line x1="467.8" y1="447.5" x2="471.0" y2="447.5" stroke="#2020f4" stroke-width="0.8"/>
<path d="M467.6,447.2 L471.2,447.2 L469.4,444.1Z" fill="#2020f4"/>
<line x1="356.3" y1="366.2" x2="364.3" y2="366.2" stroke="#111" stroke-width="1"/>
<circle cx="360.3" cy="366.2" r="1.5" fill="#111"/>
<text x="369.6" y="369.2" font-size="8.4">shNC</text>
<line x1="356.3" y1="377.7" x2="364.3" y2="377.7" stroke="#08c008" stroke-width="1"/>
<rect x="358.8" y="376.2" width="3.0" height="3.0" fill="#08c008"/>
<text x="369.6" y="380.7" font-size="8.4">shLINC-1</text>
<line x1="356.3" y1="388.3" x2="364.3" y2="388.3" stroke="#2020f4" stroke-width="1"/>
<path d="M358.5,389.6 L362.1,389.6 L360.3,386.5Z" fill="#2020f4"/>
<text x="369.6" y="391.3" font-size="8.4">shLINC-2</text>
<line x1="533.1" y1="459.0" x2="533.1" y2="360.0" stroke="#1a1a1a" stroke-width="1"/>
<line x1="530.6" y1="459.0" x2="533.1" y2="459.0" stroke="#1a1a1a" stroke-width="1"/>
<text x="0" y="0" font-size="9.6" transform="translate(530.1 462.5) scale(0.92 1)" text-anchor="end">0</text>
<line x1="530.6" y1="434.2" x2="533.1" y2="434.2" stroke="#1a1a1a" stroke-width="1"/>
<text x="0" y="0" font-size="9.6" transform="translate(530.1 437.7) scale(0.92 1)" text-anchor="end">20</text>
<line x1="530.6" y1="409.5" x2="533.1" y2="409.5" stroke="#1a1a1a" stroke-width="1"/>
<text x="0" y="0" font-size="9.6" transform="translate(530.1 413.0) scale(0.92 1)" text-anchor="end">40</text>
<line x1="530.6" y1="384.8" x2="533.1" y2="384.8" stroke="#1a1a1a" stroke-width="1"/>
<text x="0" y="0" font-size="9.6" transform="translate(530.1 388.2) scale(0.92 1)" text-anchor="end">60</text>
<line x1="530.6" y1="360.0" x2="533.1" y2="360.0" stroke="#1a1a1a" stroke-width="1"/>
<text x="0" y="0" font-size="9.6" transform="translate(530.1 363.5) scale(0.92 1)" text-anchor="end">80</text>
<line x1="533.1" y1="459.0" x2="671.4" y2="459.0" stroke="#1a1a1a" stroke-width="1"/>
<rect x="547.2" y="370.6" width="28.1" height="88.4" fill="#a3a2aa"/>
<line x1="561.2" y1="370.6" x2="561.2" y2="366.6" stroke="#a3a2aa" stroke-width="1"/>
<line x1="554.8" y1="366.6" x2="567.8" y2="366.6" stroke="#a3a2aa" stroke-width="1"/>
<line x1="561.2" y1="459.0" x2="561.2" y2="461.5" stroke="#1a1a1a" stroke-width="1"/>
<text x="561.2" y="472.6" font-size="10.3" text-anchor="middle" textLength="20.2" lengthAdjust="spacingAndGlyphs">shNC</text>
<rect x="588.0" y="413.2" width="28.7" height="45.8" fill="#00c000"/>
<line x1="602.4" y1="413.2" x2="602.4" y2="407.1" stroke="#00c000" stroke-width="1"/>
<line x1="595.9" y1="407.1" x2="608.9" y2="407.1" stroke="#00c000" stroke-width="1"/>
<line x1="602.4" y1="459.0" x2="602.4" y2="461.5" stroke="#1a1a1a" stroke-width="1"/>
<text x="602.4" y="472.6" font-size="10.3" text-anchor="middle" textLength="35.2" lengthAdjust="spacingAndGlyphs">shLINC-1</text>
<text x="602.4" y="408.3" font-size="8" text-anchor="middle">***</text>
<rect x="629.6" y="410.6" width="28.3" height="48.4" fill="#005800"/>
<line x1="643.8" y1="410.6" x2="643.8" y2="407.0" stroke="#005800" stroke-width="1"/>
<line x1="637.2" y1="407.0" x2="650.2" y2="407.0" stroke="#005800" stroke-width="1"/>
<line x1="643.8" y1="459.0" x2="643.8" y2="461.5" stroke="#1a1a1a" stroke-width="1"/>
<text x="643.8" y="472.6" font-size="10.3" text-anchor="middle" textLength="36.1" lengthAdjust="spacingAndGlyphs">shLINC-2</text>
<text x="643.8" y="408.2" font-size="8" text-anchor="middle">***</text>
<text x="514.6" y="407.4" font-size="9.5" transform="rotate(-90 514.6 407.4)" text-anchor="middle" textLength="100.5" lengthAdjust="spacingAndGlyphs">Glycolysis (mpH/min)</text>
<text x="1.3" y="493.3" font-size="14.5" fill="#000" font-weight="bold">H</text>
<text x="40.2" y="513.6" font-size="4.6" class="lt">13</text>
<text x="45.2" y="516.7" font-size="7.3" textLength="37.6" lengthAdjust="spacingAndGlyphs" class="lt">C6-Glucose</text>
<line x1="57.9" y1="519.9" x2="33.8" y2="535.7" stroke="#333" stroke-width="0.7"/>
<line x1="33.8" y1="535.7" x2="37.0" y2="535.4" stroke="#333" stroke-width="0.7"/>
<line x1="33.8" y1="535.7" x2="35.3" y2="532.9" stroke="#333" stroke-width="0.7"/>
<line x1="74.0" y1="519.9" x2="94.9" y2="535.7" stroke="#333" stroke-width="0.7"/>
<line x1="94.9" y1="535.7" x2="93.6" y2="532.8" stroke="#333" stroke-width="0.7"/>
<line x1="94.9" y1="535.7" x2="91.7" y2="535.2" stroke="#333" stroke-width="0.7"/>
<path d="M3.8,542.1 L3.8,552.8 A26.55,2.6 0 0 0 56.9,552.8 L56.9,542.1 Z" fill="#bcbcbc" stroke="#9c9ce0" stroke-width="0.6"/>
<ellipse cx="30.349999999999998" cy="542.1" rx="26.55" ry="2.6" fill="#bcbcbc" stroke="#9c9ce0" stroke-width="0.6"/>
<path d="M68.3,542.1 L68.3,552.8 A26.550000000000004,2.6 0 0 0 121.4,552.8 L121.4,542.1 Z" fill="#b9e1e3" stroke="#6aa0a0" stroke-width="0.6"/>
<ellipse cx="94.85" cy="542.1" rx="26.550000000000004" ry="2.6" fill="#b9e1e3" stroke="#6aa0a0" stroke-width="0.6"/>
<circle cx="14.3" cy="553.5" r="1.4" fill="none" stroke="#8282dc" stroke-width="0.6"/>
<circle cx="17.4" cy="553.5" r="1.4" fill="none" stroke="#8282dc" stroke-width="0.6"/>
<circle cx="20.6" cy="553.5" r="1.4" fill="none" stroke="#8282dc" stroke-width="0.6"/>
<circle cx="23.8" cy="553.5" r="1.4" fill="none" stroke="#8282dc" stroke-width="0.6"/>
<circle cx="26.9" cy="553.5" r="1.4" fill="none" stroke="#8282dc" stroke-width="0.6"/>
<circle cx="30.9" cy="553.5" r="1.4" fill="none" stroke="#8282dc" stroke-width="0.6"/>
<circle cx="34.0" cy="553.5" r="1.4" fill="none" stroke="#8282dc" stroke-width="0.6"/>
<circle cx="37.1" cy="553.5" r="1.4" fill="none" stroke="#8282dc" stroke-width="0.6"/>
<circle cx="40.3" cy="553.5" r="1.4" fill="none" stroke="#8282dc" stroke-width="0.6"/>
<circle cx="43.4" cy="553.5" r="1.4" fill="none" stroke="#8282dc" stroke-width="0.6"/>
<circle cx="46.6" cy="553.5" r="1.4" fill="none" stroke="#8282dc" stroke-width="0.6"/>
<circle cx="80.0" cy="553.5" r="1.4" fill="none" stroke="#5a9090" stroke-width="0.6"/>
<circle cx="83.4" cy="553.5" r="1.4" fill="none" stroke="#5a9090" stroke-width="0.6"/>
<circle cx="86.8" cy="553.5" r="1.4" fill="none" stroke="#5a9090" stroke-width="0.6"/>
<circle cx="90.2" cy="553.5" r="1.4" fill="none" stroke="#5a9090" stroke-width="0.6"/>
<circle cx="93.6" cy="553.5" r="1.4" fill="none" stroke="#5a9090" stroke-width="0.6"/>
<circle cx="97.8" cy="553.5" r="1.4" fill="none" stroke="#5a9090" stroke-width="0.6"/>
<circle cx="101.2" cy="553.5" r="1.4" fill="none" stroke="#5a9090" stroke-width="0.6"/>
<circle cx="104.6" cy="553.5" r="1.4" fill="none" stroke="#5a9090" stroke-width="0.6"/>
<circle cx="108.0" cy="553.5" r="1.4" fill="none" stroke="#5a9090" stroke-width="0.6"/>
<circle cx="111.4" cy="553.5" r="1.4" fill="none" stroke="#5a9090" stroke-width="0.6"/>
<text x="27.0" y="564.9" font-size="7.5" text-anchor="middle" textLength="18.0" lengthAdjust="spacingAndGlyphs" class="lt">shNC</text>
<text x="101.2" y="564.9" font-size="7.5" text-anchor="middle" textLength="24.0" lengthAdjust="spacingAndGlyphs" class="lt">shLINC</text>
<line x1="30.2" y1="567.2" x2="46.9" y2="576.4" stroke="#333" stroke-width="0.7"/>
<line x1="46.9" y1="576.4" x2="45.2" y2="573.7" stroke="#333" stroke-width="0.7"/>
<line x1="46.9" y1="576.4" x2="43.7" y2="576.4" stroke="#333" stroke-width="0.7"/>
<line x1="93.6" y1="567.2" x2="77.8" y2="576.8" stroke="#333" stroke-width="0.7"/>
<line x1="77.8" y1="576.8" x2="81.0" y2="576.7" stroke="#333" stroke-width="0.7"/>
<line x1="77.8" y1="576.8" x2="79.4" y2="574.0" stroke="#333" stroke-width="0.7"/>
<path d="M47.2,576.4 L60.1,576.4 L60.1,597.5 L53.65,602.7 L47.2,597.5 Z" fill="#bcbcbc" stroke="#a8a8ec" stroke-width="0.7"/>
<path d="M63.1,576.4 L75.8,576.4 L75.8,597.5 L69.45,602.7 L63.1,597.5 Z" fill="#b9e1e3" stroke="#78b0b0" stroke-width="0.7"/>
<circle cx="49.2" cy="593.0" r="1.2" fill="none" stroke="#a8a8ec" stroke-width="0.45"/>
<circle cx="52.1" cy="593.0" r="1.2" fill="none" stroke="#a8a8ec" stroke-width="0.45"/>
<circle cx="55.0" cy="593.0" r="1.2" fill="none" stroke="#a8a8ec" stroke-width="0.45"/>
<circle cx="57.9" cy="593.0" r="1.2" fill="none" stroke="#a8a8ec" stroke-width="0.45"/>
<circle cx="49.2" cy="595.8" r="1.2" fill="none" stroke="#a8a8ec" stroke-width="0.45"/>
<circle cx="52.1" cy="595.8" r="1.2" fill="none" stroke="#a8a8ec" stroke-width="0.45"/>
<circle cx="55.0" cy="595.8" r="1.2" fill="none" stroke="#a8a8ec" stroke-width="0.45"/>
<circle cx="57.9" cy="595.8" r="1.2" fill="none" stroke="#a8a8ec" stroke-width="0.45"/>
<circle cx="65.1" cy="593.0" r="1.2" fill="none" stroke="#6a9a9a" stroke-width="0.45"/>
<circle cx="68.0" cy="593.0" r="1.2" fill="none" stroke="#6a9a9a" stroke-width="0.45"/>
<circle cx="70.9" cy="593.0" r="1.2" fill="none" stroke="#6a9a9a" stroke-width="0.45"/>
<circle cx="73.8" cy="593.0" r="1.2" fill="none" stroke="#6a9a9a" stroke-width="0.45"/>
<circle cx="65.1" cy="595.8" r="1.2" fill="none" stroke="#6a9a9a" stroke-width="0.45"/>
<circle cx="68.0" cy="595.8" r="1.2" fill="none" stroke="#6a9a9a" stroke-width="0.45"/>
<circle cx="70.9" cy="595.8" r="1.2" fill="none" stroke="#6a9a9a" stroke-width="0.45"/>
<circle cx="73.8" cy="595.8" r="1.2" fill="none" stroke="#6a9a9a" stroke-width="0.45"/>
<line x1="61.5" y1="603.1" x2="61.5" y2="626.4" stroke="#333" stroke-width="0.7"/>
<line x1="61.5" y1="626.4" x2="63.0" y2="623.6" stroke="#333" stroke-width="0.7"/>
<line x1="61.5" y1="626.4" x2="60.0" y2="623.6" stroke="#333" stroke-width="0.7"/>
<text x="60.4" y="632.9" font-size="7.5" text-anchor="middle" textLength="22.3" lengthAdjust="spacingAndGlyphs" class="lt">LC-MS</text>
<text x="135.3" y="493.3" font-size="14.5" fill="#000" font-weight="bold">I</text>
<line x1="158.1" y1="633.0" x2="158.1" y2="539.1" stroke="#1a1a1a" stroke-width="1"/>
<line x1="155.6" y1="633.0" x2="158.1" y2="633.0" stroke="#1a1a1a" stroke-width="1"/>
<text x="0" y="0" font-size="10.4" transform="translate(155.1 636.7) scale(0.8 1)" text-anchor="end">0.0</text>
<line x1="155.6" y1="601.7" x2="158.1" y2="601.7" stroke="#1a1a1a" stroke-width="1"/>
<text x="0" y="0" font-size="10.4" transform="translate(155.1 605.4) scale(0.8 1)" text-anchor="end">0.5</text>
<line x1="155.6" y1="570.4" x2="158.1" y2="570.4" stroke="#1a1a1a" stroke-width="1"/>
<text x="0" y="0" font-size="10.4" transform="translate(155.1 574.1) scale(0.8 1)" text-anchor="end">1.0</text>
<line x1="155.6" y1="539.1" x2="158.1" y2="539.1" stroke="#1a1a1a" stroke-width="1"/>
<text x="0" y="0" font-size="10.4" transform="translate(155.1 542.8) scale(0.8 1)" text-anchor="end">1.5</text>
<line x1="158.1" y1="633.0" x2="307.2" y2="633.0" stroke="#1a1a1a" stroke-width="1"/>
<rect x="167.9" y="568.5" width="14.9" height="64.5" fill="#7d7d7d"/>
<line x1="175.4" y1="568.5" x2="175.4" y2="564.1" stroke="#7d7d7d" stroke-width="1"/>
<line x1="172.1" y1="564.1" x2="178.7" y2="564.1" stroke="#7d7d7d" stroke-width="1"/>
<rect x="188.5" y="601.1" width="14.5" height="31.9" fill="#0cbf76"/>
<line x1="195.8" y1="601.1" x2="195.8" y2="599.2" stroke="#0cbf76" stroke-width="1"/>
<line x1="192.4" y1="599.2" x2="199.1" y2="599.2" stroke="#0cbf76" stroke-width="1"/>
<text x="195.8" y="601.0" font-size="8.5" text-anchor="middle">***</text>
<rect x="208.7" y="602.6" width="14.3" height="30.4" fill="#076a40"/>
<line x1="215.8" y1="602.6" x2="215.8" y2="602.0" stroke="#076a40" stroke-width="1"/>
<line x1="212.5" y1="602.0" x2="219.2" y2="602.0" stroke="#076a40" stroke-width="1"/>
<text x="215.8" y="603.8" font-size="8.5" text-anchor="middle">***</text>
<rect x="242.3" y="567.3" width="14.5" height="65.7" fill="#7d7d7d"/>
<line x1="249.6" y1="567.3" x2="249.6" y2="566.6" stroke="#7d7d7d" stroke-width="1"/>
<line x1="246.2" y1="566.6" x2="252.9" y2="566.6" stroke="#7d7d7d" stroke-width="1"/>
<rect x="262.6" y="591.1" width="14.4" height="41.9" fill="#0cbf76"/>
<line x1="269.8" y1="591.1" x2="269.8" y2="590.4" stroke="#0cbf76" stroke-width="1"/>
<line x1="266.5" y1="590.4" x2="273.1" y2="590.4" stroke="#0cbf76" stroke-width="1"/>
<text x="269.8" y="592.2" font-size="8.5" text-anchor="middle">***</text>
<rect x="282.8" y="591.1" width="14.2" height="41.9" fill="#076a40"/>
<line x1="289.9" y1="591.1" x2="289.9" y2="588.9" stroke="#076a40" stroke-width="1"/>
<line x1="286.6" y1="588.9" x2="293.2" y2="588.9" stroke="#076a40" stroke-width="1"/>
<text x="289.9" y="590.7" font-size="8.5" text-anchor="middle">***</text>
<line x1="195.5" y1="633.0" x2="195.5" y2="635.5" stroke="#1a1a1a" stroke-width="1"/>
<line x1="270.1" y1="633.0" x2="270.1" y2="635.5" stroke="#1a1a1a" stroke-width="1"/>
<text x="0" y="0" font-size="10.5" transform="translate(195.5 646.2) scale(0.79 1)" text-anchor="middle">5-8F</text>
<text x="0" y="0" font-size="10.5" transform="translate(270.1 646.2) scale(0.79 1)" text-anchor="middle">CNE2</text>
<text x="0" y="0" font-size="7" transform="translate(195.2 520.8) scale(0.72 1)">13</text>
<text x="201.2" y="525.6" font-size="10" textLength="56.5" lengthAdjust="spacingAndGlyphs">C labelled 3-PG</text>
<rect x="162.3" y="538.8" width="9.3" height="8.7" fill="#7d7d7d"/>
<text x="0" y="0" font-size="10.5" transform="translate(175.7 547.2) scale(0.76 1)">shNC</text>
<rect x="198.5" y="538.8" width="9.3" height="8.7" fill="#0cbf76"/>
<text x="0" y="0" font-size="10.5" transform="translate(211.9 547.2) scale(0.76 1)">shLINC-1</text>
<rect x="249.4" y="538.8" width="9.3" height="8.7" fill="#076a40"/>
<text x="0" y="0" font-size="10.5" transform="translate(262.8 547.2) scale(0.76 1)">shLINC-2</text>
<text x="0" y="0" font-size="10.2" transform="translate(140.9 584.4) rotate(-90) scale(0.98 1)" text-anchor="middle">Relative levels</text>
<line x1="351.5" y1="633.8" x2="351.5" y2="540.8" stroke="#1a1a1a" stroke-width="1"/>
<line x1="349.0" y1="633.8" x2="351.5" y2="633.8" stroke="#1a1a1a" stroke-width="1"/>
<text x="0" y="0" font-size="10.4" transform="translate(348.5 637.5) scale(0.8 1)" text-anchor="end">0.0</text>
<line x1="349.0" y1="602.8" x2="351.5" y2="602.8" stroke="#1a1a1a" stroke-width="1"/>
<text x="0" y="0" font-size="10.4" transform="translate(348.5 606.5) scale(0.8 1)" text-anchor="end">0.5</text>
<line x1="349.0" y1="571.8" x2="351.5" y2="571.8" stroke="#1a1a1a" stroke-width="1"/>
<text x="0" y="0" font-size="10.4" transform="translate(348.5 575.5) scale(0.8 1)" text-anchor="end">1.0</text>
<line x1="349.0" y1="540.8" x2="351.5" y2="540.8" stroke="#1a1a1a" stroke-width="1"/>
<text x="0" y="0" font-size="10.4" transform="translate(348.5 544.5) scale(0.8 1)" text-anchor="end">1.5</text>
<line x1="351.5" y1="633.8" x2="496.2" y2="633.8" stroke="#1a1a1a" stroke-width="1"/>
<rect x="361.5" y="569.3" width="14.2" height="64.5" fill="#7d7d7d"/>
<line x1="368.6" y1="569.3" x2="368.6" y2="562.5" stroke="#7d7d7d" stroke-width="1"/>
<line x1="365.3" y1="562.5" x2="371.9" y2="562.5" stroke="#7d7d7d" stroke-width="1"/>
<rect x="381.3" y="601.9" width="13.8" height="31.9" fill="#0cbf76"/>
<line x1="388.2" y1="601.9" x2="388.2" y2="600.6" stroke="#0cbf76" stroke-width="1"/>
<line x1="384.9" y1="600.6" x2="391.5" y2="600.6" stroke="#0cbf76" stroke-width="1"/>
<text x="388.2" y="602.4" font-size="8.5" text-anchor="middle">**</text>
<rect x="400.9" y="602.2" width="13.8" height="31.6" fill="#076a40"/>
<line x1="407.8" y1="602.2" x2="407.8" y2="601.9" stroke="#076a40" stroke-width="1"/>
<line x1="404.5" y1="601.9" x2="411.1" y2="601.9" stroke="#076a40" stroke-width="1"/>
<text x="407.8" y="603.7" font-size="8.5" text-anchor="middle">**</text>
<rect x="433.4" y="569.3" width="13.8" height="64.5" fill="#7d7d7d"/>
<line x1="440.3" y1="569.3" x2="440.3" y2="562.5" stroke="#7d7d7d" stroke-width="1"/>
<line x1="437.0" y1="562.5" x2="443.6" y2="562.5" stroke="#7d7d7d" stroke-width="1"/>
<rect x="453.0" y="600.0" width="14.0" height="33.8" fill="#0cbf76"/>
<line x1="460.0" y1="600.0" x2="460.0" y2="599.4" stroke="#0cbf76" stroke-width="1"/>
<line x1="456.7" y1="599.4" x2="463.3" y2="599.4" stroke="#0cbf76" stroke-width="1"/>
<text x="460.0" y="601.2" font-size="8.5" text-anchor="middle">**</text>
<rect x="472.3" y="598.5" width="14.3" height="35.3" fill="#076a40"/>
<line x1="479.5" y1="598.5" x2="479.5" y2="596.9" stroke="#076a40" stroke-width="1"/>
<line x1="476.2" y1="596.9" x2="482.8" y2="596.9" stroke="#076a40" stroke-width="1"/>
<text x="479.5" y="598.7" font-size="8.5" text-anchor="middle">**</text>
<line x1="388.4" y1="633.8" x2="388.4" y2="636.3" stroke="#1a1a1a" stroke-width="1"/>
<line x1="459.6" y1="633.8" x2="459.6" y2="636.3" stroke="#1a1a1a" stroke-width="1"/>
<text x="0" y="0" font-size="10.5" transform="translate(388.4 646.2) scale(0.79 1)" text-anchor="middle">5-8F</text>
<text x="0" y="0" font-size="10.5" transform="translate(459.6 646.2) scale(0.79 1)" text-anchor="middle">CNE2</text>
<text x="0" y="0" font-size="7" transform="translate(380.8 524.2) scale(0.72 1)">13</text>
<text x="387.2" y="529.0" font-size="10" textLength="72.5" lengthAdjust="spacingAndGlyphs">C labelled pyruvate</text>
<rect x="355.1" y="540.5" width="9.3" height="8.7" fill="#7d7d7d"/>
<text x="0" y="0" font-size="10.5" transform="translate(368.5 548.9) scale(0.76 1)">shNC</text>
<rect x="392.8" y="540.5" width="9.3" height="8.7" fill="#0cbf76"/>
<text x="0" y="0" font-size="10.5" transform="translate(406.2 548.9) scale(0.76 1)">shLINC-1</text>
<rect x="446.2" y="540.5" width="9.3" height="8.7" fill="#076a40"/>
<text x="0" y="0" font-size="10.5" transform="translate(459.6 548.9) scale(0.76 1)">shLINC-2</text>
<text x="0" y="0" font-size="10.2" transform="translate(332.4 585.4) rotate(-90) scale(0.98 1)" text-anchor="middle">Relative levels</text>
<line x1="537.9" y1="633.0" x2="537.9" y2="541.8" stroke="#1a1a1a" stroke-width="1"/>
<line x1="535.4" y1="633.0" x2="537.9" y2="633.0" stroke="#1a1a1a" stroke-width="1"/>
<text x="0" y="0" font-size="10.4" transform="translate(534.9 636.7) scale(0.8 1)" text-anchor="end">0.0</text>
<line x1="535.4" y1="602.6" x2="537.9" y2="602.6" stroke="#1a1a1a" stroke-width="1"/>
<text x="0" y="0" font-size="10.4" transform="translate(534.9 606.3) scale(0.8 1)" text-anchor="end">0.5</text>
<line x1="535.4" y1="572.2" x2="537.9" y2="572.2" stroke="#1a1a1a" stroke-width="1"/>
<text x="0" y="0" font-size="10.4" transform="translate(534.9 575.9) scale(0.8 1)" text-anchor="end">1.0</text>
<line x1="535.4" y1="541.8" x2="537.9" y2="541.8" stroke="#1a1a1a" stroke-width="1"/>
<text x="0" y="0" font-size="10.4" transform="translate(534.9 545.5) scale(0.8 1)" text-anchor="end">1.5</text>
<line x1="537.9" y1="633.0" x2="684.0" y2="633.0" stroke="#1a1a1a" stroke-width="1"/>
<rect x="547.9" y="572.2" width="13.8" height="60.8" fill="#7d7d7d"/>
<line x1="554.8" y1="572.2" x2="554.8" y2="567.0" stroke="#7d7d7d" stroke-width="1"/>
<line x1="551.5" y1="567.0" x2="558.1" y2="567.0" stroke="#7d7d7d" stroke-width="1"/>
<rect x="567.7" y="604.7" width="14.2" height="28.3" fill="#0cbf76"/>
<line x1="574.8" y1="604.7" x2="574.8" y2="604.1" stroke="#0cbf76" stroke-width="1"/>
<line x1="571.5" y1="604.1" x2="578.1" y2="604.1" stroke="#0cbf76" stroke-width="1"/>
<text x="574.8" y="605.9" font-size="8.5" text-anchor="middle">***</text>
<rect x="587.7" y="604.4" width="14.3" height="28.6" fill="#076a40"/>
<line x1="594.9" y1="604.4" x2="594.9" y2="603.5" stroke="#076a40" stroke-width="1"/>
<line x1="591.6" y1="603.5" x2="598.1" y2="603.5" stroke="#076a40" stroke-width="1"/>
<text x="594.9" y="605.3" font-size="8.5" text-anchor="middle">***</text>
<rect x="620.7" y="570.4" width="14.3" height="62.6" fill="#7d7d7d"/>
<line x1="627.9" y1="570.4" x2="627.9" y2="563.7" stroke="#7d7d7d" stroke-width="1"/>
<line x1="624.6" y1="563.7" x2="631.1" y2="563.7" stroke="#7d7d7d" stroke-width="1"/>
<rect x="640.7" y="605.3" width="14.1" height="27.7" fill="#0cbf76"/>
<line x1="647.8" y1="605.3" x2="647.8" y2="604.7" stroke="#0cbf76" stroke-width="1"/>
<line x1="644.5" y1="604.7" x2="651.0" y2="604.7" stroke="#0cbf76" stroke-width="1"/>
<text x="647.8" y="606.5" font-size="8.5" text-anchor="middle">***</text>
<rect x="660.5" y="604.4" width="14.3" height="28.6" fill="#076a40"/>
<line x1="667.6" y1="604.4" x2="667.6" y2="603.2" stroke="#076a40" stroke-width="1"/>
<line x1="664.4" y1="603.2" x2="670.9" y2="603.2" stroke="#076a40" stroke-width="1"/>
<text x="667.6" y="605.0" font-size="8.5" text-anchor="middle">***</text>
<line x1="574.1" y1="633.0" x2="574.1" y2="635.5" stroke="#1a1a1a" stroke-width="1"/>
<line x1="647.8" y1="633.0" x2="647.8" y2="635.5" stroke="#1a1a1a" stroke-width="1"/>
<text x="0" y="0" font-size="10.5" transform="translate(574.1 646.2) scale(0.79 1)" text-anchor="middle">5-8F</text>
<text x="0" y="0" font-size="10.5" transform="translate(647.8 646.2) scale(0.79 1)" text-anchor="middle">CNE2</text>
<text x="0" y="0" font-size="7" transform="translate(562.4 523.5) scale(0.72 1)">13</text>
<text x="567.9" y="528.3" font-size="10" textLength="63.6" lengthAdjust="spacingAndGlyphs">C labelled lactate</text>
<rect x="541.5" y="541.5" width="9.3" height="8.7" fill="#7d7d7d"/>
<text x="0" y="0" font-size="10.5" transform="translate(554.9 549.9) scale(0.76 1)">shNC</text>
<rect x="579.1" y="541.5" width="9.3" height="8.7" fill="#0cbf76"/>
<text x="0" y="0" font-size="10.5" transform="translate(592.5 549.9) scale(0.76 1)">shLINC-1</text>
<rect x="630.7" y="541.5" width="9.3" height="8.7" fill="#076a40"/>
<text x="0" y="0" font-size="10.5" transform="translate(644.1 549.9) scale(0.76 1)">shLINC-2</text>
<text x="0" y="0" font-size="10.2" transform="translate(518.6 585.7) rotate(-90) scale(0.98 1)" text-anchor="middle">Relative levels</text>
</svg>
</body></html>
